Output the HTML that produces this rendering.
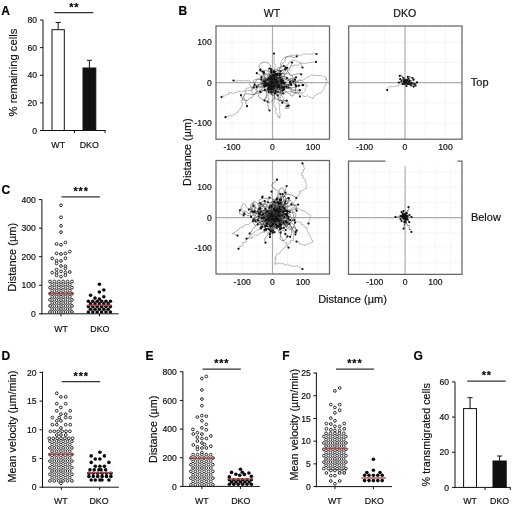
<!DOCTYPE html>
<html><head><meta charset="utf-8"><title>Figure</title>
<style>
html,body{margin:0;padding:0;background:#fff;}
svg{display:block;will-change:transform;}
text{font-family:"Liberation Sans", sans-serif;stroke:#111;stroke-width:0.18px;}
</style></head>
<body>
<svg width="520" height="507" viewBox="0 0 520 507">
<rect width="520" height="507" fill="#fff"/>
<text x="1.30" y="15.00" font-size="12" text-anchor="start" font-weight="bold" fill="#000">A</text>
<line x1="43.00" y1="20.00" x2="43.00" y2="131.00" stroke="#111" stroke-width="1"/>
<line x1="40.00" y1="130.50" x2="43.00" y2="130.50" stroke="#111" stroke-width="1"/>
<text x="37.00" y="133.60" font-size="8.6" text-anchor="end" font-weight="normal" fill="#111">0</text>
<line x1="40.00" y1="102.88" x2="43.00" y2="102.88" stroke="#111" stroke-width="1"/>
<text x="37.00" y="105.97" font-size="8.6" text-anchor="end" font-weight="normal" fill="#111">20</text>
<line x1="40.00" y1="75.25" x2="43.00" y2="75.25" stroke="#111" stroke-width="1"/>
<text x="37.00" y="78.35" font-size="8.6" text-anchor="end" font-weight="normal" fill="#111">40</text>
<line x1="40.00" y1="47.62" x2="43.00" y2="47.62" stroke="#111" stroke-width="1"/>
<text x="37.00" y="50.73" font-size="8.6" text-anchor="end" font-weight="normal" fill="#111">60</text>
<line x1="40.00" y1="20.00" x2="43.00" y2="20.00" stroke="#111" stroke-width="1"/>
<text x="37.00" y="23.10" font-size="8.6" text-anchor="end" font-weight="normal" fill="#111">80</text>
<line x1="42.50" y1="130.50" x2="105.50" y2="130.50" stroke="#111" stroke-width="1"/>
<line x1="74.50" y1="130.50" x2="74.50" y2="133.10" stroke="#111" stroke-width="1"/>
<line x1="105.00" y1="130.50" x2="105.00" y2="133.10" stroke="#111" stroke-width="1"/>
<rect x="52.00" y="29.67" width="12.30" height="100.83" fill="#fff" stroke="#111" stroke-width="1"/>
<line x1="58.15" y1="29.67" x2="58.15" y2="22.50" stroke="#111" stroke-width="1"/>
<line x1="55.60" y1="22.50" x2="60.70" y2="22.50" stroke="#111" stroke-width="1"/>
<rect x="83.00" y="68.00" width="12.80" height="62.50" fill="#111" stroke="#111" stroke-width="1"/>
<line x1="89.40" y1="68.00" x2="89.40" y2="60.30" stroke="#111" stroke-width="1"/>
<line x1="86.90" y1="60.30" x2="91.90" y2="60.30" stroke="#111" stroke-width="1"/>
<line x1="54.30" y1="12.60" x2="93.30" y2="12.60" stroke="#333" stroke-width="1.3"/>
<text x="71.30" y="11.30" font-size="10.8" text-anchor="middle" font-weight="bold" fill="#000">*</text>
<text x="76.30" y="11.30" font-size="10.8" text-anchor="middle" font-weight="bold" fill="#000">*</text>
<text x="58.20" y="147.90" font-size="8.8" text-anchor="middle" font-weight="normal" fill="#111">WT</text>
<text x="89.30" y="147.90" font-size="8.8" text-anchor="middle" font-weight="normal" fill="#111">DKO</text>
<text x="17.00" y="72.60" font-size="11.2" text-anchor="middle" font-weight="normal" fill="#111" transform="rotate(-90 17.00 72.60)">% remaining cells</text>
<text x="1.60" y="194.00" font-size="12" text-anchor="start" font-weight="bold" fill="#000">C</text>
<line x1="41.90" y1="199.40" x2="41.90" y2="314.30" stroke="#111" stroke-width="1"/>
<line x1="38.90" y1="313.80" x2="41.90" y2="313.80" stroke="#111" stroke-width="1"/>
<text x="35.90" y="316.90" font-size="8.6" text-anchor="end" font-weight="normal" fill="#111">0</text>
<line x1="38.90" y1="285.25" x2="41.90" y2="285.25" stroke="#111" stroke-width="1"/>
<text x="35.90" y="288.35" font-size="8.6" text-anchor="end" font-weight="normal" fill="#111">100</text>
<line x1="38.90" y1="256.70" x2="41.90" y2="256.70" stroke="#111" stroke-width="1"/>
<text x="35.90" y="259.80" font-size="8.6" text-anchor="end" font-weight="normal" fill="#111">200</text>
<line x1="38.90" y1="228.15" x2="41.90" y2="228.15" stroke="#111" stroke-width="1"/>
<text x="35.90" y="231.25" font-size="8.6" text-anchor="end" font-weight="normal" fill="#111">300</text>
<line x1="38.90" y1="199.60" x2="41.90" y2="199.60" stroke="#111" stroke-width="1"/>
<text x="35.90" y="202.70" font-size="8.6" text-anchor="end" font-weight="normal" fill="#111">400</text>
<line x1="41.40" y1="313.80" x2="118.60" y2="313.80" stroke="#111" stroke-width="1"/>
<line x1="61.00" y1="313.80" x2="61.00" y2="316.40" stroke="#111" stroke-width="1"/>
<line x1="99.40" y1="313.80" x2="99.40" y2="316.40" stroke="#111" stroke-width="1"/>
<line x1="61.50" y1="196.80" x2="99.90" y2="196.80" stroke="#333" stroke-width="1.3"/>
<text x="75.55" y="195.00" font-size="10.8" text-anchor="middle" font-weight="bold" fill="#000">*</text>
<text x="80.65" y="195.00" font-size="10.8" text-anchor="middle" font-weight="bold" fill="#000">*</text>
<text x="85.75" y="195.00" font-size="10.8" text-anchor="middle" font-weight="bold" fill="#000">*</text>
<text x="61.00" y="332.00" font-size="8.8" text-anchor="middle" font-weight="normal" fill="#111">WT</text>
<text x="99.85" y="332.00" font-size="8.8" text-anchor="middle" font-weight="normal" fill="#111">DKO</text>
<text x="15.60" y="257.30" font-size="11" text-anchor="middle" font-weight="normal" fill="#111" transform="rotate(-90 15.60 257.30)">Distance (&#181;m)</text>
<g fill="#fff" stroke="#222" stroke-width="0.95"><circle cx="61.00" cy="205.30" r="1.38"/><circle cx="61.00" cy="217.30" r="1.38"/><circle cx="61.00" cy="225.80" r="1.38"/><circle cx="61.00" cy="232.10" r="1.38"/><circle cx="56.60" cy="243.90" r="1.38"/><circle cx="61.00" cy="244.80" r="1.38"/><circle cx="65.40" cy="242.50" r="1.38"/><circle cx="56.60" cy="253.40" r="1.38"/><circle cx="61.00" cy="254.00" r="1.38"/><circle cx="65.40" cy="253.40" r="1.38"/><circle cx="69.80" cy="251.60" r="1.38"/><circle cx="52.20" cy="258.40" r="1.38"/><circle cx="65.40" cy="258.20" r="1.38"/><circle cx="56.60" cy="260.70" r="1.38"/><circle cx="61.00" cy="260.90" r="1.38"/><circle cx="56.60" cy="263.50" r="1.38"/><circle cx="61.00" cy="266.00" r="1.38"/><circle cx="65.40" cy="266.20" r="1.38"/><circle cx="65.40" cy="268.60" r="1.38"/><circle cx="56.60" cy="269.60" r="1.38"/><circle cx="61.00" cy="271.40" r="1.38"/><circle cx="52.20" cy="272.60" r="1.38"/><circle cx="56.60" cy="272.90" r="1.38"/><circle cx="65.40" cy="272.60" r="1.38"/><circle cx="69.80" cy="272.00" r="1.38"/><circle cx="56.60" cy="275.40" r="1.38"/><circle cx="65.40" cy="275.20" r="1.38"/><circle cx="61.00" cy="276.60" r="1.38"/><circle cx="50.00" cy="312.00" r="1.38"/><circle cx="54.40" cy="312.00" r="1.38"/><circle cx="58.80" cy="312.00" r="1.38"/><circle cx="63.20" cy="312.00" r="1.38"/><circle cx="67.60" cy="312.00" r="1.38"/><circle cx="72.00" cy="312.00" r="1.38"/><circle cx="52.20" cy="308.95" r="1.38"/><circle cx="56.60" cy="308.95" r="1.38"/><circle cx="61.00" cy="308.95" r="1.38"/><circle cx="65.40" cy="308.95" r="1.38"/><circle cx="69.80" cy="308.95" r="1.38"/><circle cx="50.00" cy="305.90" r="1.38"/><circle cx="54.40" cy="305.90" r="1.38"/><circle cx="58.80" cy="305.90" r="1.38"/><circle cx="63.20" cy="305.90" r="1.38"/><circle cx="67.60" cy="305.90" r="1.38"/><circle cx="72.00" cy="305.90" r="1.38"/><circle cx="52.20" cy="302.85" r="1.38"/><circle cx="56.60" cy="302.85" r="1.38"/><circle cx="61.00" cy="302.85" r="1.38"/><circle cx="65.40" cy="302.85" r="1.38"/><circle cx="69.80" cy="302.85" r="1.38"/><circle cx="50.00" cy="299.80" r="1.38"/><circle cx="54.40" cy="299.80" r="1.38"/><circle cx="58.80" cy="299.80" r="1.38"/><circle cx="63.20" cy="299.80" r="1.38"/><circle cx="67.60" cy="299.80" r="1.38"/><circle cx="72.00" cy="299.80" r="1.38"/><circle cx="52.20" cy="296.75" r="1.38"/><circle cx="56.60" cy="296.75" r="1.38"/><circle cx="61.00" cy="296.75" r="1.38"/><circle cx="65.40" cy="296.75" r="1.38"/><circle cx="69.80" cy="296.75" r="1.38"/><circle cx="50.00" cy="293.70" r="1.38"/><circle cx="54.40" cy="293.70" r="1.38"/><circle cx="58.80" cy="293.70" r="1.38"/><circle cx="63.20" cy="293.70" r="1.38"/><circle cx="67.60" cy="293.70" r="1.38"/><circle cx="72.00" cy="293.70" r="1.38"/><circle cx="52.20" cy="290.65" r="1.38"/><circle cx="56.60" cy="290.65" r="1.38"/><circle cx="61.00" cy="290.65" r="1.38"/><circle cx="65.40" cy="290.65" r="1.38"/><circle cx="69.80" cy="290.65" r="1.38"/><circle cx="50.00" cy="287.60" r="1.38"/><circle cx="54.40" cy="287.60" r="1.38"/><circle cx="58.80" cy="287.60" r="1.38"/><circle cx="63.20" cy="287.60" r="1.38"/><circle cx="67.60" cy="287.60" r="1.38"/><circle cx="72.00" cy="287.60" r="1.38"/><circle cx="52.20" cy="284.55" r="1.38"/><circle cx="56.60" cy="284.55" r="1.38"/><circle cx="61.00" cy="284.55" r="1.38"/><circle cx="65.40" cy="284.55" r="1.38"/><circle cx="69.80" cy="284.55" r="1.38"/><circle cx="50.00" cy="281.50" r="1.38"/><circle cx="54.40" cy="281.50" r="1.38"/><circle cx="58.80" cy="281.50" r="1.38"/><circle cx="63.20" cy="281.50" r="1.38"/><circle cx="67.60" cy="281.50" r="1.38"/><circle cx="72.00" cy="281.50" r="1.38"/></g>
<line x1="48.30" y1="293.60" x2="73.90" y2="293.60" stroke="#b04545" stroke-width="1.4"/>
<g fill="#0a0a0a"><circle cx="99.40" cy="284.30" r="1.8"/><circle cx="103.80" cy="290.00" r="1.8"/><circle cx="99.40" cy="292.00" r="1.8"/><circle cx="90.60" cy="295.30" r="1.8"/><circle cx="103.80" cy="296.70" r="1.8"/><circle cx="95.00" cy="298.10" r="1.8"/><circle cx="99.40" cy="299.00" r="1.8"/><circle cx="88.40" cy="312.00" r="1.8"/><circle cx="92.80" cy="312.00" r="1.8"/><circle cx="97.20" cy="312.00" r="1.8"/><circle cx="101.60" cy="312.00" r="1.8"/><circle cx="106.00" cy="312.00" r="1.8"/><circle cx="110.40" cy="312.00" r="1.8"/><circle cx="90.60" cy="309.30" r="1.8"/><circle cx="95.00" cy="309.30" r="1.8"/><circle cx="99.40" cy="309.30" r="1.8"/><circle cx="103.80" cy="309.30" r="1.8"/><circle cx="108.20" cy="309.30" r="1.8"/><circle cx="88.40" cy="306.60" r="1.8"/><circle cx="92.80" cy="306.60" r="1.8"/><circle cx="97.20" cy="306.60" r="1.8"/><circle cx="101.60" cy="306.60" r="1.8"/><circle cx="106.00" cy="306.60" r="1.8"/><circle cx="110.40" cy="306.60" r="1.8"/><circle cx="90.60" cy="303.90" r="1.8"/><circle cx="95.00" cy="303.90" r="1.8"/><circle cx="99.40" cy="303.90" r="1.8"/><circle cx="103.80" cy="303.90" r="1.8"/><circle cx="108.20" cy="303.90" r="1.8"/><circle cx="88.40" cy="301.20" r="1.8"/><circle cx="92.80" cy="301.20" r="1.8"/><circle cx="97.20" cy="301.20" r="1.8"/><circle cx="101.60" cy="301.20" r="1.8"/><circle cx="106.00" cy="301.20" r="1.8"/><circle cx="110.40" cy="301.20" r="1.8"/></g>
<line x1="87.10" y1="305.30" x2="112.00" y2="305.30" stroke="#b04545" stroke-width="1.4"/>
<text x="1.60" y="360.00" font-size="12" text-anchor="start" font-weight="bold" fill="#000">D</text>
<line x1="42.50" y1="371.60" x2="42.50" y2="487.70" stroke="#111" stroke-width="1"/>
<line x1="39.50" y1="487.20" x2="42.50" y2="487.20" stroke="#111" stroke-width="1"/>
<text x="36.50" y="490.30" font-size="8.6" text-anchor="end" font-weight="normal" fill="#111">0</text>
<line x1="39.50" y1="458.50" x2="42.50" y2="458.50" stroke="#111" stroke-width="1"/>
<text x="36.50" y="461.60" font-size="8.6" text-anchor="end" font-weight="normal" fill="#111">5</text>
<line x1="39.50" y1="429.80" x2="42.50" y2="429.80" stroke="#111" stroke-width="1"/>
<text x="36.50" y="432.90" font-size="8.6" text-anchor="end" font-weight="normal" fill="#111">10</text>
<line x1="39.50" y1="401.10" x2="42.50" y2="401.10" stroke="#111" stroke-width="1"/>
<text x="36.50" y="404.20" font-size="8.6" text-anchor="end" font-weight="normal" fill="#111">15</text>
<line x1="39.50" y1="372.40" x2="42.50" y2="372.40" stroke="#111" stroke-width="1"/>
<text x="36.50" y="375.50" font-size="8.6" text-anchor="end" font-weight="normal" fill="#111">20</text>
<line x1="42.00" y1="487.20" x2="118.90" y2="487.20" stroke="#111" stroke-width="1"/>
<line x1="61.30" y1="487.20" x2="61.30" y2="489.80" stroke="#111" stroke-width="1"/>
<line x1="99.70" y1="487.20" x2="99.70" y2="489.80" stroke="#111" stroke-width="1"/>
<line x1="61.60" y1="381.70" x2="100.20" y2="381.70" stroke="#333" stroke-width="1.3"/>
<text x="75.65" y="379.60" font-size="10.8" text-anchor="middle" font-weight="bold" fill="#000">*</text>
<text x="80.75" y="379.60" font-size="10.8" text-anchor="middle" font-weight="bold" fill="#000">*</text>
<text x="85.85" y="379.60" font-size="10.8" text-anchor="middle" font-weight="bold" fill="#000">*</text>
<text x="60.80" y="503.80" font-size="8.8" text-anchor="middle" font-weight="normal" fill="#111">WT</text>
<text x="99.00" y="503.80" font-size="8.8" text-anchor="middle" font-weight="normal" fill="#111">DKO</text>
<text x="16.00" y="426.50" font-size="10.8" text-anchor="middle" font-weight="normal" fill="#111" transform="rotate(-90 16.00 426.50)">Mean velocity (&#181;m/min)</text>
<g fill="#fff" stroke="#222" stroke-width="0.95"><circle cx="56.80" cy="393.30" r="1.38"/><circle cx="60.90" cy="396.90" r="1.38"/><circle cx="65.70" cy="396.90" r="1.38"/><circle cx="56.80" cy="403.70" r="1.38"/><circle cx="65.70" cy="403.70" r="1.38"/><circle cx="60.90" cy="407.50" r="1.38"/><circle cx="56.80" cy="410.80" r="1.38"/><circle cx="70.20" cy="410.80" r="1.38"/><circle cx="60.90" cy="414.10" r="1.38"/><circle cx="65.70" cy="414.10" r="1.38"/><circle cx="52.40" cy="417.60" r="1.38"/><circle cx="59.20" cy="417.60" r="1.38"/><circle cx="65.70" cy="417.60" r="1.38"/><circle cx="70.20" cy="417.60" r="1.38"/><circle cx="56.80" cy="420.80" r="1.38"/><circle cx="60.90" cy="420.80" r="1.38"/><circle cx="52.40" cy="424.70" r="1.38"/><circle cx="56.80" cy="424.70" r="1.38"/><circle cx="65.70" cy="424.70" r="1.38"/><circle cx="70.20" cy="424.70" r="1.38"/><circle cx="60.90" cy="427.90" r="1.38"/><circle cx="50.40" cy="431.30" r="1.38"/><circle cx="54.30" cy="431.30" r="1.38"/><circle cx="58.20" cy="431.30" r="1.38"/><circle cx="62.10" cy="431.30" r="1.38"/><circle cx="66.00" cy="431.30" r="1.38"/><circle cx="69.90" cy="431.30" r="1.38"/><circle cx="56.80" cy="435.00" r="1.38"/><circle cx="60.90" cy="435.00" r="1.38"/><circle cx="65.70" cy="435.00" r="1.38"/><circle cx="49.30" cy="438.30" r="1.38"/><circle cx="53.20" cy="438.30" r="1.38"/><circle cx="57.10" cy="438.30" r="1.38"/><circle cx="61.00" cy="438.30" r="1.38"/><circle cx="64.90" cy="438.30" r="1.38"/><circle cx="68.80" cy="438.30" r="1.38"/><circle cx="72.70" cy="438.30" r="1.38"/><circle cx="49.90" cy="480.90" r="1.38"/><circle cx="54.30" cy="480.90" r="1.38"/><circle cx="58.70" cy="480.90" r="1.38"/><circle cx="63.10" cy="480.90" r="1.38"/><circle cx="67.50" cy="480.90" r="1.38"/><circle cx="71.90" cy="480.90" r="1.38"/><circle cx="52.10" cy="477.60" r="1.38"/><circle cx="56.50" cy="477.60" r="1.38"/><circle cx="60.90" cy="477.60" r="1.38"/><circle cx="65.30" cy="477.60" r="1.38"/><circle cx="69.70" cy="477.60" r="1.38"/><circle cx="49.90" cy="474.30" r="1.38"/><circle cx="54.30" cy="474.30" r="1.38"/><circle cx="58.70" cy="474.30" r="1.38"/><circle cx="63.10" cy="474.30" r="1.38"/><circle cx="67.50" cy="474.30" r="1.38"/><circle cx="71.90" cy="474.30" r="1.38"/><circle cx="52.10" cy="471.00" r="1.38"/><circle cx="56.50" cy="471.00" r="1.38"/><circle cx="60.90" cy="471.00" r="1.38"/><circle cx="65.30" cy="471.00" r="1.38"/><circle cx="69.70" cy="471.00" r="1.38"/><circle cx="49.90" cy="467.70" r="1.38"/><circle cx="54.30" cy="467.70" r="1.38"/><circle cx="58.70" cy="467.70" r="1.38"/><circle cx="63.10" cy="467.70" r="1.38"/><circle cx="67.50" cy="467.70" r="1.38"/><circle cx="71.90" cy="467.70" r="1.38"/><circle cx="52.10" cy="464.40" r="1.38"/><circle cx="56.50" cy="464.40" r="1.38"/><circle cx="60.90" cy="464.40" r="1.38"/><circle cx="65.30" cy="464.40" r="1.38"/><circle cx="69.70" cy="464.40" r="1.38"/><circle cx="49.90" cy="461.10" r="1.38"/><circle cx="54.30" cy="461.10" r="1.38"/><circle cx="58.70" cy="461.10" r="1.38"/><circle cx="63.10" cy="461.10" r="1.38"/><circle cx="67.50" cy="461.10" r="1.38"/><circle cx="71.90" cy="461.10" r="1.38"/><circle cx="52.10" cy="457.80" r="1.38"/><circle cx="56.50" cy="457.80" r="1.38"/><circle cx="60.90" cy="457.80" r="1.38"/><circle cx="65.30" cy="457.80" r="1.38"/><circle cx="69.70" cy="457.80" r="1.38"/><circle cx="49.90" cy="454.50" r="1.38"/><circle cx="54.30" cy="454.50" r="1.38"/><circle cx="58.70" cy="454.50" r="1.38"/><circle cx="63.10" cy="454.50" r="1.38"/><circle cx="67.50" cy="454.50" r="1.38"/><circle cx="71.90" cy="454.50" r="1.38"/><circle cx="52.10" cy="451.20" r="1.38"/><circle cx="56.50" cy="451.20" r="1.38"/><circle cx="60.90" cy="451.20" r="1.38"/><circle cx="65.30" cy="451.20" r="1.38"/><circle cx="69.70" cy="451.20" r="1.38"/><circle cx="49.90" cy="447.90" r="1.38"/><circle cx="54.30" cy="447.90" r="1.38"/><circle cx="58.70" cy="447.90" r="1.38"/><circle cx="63.10" cy="447.90" r="1.38"/><circle cx="67.50" cy="447.90" r="1.38"/><circle cx="71.90" cy="447.90" r="1.38"/><circle cx="52.10" cy="444.60" r="1.38"/><circle cx="56.50" cy="444.60" r="1.38"/><circle cx="60.90" cy="444.60" r="1.38"/><circle cx="65.30" cy="444.60" r="1.38"/><circle cx="69.70" cy="444.60" r="1.38"/><circle cx="49.90" cy="441.30" r="1.38"/><circle cx="54.30" cy="441.30" r="1.38"/><circle cx="58.70" cy="441.30" r="1.38"/><circle cx="63.10" cy="441.30" r="1.38"/><circle cx="67.50" cy="441.30" r="1.38"/><circle cx="71.90" cy="441.30" r="1.38"/><circle cx="60.90" cy="483.30" r="1.38"/></g>
<line x1="48.30" y1="454.30" x2="74.20" y2="454.30" stroke="#b04545" stroke-width="1.4"/>
<g fill="#0a0a0a"><circle cx="99.90" cy="452.30" r="1.8"/><circle cx="91.20" cy="455.90" r="1.8"/><circle cx="104.40" cy="455.90" r="1.8"/><circle cx="95.30" cy="459.00" r="1.8"/><circle cx="99.90" cy="459.00" r="1.8"/><circle cx="91.20" cy="462.40" r="1.8"/><circle cx="108.90" cy="462.40" r="1.8"/><circle cx="95.30" cy="466.20" r="1.8"/><circle cx="99.90" cy="466.20" r="1.8"/><circle cx="104.40" cy="466.20" r="1.8"/><circle cx="90.00" cy="469.70" r="1.8"/><circle cx="94.30" cy="469.70" r="1.8"/><circle cx="98.90" cy="469.70" r="1.8"/><circle cx="101.00" cy="469.70" r="1.8"/><circle cx="105.60" cy="469.70" r="1.8"/><circle cx="88.90" cy="476.40" r="1.8"/><circle cx="93.30" cy="476.40" r="1.8"/><circle cx="97.70" cy="476.40" r="1.8"/><circle cx="102.10" cy="476.40" r="1.8"/><circle cx="106.50" cy="476.40" r="1.8"/><circle cx="110.90" cy="476.40" r="1.8"/><circle cx="88.90" cy="473.30" r="1.8"/><circle cx="93.30" cy="473.30" r="1.8"/><circle cx="97.70" cy="473.30" r="1.8"/><circle cx="102.10" cy="473.30" r="1.8"/><circle cx="106.50" cy="473.30" r="1.8"/><circle cx="110.90" cy="473.30" r="1.8"/><circle cx="91.20" cy="480.00" r="1.8"/><circle cx="95.30" cy="480.00" r="1.8"/><circle cx="99.90" cy="480.00" r="1.8"/><circle cx="102.00" cy="480.00" r="1.8"/><circle cx="108.90" cy="480.00" r="1.8"/></g>
<line x1="87.60" y1="472.60" x2="112.80" y2="472.60" stroke="#b04545" stroke-width="1.4"/>
<text x="145.60" y="360.00" font-size="12" text-anchor="start" font-weight="bold" fill="#000">E</text>
<line x1="182.90" y1="371.40" x2="182.90" y2="486.90" stroke="#111" stroke-width="1"/>
<line x1="179.90" y1="486.40" x2="182.90" y2="486.40" stroke="#111" stroke-width="1"/>
<text x="176.90" y="489.50" font-size="8.6" text-anchor="end" font-weight="normal" fill="#111">0</text>
<line x1="179.90" y1="457.75" x2="182.90" y2="457.75" stroke="#111" stroke-width="1"/>
<text x="176.90" y="460.85" font-size="8.6" text-anchor="end" font-weight="normal" fill="#111">200</text>
<line x1="179.90" y1="429.10" x2="182.90" y2="429.10" stroke="#111" stroke-width="1"/>
<text x="176.90" y="432.20" font-size="8.6" text-anchor="end" font-weight="normal" fill="#111">400</text>
<line x1="179.90" y1="400.45" x2="182.90" y2="400.45" stroke="#111" stroke-width="1"/>
<text x="176.90" y="403.55" font-size="8.6" text-anchor="end" font-weight="normal" fill="#111">600</text>
<line x1="179.90" y1="371.80" x2="182.90" y2="371.80" stroke="#111" stroke-width="1"/>
<text x="176.90" y="374.90" font-size="8.6" text-anchor="end" font-weight="normal" fill="#111">800</text>
<line x1="182.40" y1="486.40" x2="259.70" y2="486.40" stroke="#111" stroke-width="1"/>
<line x1="201.90" y1="486.40" x2="201.90" y2="489.00" stroke="#111" stroke-width="1"/>
<line x1="240.40" y1="486.40" x2="240.40" y2="489.00" stroke="#111" stroke-width="1"/>
<line x1="202.60" y1="369.10" x2="240.80" y2="369.10" stroke="#333" stroke-width="1.3"/>
<text x="216.25" y="367.20" font-size="10.8" text-anchor="middle" font-weight="bold" fill="#000">*</text>
<text x="221.35" y="367.20" font-size="10.8" text-anchor="middle" font-weight="bold" fill="#000">*</text>
<text x="226.45" y="367.20" font-size="10.8" text-anchor="middle" font-weight="bold" fill="#000">*</text>
<text x="201.80" y="503.80" font-size="8.8" text-anchor="middle" font-weight="normal" fill="#111">WT</text>
<text x="240.70" y="503.80" font-size="8.8" text-anchor="middle" font-weight="normal" fill="#111">DKO</text>
<text x="156.80" y="429.40" font-size="10.8" text-anchor="middle" font-weight="normal" fill="#111" transform="rotate(-90 156.80 429.40)">Distance (&#181;m)</text>
<g fill="#fff" stroke="#222" stroke-width="0.95"><circle cx="201.90" cy="378.50" r="1.38"/><circle cx="206.30" cy="376.50" r="1.38"/><circle cx="201.90" cy="389.90" r="1.38"/><circle cx="201.90" cy="399.00" r="1.38"/><circle cx="201.90" cy="405.70" r="1.38"/><circle cx="197.40" cy="417.10" r="1.38"/><circle cx="201.90" cy="415.60" r="1.38"/><circle cx="206.30" cy="416.20" r="1.38"/><circle cx="201.90" cy="420.70" r="1.38"/><circle cx="206.30" cy="424.40" r="1.38"/><circle cx="192.90" cy="429.40" r="1.38"/><circle cx="201.90" cy="427.80" r="1.38"/><circle cx="206.30" cy="429.80" r="1.38"/><circle cx="193.30" cy="434.00" r="1.38"/><circle cx="197.40" cy="432.70" r="1.38"/><circle cx="201.90" cy="434.00" r="1.38"/><circle cx="210.80" cy="435.90" r="1.38"/><circle cx="197.40" cy="437.20" r="1.38"/><circle cx="201.90" cy="438.50" r="1.38"/><circle cx="206.40" cy="438.50" r="1.38"/><circle cx="197.40" cy="441.00" r="1.38"/><circle cx="201.90" cy="443.00" r="1.38"/><circle cx="204.40" cy="444.50" r="1.38"/><circle cx="193.30" cy="444.90" r="1.38"/><circle cx="197.40" cy="446.80" r="1.38"/><circle cx="201.90" cy="448.00" r="1.38"/><circle cx="206.40" cy="448.00" r="1.38"/><circle cx="210.80" cy="446.20" r="1.38"/><circle cx="197.40" cy="449.50" r="1.38"/><circle cx="201.90" cy="452.60" r="1.38"/><circle cx="190.90" cy="484.80" r="1.38"/><circle cx="195.30" cy="484.80" r="1.38"/><circle cx="199.70" cy="484.80" r="1.38"/><circle cx="204.10" cy="484.80" r="1.38"/><circle cx="208.50" cy="484.80" r="1.38"/><circle cx="212.90" cy="484.80" r="1.38"/><circle cx="193.10" cy="481.45" r="1.38"/><circle cx="197.50" cy="481.45" r="1.38"/><circle cx="201.90" cy="481.45" r="1.38"/><circle cx="206.30" cy="481.45" r="1.38"/><circle cx="210.70" cy="481.45" r="1.38"/><circle cx="190.90" cy="478.10" r="1.38"/><circle cx="195.30" cy="478.10" r="1.38"/><circle cx="199.70" cy="478.10" r="1.38"/><circle cx="204.10" cy="478.10" r="1.38"/><circle cx="208.50" cy="478.10" r="1.38"/><circle cx="212.90" cy="478.10" r="1.38"/><circle cx="193.10" cy="474.75" r="1.38"/><circle cx="197.50" cy="474.75" r="1.38"/><circle cx="201.90" cy="474.75" r="1.38"/><circle cx="206.30" cy="474.75" r="1.38"/><circle cx="210.70" cy="474.75" r="1.38"/><circle cx="190.90" cy="471.40" r="1.38"/><circle cx="195.30" cy="471.40" r="1.38"/><circle cx="199.70" cy="471.40" r="1.38"/><circle cx="204.10" cy="471.40" r="1.38"/><circle cx="208.50" cy="471.40" r="1.38"/><circle cx="212.90" cy="471.40" r="1.38"/><circle cx="193.10" cy="468.05" r="1.38"/><circle cx="197.50" cy="468.05" r="1.38"/><circle cx="201.90" cy="468.05" r="1.38"/><circle cx="206.30" cy="468.05" r="1.38"/><circle cx="210.70" cy="468.05" r="1.38"/><circle cx="190.90" cy="464.70" r="1.38"/><circle cx="195.30" cy="464.70" r="1.38"/><circle cx="199.70" cy="464.70" r="1.38"/><circle cx="204.10" cy="464.70" r="1.38"/><circle cx="208.50" cy="464.70" r="1.38"/><circle cx="212.90" cy="464.70" r="1.38"/><circle cx="193.10" cy="461.35" r="1.38"/><circle cx="197.50" cy="461.35" r="1.38"/><circle cx="201.90" cy="461.35" r="1.38"/><circle cx="206.30" cy="461.35" r="1.38"/><circle cx="210.70" cy="461.35" r="1.38"/><circle cx="190.90" cy="458.00" r="1.38"/><circle cx="195.30" cy="458.00" r="1.38"/><circle cx="199.70" cy="458.00" r="1.38"/><circle cx="204.10" cy="458.00" r="1.38"/><circle cx="208.50" cy="458.00" r="1.38"/><circle cx="212.90" cy="458.00" r="1.38"/><circle cx="193.10" cy="454.65" r="1.38"/><circle cx="197.50" cy="454.65" r="1.38"/><circle cx="201.90" cy="454.65" r="1.38"/><circle cx="206.30" cy="454.65" r="1.38"/><circle cx="210.70" cy="454.65" r="1.38"/></g>
<line x1="189.20" y1="458.30" x2="214.80" y2="458.30" stroke="#b04545" stroke-width="1.4"/>
<g fill="#0a0a0a"><circle cx="240.40" cy="469.20" r="1.8"/><circle cx="231.50" cy="472.40" r="1.8"/><circle cx="242.30" cy="472.20" r="1.8"/><circle cx="248.90" cy="473.00" r="1.8"/><circle cx="235.90" cy="474.20" r="1.8"/><circle cx="244.40" cy="474.40" r="1.8"/><circle cx="239.80" cy="475.30" r="1.8"/><circle cx="251.40" cy="476.30" r="1.8"/><circle cx="229.30" cy="476.90" r="1.8"/><circle cx="229.40" cy="484.30" r="1.8"/><circle cx="233.80" cy="484.30" r="1.8"/><circle cx="238.20" cy="484.30" r="1.8"/><circle cx="242.60" cy="484.30" r="1.8"/><circle cx="247.00" cy="484.30" r="1.8"/><circle cx="251.40" cy="484.30" r="1.8"/><circle cx="231.60" cy="482.00" r="1.8"/><circle cx="236.00" cy="482.00" r="1.8"/><circle cx="240.40" cy="482.00" r="1.8"/><circle cx="244.80" cy="482.00" r="1.8"/><circle cx="249.20" cy="482.00" r="1.8"/><circle cx="229.40" cy="479.70" r="1.8"/><circle cx="233.80" cy="479.70" r="1.8"/><circle cx="238.20" cy="479.70" r="1.8"/><circle cx="242.60" cy="479.70" r="1.8"/><circle cx="247.00" cy="479.70" r="1.8"/><circle cx="251.40" cy="479.70" r="1.8"/></g>
<line x1="227.60" y1="479.00" x2="252.80" y2="479.00" stroke="#b04545" stroke-width="1.4"/>
<text x="282.20" y="360.00" font-size="12" text-anchor="start" font-weight="bold" fill="#000">F</text>
<line x1="316.40" y1="372.60" x2="316.40" y2="487.10" stroke="#111" stroke-width="1"/>
<line x1="313.40" y1="486.60" x2="316.40" y2="486.60" stroke="#111" stroke-width="1"/>
<text x="310.80" y="489.70" font-size="8.6" text-anchor="end" font-weight="normal" fill="#111">0</text>
<line x1="313.40" y1="463.88" x2="316.40" y2="463.88" stroke="#111" stroke-width="1"/>
<text x="310.80" y="466.98" font-size="8.6" text-anchor="end" font-weight="normal" fill="#111">5</text>
<line x1="313.40" y1="441.16" x2="316.40" y2="441.16" stroke="#111" stroke-width="1"/>
<text x="310.80" y="444.26" font-size="8.6" text-anchor="end" font-weight="normal" fill="#111">10</text>
<line x1="313.40" y1="418.44" x2="316.40" y2="418.44" stroke="#111" stroke-width="1"/>
<text x="310.80" y="421.54" font-size="8.6" text-anchor="end" font-weight="normal" fill="#111">15</text>
<line x1="313.40" y1="395.72" x2="316.40" y2="395.72" stroke="#111" stroke-width="1"/>
<text x="310.80" y="398.82" font-size="8.6" text-anchor="end" font-weight="normal" fill="#111">20</text>
<line x1="313.40" y1="373.00" x2="316.40" y2="373.00" stroke="#111" stroke-width="1"/>
<text x="310.80" y="376.10" font-size="8.6" text-anchor="end" font-weight="normal" fill="#111">25</text>
<line x1="315.90" y1="486.60" x2="392.00" y2="486.60" stroke="#111" stroke-width="1"/>
<line x1="334.90" y1="486.60" x2="334.90" y2="489.20" stroke="#111" stroke-width="1"/>
<line x1="373.40" y1="486.60" x2="373.40" y2="489.20" stroke="#111" stroke-width="1"/>
<line x1="336.00" y1="369.10" x2="374.10" y2="369.10" stroke="#333" stroke-width="1.3"/>
<text x="349.30" y="367.30" font-size="10.8" text-anchor="middle" font-weight="bold" fill="#000">*</text>
<text x="354.40" y="367.30" font-size="10.8" text-anchor="middle" font-weight="bold" fill="#000">*</text>
<text x="359.50" y="367.30" font-size="10.8" text-anchor="middle" font-weight="bold" fill="#000">*</text>
<text x="334.90" y="503.80" font-size="8.8" text-anchor="middle" font-weight="normal" fill="#111">WT</text>
<text x="374.40" y="503.80" font-size="8.8" text-anchor="middle" font-weight="normal" fill="#111">DKO</text>
<text x="297.80" y="424.70" font-size="10.8" text-anchor="middle" font-weight="normal" fill="#111" transform="rotate(-90 297.80 424.70)">Mean velocity (&#181;m/min)</text>
<g fill="#fff" stroke="#222" stroke-width="0.95"><circle cx="334.90" cy="390.90" r="1.38"/><circle cx="339.70" cy="388.00" r="1.38"/><circle cx="330.80" cy="404.60" r="1.38"/><circle cx="339.70" cy="404.60" r="1.38"/><circle cx="334.90" cy="407.50" r="1.38"/><circle cx="339.70" cy="410.20" r="1.38"/><circle cx="334.90" cy="412.90" r="1.38"/><circle cx="330.80" cy="418.10" r="1.38"/><circle cx="334.90" cy="420.80" r="1.38"/><circle cx="326.40" cy="423.60" r="1.38"/><circle cx="330.80" cy="424.00" r="1.38"/><circle cx="344.20" cy="423.60" r="1.38"/><circle cx="334.90" cy="426.40" r="1.38"/><circle cx="339.70" cy="426.40" r="1.38"/><circle cx="326.40" cy="428.80" r="1.38"/><circle cx="344.20" cy="428.80" r="1.38"/><circle cx="330.80" cy="429.80" r="1.38"/><circle cx="334.90" cy="430.50" r="1.38"/><circle cx="339.70" cy="430.50" r="1.38"/><circle cx="323.90" cy="468.50" r="1.38"/><circle cx="328.30" cy="468.50" r="1.38"/><circle cx="332.70" cy="468.50" r="1.38"/><circle cx="337.10" cy="468.50" r="1.38"/><circle cx="341.50" cy="468.50" r="1.38"/><circle cx="345.90" cy="468.50" r="1.38"/><circle cx="326.10" cy="465.30" r="1.38"/><circle cx="330.50" cy="465.30" r="1.38"/><circle cx="334.90" cy="465.30" r="1.38"/><circle cx="339.30" cy="465.30" r="1.38"/><circle cx="343.70" cy="465.30" r="1.38"/><circle cx="323.90" cy="462.10" r="1.38"/><circle cx="328.30" cy="462.10" r="1.38"/><circle cx="332.70" cy="462.10" r="1.38"/><circle cx="337.10" cy="462.10" r="1.38"/><circle cx="341.50" cy="462.10" r="1.38"/><circle cx="345.90" cy="462.10" r="1.38"/><circle cx="326.10" cy="458.90" r="1.38"/><circle cx="330.50" cy="458.90" r="1.38"/><circle cx="334.90" cy="458.90" r="1.38"/><circle cx="339.30" cy="458.90" r="1.38"/><circle cx="343.70" cy="458.90" r="1.38"/><circle cx="323.90" cy="455.70" r="1.38"/><circle cx="328.30" cy="455.70" r="1.38"/><circle cx="332.70" cy="455.70" r="1.38"/><circle cx="337.10" cy="455.70" r="1.38"/><circle cx="341.50" cy="455.70" r="1.38"/><circle cx="345.90" cy="455.70" r="1.38"/><circle cx="326.10" cy="452.50" r="1.38"/><circle cx="330.50" cy="452.50" r="1.38"/><circle cx="334.90" cy="452.50" r="1.38"/><circle cx="339.30" cy="452.50" r="1.38"/><circle cx="343.70" cy="452.50" r="1.38"/><circle cx="323.90" cy="449.30" r="1.38"/><circle cx="328.30" cy="449.30" r="1.38"/><circle cx="332.70" cy="449.30" r="1.38"/><circle cx="337.10" cy="449.30" r="1.38"/><circle cx="341.50" cy="449.30" r="1.38"/><circle cx="345.90" cy="449.30" r="1.38"/><circle cx="326.10" cy="446.10" r="1.38"/><circle cx="330.50" cy="446.10" r="1.38"/><circle cx="334.90" cy="446.10" r="1.38"/><circle cx="339.30" cy="446.10" r="1.38"/><circle cx="343.70" cy="446.10" r="1.38"/><circle cx="323.90" cy="442.90" r="1.38"/><circle cx="328.30" cy="442.90" r="1.38"/><circle cx="332.70" cy="442.90" r="1.38"/><circle cx="337.10" cy="442.90" r="1.38"/><circle cx="341.50" cy="442.90" r="1.38"/><circle cx="345.90" cy="442.90" r="1.38"/><circle cx="326.10" cy="439.70" r="1.38"/><circle cx="330.50" cy="439.70" r="1.38"/><circle cx="334.90" cy="439.70" r="1.38"/><circle cx="339.30" cy="439.70" r="1.38"/><circle cx="343.70" cy="439.70" r="1.38"/><circle cx="323.90" cy="436.50" r="1.38"/><circle cx="328.30" cy="436.50" r="1.38"/><circle cx="332.70" cy="436.50" r="1.38"/><circle cx="337.10" cy="436.50" r="1.38"/><circle cx="341.50" cy="436.50" r="1.38"/><circle cx="345.90" cy="436.50" r="1.38"/><circle cx="326.10" cy="433.30" r="1.38"/><circle cx="330.50" cy="433.30" r="1.38"/><circle cx="334.90" cy="433.30" r="1.38"/><circle cx="339.30" cy="433.30" r="1.38"/><circle cx="343.70" cy="433.30" r="1.38"/><circle cx="330.80" cy="470.50" r="1.38"/><circle cx="334.90" cy="470.50" r="1.38"/><circle cx="339.70" cy="470.50" r="1.38"/><circle cx="344.20" cy="470.50" r="1.38"/><circle cx="326.40" cy="473.00" r="1.38"/><circle cx="339.70" cy="473.00" r="1.38"/><circle cx="344.20" cy="473.00" r="1.38"/><circle cx="330.80" cy="475.60" r="1.38"/><circle cx="334.90" cy="475.60" r="1.38"/><circle cx="330.80" cy="481.00" r="1.38"/><circle cx="339.70" cy="481.00" r="1.38"/><circle cx="334.90" cy="483.80" r="1.38"/></g>
<line x1="323.00" y1="448.70" x2="348.20" y2="448.70" stroke="#b04545" stroke-width="1.4"/>
<g fill="#0a0a0a"><circle cx="373.40" cy="459.30" r="1.8"/><circle cx="373.40" cy="470.30" r="1.8"/><circle cx="366.80" cy="472.50" r="1.8"/><circle cx="380.00" cy="472.50" r="1.8"/><circle cx="364.60" cy="475.30" r="1.8"/><circle cx="369.00" cy="475.30" r="1.8"/><circle cx="373.40" cy="475.30" r="1.8"/><circle cx="377.80" cy="475.30" r="1.8"/><circle cx="382.20" cy="475.30" r="1.8"/><circle cx="364.60" cy="480.60" r="1.8"/><circle cx="369.00" cy="480.60" r="1.8"/><circle cx="373.40" cy="480.60" r="1.8"/><circle cx="377.80" cy="480.60" r="1.8"/><circle cx="382.20" cy="480.60" r="1.8"/></g>
<line x1="361.40" y1="478.00" x2="385.80" y2="478.00" stroke="#b04545" stroke-width="1.4"/>
<text x="413.40" y="360.30" font-size="12" text-anchor="start" font-weight="bold" fill="#000">G</text>
<line x1="455.00" y1="381.90" x2="455.00" y2="487.90" stroke="#111" stroke-width="1"/>
<line x1="452.00" y1="487.40" x2="455.00" y2="487.40" stroke="#111" stroke-width="1"/>
<text x="449.00" y="490.50" font-size="8.6" text-anchor="end" font-weight="normal" fill="#111">0</text>
<line x1="452.00" y1="452.23" x2="455.00" y2="452.23" stroke="#111" stroke-width="1"/>
<text x="449.00" y="455.33" font-size="8.6" text-anchor="end" font-weight="normal" fill="#111">20</text>
<line x1="452.00" y1="417.07" x2="455.00" y2="417.07" stroke="#111" stroke-width="1"/>
<text x="449.00" y="420.17" font-size="8.6" text-anchor="end" font-weight="normal" fill="#111">40</text>
<line x1="452.00" y1="381.90" x2="455.00" y2="381.90" stroke="#111" stroke-width="1"/>
<text x="449.00" y="385.00" font-size="8.6" text-anchor="end" font-weight="normal" fill="#111">60</text>
<line x1="454.50" y1="487.40" x2="510.50" y2="487.40" stroke="#111" stroke-width="1"/>
<line x1="485.00" y1="487.40" x2="485.00" y2="490.00" stroke="#111" stroke-width="1"/>
<line x1="510.30" y1="487.40" x2="510.30" y2="490.00" stroke="#111" stroke-width="1"/>
<rect x="463.60" y="408.60" width="12.90" height="78.80" fill="#fff" stroke="#111" stroke-width="1"/>
<line x1="470.05" y1="408.60" x2="470.05" y2="397.70" stroke="#111" stroke-width="1"/>
<line x1="467.50" y1="397.70" x2="472.60" y2="397.70" stroke="#111" stroke-width="1"/>
<rect x="493.00" y="461.00" width="13.20" height="26.40" fill="#111" stroke="#111" stroke-width="1"/>
<line x1="499.60" y1="461.00" x2="499.60" y2="456.00" stroke="#111" stroke-width="1"/>
<line x1="497.10" y1="456.00" x2="502.10" y2="456.00" stroke="#111" stroke-width="1"/>
<line x1="467.20" y1="381.10" x2="505.70" y2="381.10" stroke="#333" stroke-width="1.3"/>
<text x="483.95" y="379.30" font-size="10.8" text-anchor="middle" font-weight="bold" fill="#000">*</text>
<text x="488.95" y="379.30" font-size="10.8" text-anchor="middle" font-weight="bold" fill="#000">*</text>
<text x="470.00" y="503.80" font-size="8.8" text-anchor="middle" font-weight="normal" fill="#111">WT</text>
<text x="499.60" y="503.80" font-size="8.8" text-anchor="middle" font-weight="normal" fill="#111">DKO</text>
<text x="430.40" y="434.80" font-size="10.8" text-anchor="middle" font-weight="normal" fill="#111" transform="rotate(-90 430.40 434.80)">% transmigrated cells</text>
<text x="178.40" y="15.10" font-size="12" text-anchor="start" font-weight="bold" fill="#000">B</text>
<text x="271.90" y="16.60" font-size="10.6" text-anchor="middle" font-weight="normal" fill="#111">WT</text>
<text x="404.80" y="16.60" font-size="10.6" text-anchor="middle" font-weight="normal" fill="#111">DKO</text>
<text x="470.80" y="85.70" font-size="11" text-anchor="start" font-weight="normal" fill="#111">Top</text>
<text x="470.90" y="221.20" font-size="11" text-anchor="start" font-weight="normal" fill="#111">Below</text>
<text x="352.50" y="303.40" font-size="11" text-anchor="middle" font-weight="normal" fill="#111">Distance (&#181;m)</text>
<text x="191.30" y="152.20" font-size="10.8" text-anchor="middle" font-weight="normal" fill="#111" transform="rotate(-90 191.30 152.20)">Distance (&#181;m)</text>
<defs><clipPath id="cwt1"><rect x="216" y="26" width="113.5" height="113.2"/></clipPath><clipPath id="cwt2"><rect x="216" y="160.5" width="113.5" height="113.5"/></clipPath><clipPath id="cdk1"><rect x="348.7" y="26" width="113.3" height="113.2"/></clipPath><clipPath id="cdk2"><rect x="348.5" y="161" width="113.5" height="113.4"/></clipPath></defs>
<g stroke="#f0f0f0" stroke-width="0.6"><line x1="252.25" y1="26" x2="252.25" y2="139.2"/><line x1="292.75" y1="26" x2="292.75" y2="139.2"/><line x1="216" y1="62.45" x2="329.5" y2="62.45"/><line x1="216" y1="102.95" x2="329.5" y2="102.95"/><line x1="232.00" y1="26" x2="232.00" y2="139.2"/><line x1="313.00" y1="26" x2="313.00" y2="139.2"/><line x1="216" y1="42.20" x2="329.5" y2="42.20"/><line x1="216" y1="123.20" x2="329.5" y2="123.20"/></g>
<line x1="272.50" y1="26.00" x2="272.50" y2="139.20" stroke="#acacac" stroke-width="1.2"/>
<line x1="216.00" y1="82.70" x2="329.50" y2="82.70" stroke="#acacac" stroke-width="1.2"/>
<g clip-path="url(#cwt1)"><g fill="none" stroke="#777" stroke-width="0.5" stroke-linejoin="round">
<path d="M273.5,83.5 L273.6,80.9 L275.4,78.6 L275.4,76.4 L277.3,74.8 L278.9,70.2 L279.6,69.4 L280.5,65.5 L280.7,62.9 L282.0,60.2 L283.3,58.3 L284.5,57.3 L286.1,56.9 L288.9,56.0 L289.2,55.9 L291.5,55.1 L294.2,55.4 L296.7,54.3 L299.2,55.7 L300.6,55.9 L303.7,53.7 L305.5,54.0 L308.3,54.2 L311.5,54.1 L313.7,53.5 L316.5,54.0"/>
<path d="M278.5,78.5 L278.8,78.0 L279.1,77.2 L279.8,75.4 L282.5,73.9 L282.9,74.0 L283.7,72.5 L285.1,71.9 L285.2,71.3 L286.6,70.1 L286.7,69.2 L288.7,68.4 L289.5,67.8 L291.1,65.6 L293.8,65.7 L293.8,65.4 L295.2,64.9 L298.1,65.3 L300.1,63.3 L302.0,63.0 L304.9,63.7 L306.7,63.2 L308.6,62.5 L312.2,62.4 L314.2,61.8 L316.0,61.9"/>
<path d="M281.5,79.5 L282.5,78.0 L283.9,77.5 L283.6,75.7 L284.7,75.4 L285.8,73.8 L287.2,72.5 L286.6,72.5 L288.2,70.9 L289.5,68.9 L288.9,69.5 L291.2,66.8 L290.5,66.7 L290.9,65.7 L291.9,63.7 L292.0,62.5"/>
<path d="M283.5,85.5 L286.3,84.7 L288.3,86.2 L288.5,85.3 L290.6,83.9 L294.6,84.2 L295.9,82.7 L297.6,81.8 L299.4,80.3 L300.8,80.6 L303.5,79.7 L306.0,78.2 L306.9,77.2 L309.5,76.6 L311.3,74.8 L313.3,75.4 L315.2,75.5 L316.6,75.4 L320.4,75.6 L321.2,75.8 L323.4,76.2 L325.5,76.5 L325.9,77.4 L326.2,79.8 L326.7,78.9 L325.8,79.3 L327.0,80.8 L326.9,81.3 L325.8,83.6 L325.8,84.3 L325.9,85.6 L324.8,86.1 L323.9,86.9 L324.2,88.7 L323.3,90.0 L321.4,92.3 L320.1,92.8 L318.2,93.8 L316.3,94.7 L314.1,96.2 L313.1,98.4 L312.8,98.3 L308.8,96.5 L307.5,95.4 L306.5,96.4 L303.7,96.7 L302.2,94.5 L300.5,93.6 L299.0,92.3 L297.4,92.2 L295.3,91.3 L294.1,89.7 L293.1,89.8 L292.4,89.1 L290.5,88.3 L288.5,87.5"/>
<path d="M265.5,85.5 L264.1,85.6 L261.7,86.2 L261.5,86.9 L261.4,87.0 L260.2,88.3 L258.4,87.7 L256.4,89.3 L255.7,89.4 L252.1,87.8 L252.6,90.0 L250.3,90.3 L247.4,90.6 L245.5,91.6 L244.0,90.6 L241.1,92.1 L240.5,91.9 L238.5,91.2 L236.2,92.5 L234.0,92.6 L233.9,92.9 L232.8,94.1 L231.3,92.8 L228.9,92.4 L228.8,94.7 L226.5,94.6 L225.9,94.9 L225.3,95.6 L223.2,96.6 L222.7,95.5 L221.5,97.1"/>
<path d="M263.5,83.5 L261.3,84.9 L258.6,84.2 L258.3,85.5 L255.9,85.8 L253.3,86.0 L252.7,86.7 L251.0,87.2 L249.6,87.7 L247.0,88.3 L246.0,88.3 L246.2,89.7 L244.9,90.2 L245.5,91.3 L245.0,92.7 L244.7,93.2 L244.2,95.3 L243.0,96.8 L242.7,98.0 L243.3,99.5 L241.8,100.0 L241.6,102.3 L242.2,102.2 L242.4,105.5 L241.4,106.1 L241.7,106.9 L240.1,109.1 L238.9,109.9 L238.0,112.2 L236.9,112.5 L235.2,114.3 L233.6,114.3 L232.3,115.8 L229.0,115.6 L228.3,116.2 L225.5,117.2"/>
<path d="M268.5,88.5 L268.3,88.5 L264.6,88.9 L265.5,89.9 L262.7,90.6 L261.1,91.6 L260.0,91.6 L258.0,93.1 L257.3,93.3 L255.9,93.0 L254.1,94.5 L252.6,93.4 L251.3,90.4 L251.4,89.9 L251.3,89.2 L252.0,88.1 L250.9,86.3 L249.8,85.6 L249.9,84.9 L250.0,81.8 L250.0,80.8 L246.1,80.7 L242.6,80.8 L239.2,80.5 L236.6,81.2 L233.5,80.5"/>
<path d="M275.5,89.5 L274.1,90.9 L275.5,92.0 L274.2,94.8 L274.9,96.3 L273.7,97.4 L274.1,99.2 L274.1,100.3 L274.0,101.8 L273.7,103.4 L274.0,105.1 L274.6,106.2 L275.5,108.9 L276.7,108.9 L275.3,111.3 L276.0,113.6 L276.6,113.9 L278.2,115.0 L277.3,116.5 L280.3,117.4 L279.4,118.3 L279.7,116.1 L280.1,115.9 L280.2,113.7 L279.5,112.8 L279.9,111.5 L279.5,109.4 L279.5,107.9 L279.2,107.5 L280.2,104.9 L278.9,104.2 L279.0,102.3 L279.3,100.1 L278.6,99.0 L277.7,97.0 L277.5,95.5"/>
<path d="M270.5,89.5 L269.9,92.1 L270.3,94.4 L269.4,94.8 L268.5,95.5 L268.0,97.8 L268.8,98.0 L268.5,101.3 L268.4,101.6 L267.8,104.1 L266.7,104.8 L269.2,106.1 L268.0,106.3 L268.3,109.3 L269.3,109.0 L269.5,110.5"/>
<path d="M279.5,87.5 L281.5,87.7 L282.9,88.7 L284.0,89.4 L285.4,91.0 L286.5,91.6 L290.7,91.4 L290.5,92.3 L293.2,91.9 L294.3,93.1 L296.7,93.4 L298.3,92.5 L298.9,92.1 L300.0,91.6 L301.7,92.8 L303.2,93.0 L305.3,90.5 L305.1,89.3 L305.5,88.3 L306.8,85.5 L307.5,85.9 L306.3,84.5 L305.1,82.8 L304.5,82.8 L302.5,81.2 L300.9,80.3 L299.4,79.9 L298.9,80.0 L296.7,81.3 L294.8,81.3 L293.5,81.5"/>
<path d="M273.5,75.5 L273.2,73.3 L273.8,71.5 L274.5,68.6 L274.3,67.6 L275.4,64.6 L273.9,63.6 L274.3,61.4 L274.2,57.9 L274.1,56.6 L274.0,53.5"/>
<path d="M281.5,73.5 L282.8,72.1 L284.3,69.7 L285.5,67.6 L285.7,66.0 L288.2,64.3 L289.1,62.0 L291.0,61.6 L291.2,61.2 L293.5,60.4 L295.2,60.0 L297.4,61.4 L299.0,62.4 L301.1,63.3 L301.5,66.5 L302.5,67.5"/>
</g><g fill="none" stroke="#2a2a2a" stroke-width="0.45" stroke-linejoin="round">
<path d="M273.5,83.5 L273.1,84.1 L272.5,84.6 L271.7,84.3 L270.9,84.0 L270.1,84.0 L269.6,84.5 L268.7,84.4 L268.3,83.6 L267.6,83.2 L266.7,83.0 L266.3,83.6 L266.5,84.3 L266.6,85.0 L266.6,85.8 L267.4,85.5 L268.3,85.3 L269.0,85.7"/>
<path d="M273.5,83.5 L274.1,84.0 L274.6,84.6 L275.0,85.2 L275.6,85.7 L276.4,85.9 L277.2,85.5 L277.9,84.9 L278.6,85.4 L279.4,85.4 L279.7,86.1 L279.9,86.8 L279.2,87.2"/>
<path d="M273.5,83.5 L273.4,82.6 L273.0,83.3 L272.6,83.9 L272.7,84.6 L272.0,85.0 L271.3,85.3 L270.8,85.9 L270.3,86.5 L270.0,87.1 L269.8,87.8 L269.0,88.1 L268.5,88.7 L267.7,88.8 L267.9,89.6 L267.7,90.3 L268.0,91.0 L268.2,91.7 L268.9,92.0"/>
<path d="M273.5,83.5 L273.1,82.7 L272.3,82.5 L271.5,82.7 L270.8,82.9 L269.9,82.7 L269.2,83.0 L268.6,83.4 L268.9,84.1 L269.1,84.8 L269.6,85.4 L270.3,85.8 L271.1,86.1 L271.9,86.2 L272.8,86.2 L273.5,86.6 L273.7,87.3 L273.7,88.0 L274.0,88.7 L274.9,88.6 L275.6,88.0 L275.7,87.2 L275.3,86.4 L274.6,85.8 L273.8,85.4 L273.0,85.5 L272.9,86.2 L272.7,86.9"/>
<path d="M273.5,83.5 L274.2,83.8 L275.1,83.6 L275.7,82.9 L276.5,82.8 L276.4,82.0 L275.5,81.9 L274.7,81.9 L274.1,82.4 L273.5,82.9 L272.7,82.9 L271.8,82.9 L271.0,83.1 L270.7,83.7 L270.9,84.4 L271.0,85.2"/>
<path d="M273.5,83.5 L272.9,84.0 L272.9,84.7 L272.7,85.4 L271.9,85.3 L271.2,84.7 L270.5,84.2 L269.7,84.1 L269.3,84.7 L268.5,84.8 L267.7,85.0 L267.1,85.5 L266.4,85.9 L266.1,85.1 L265.4,84.6 L265.1,85.3 L265.4,86.0"/>
<path d="M273.5,83.5 L274.4,83.4 L274.2,82.6 L273.6,81.9 L273.0,81.3 L272.3,81.5 L271.5,81.7 L271.6,82.4 L271.4,83.1 L270.8,83.6 L270.7,84.3 L271.4,84.8 L272.3,84.8 L273.1,84.7 L273.4,85.4 L273.1,86.1 L272.6,86.6 L271.8,86.9"/>
<path d="M273.5,83.5 L273.3,82.6 L273.0,81.8 L272.9,80.9 L272.7,80.0 L272.3,79.3 L271.6,78.9 L271.0,78.2 L270.5,77.5 L270.8,76.7 L270.2,76.0 L269.4,76.2 L268.6,76.3 L267.8,76.1 L267.4,75.3 L266.9,74.5 L266.4,73.9 L265.8,74.4 L265.4,75.0 L264.6,75.3 L264.5,74.4 L263.7,74.0 L262.9,73.8 L262.8,72.9 L262.6,72.0 L263.2,71.5 L262.4,71.5"/>
<path d="M273.5,83.5 L272.7,83.5 L272.6,82.7 L272.6,81.8 L273.4,81.3 L273.9,80.6 L274.6,81.1 L274.7,81.8 L275.5,82.1 L276.2,81.5 L277.0,81.5 L277.3,82.2"/>
<path d="M273.5,83.5 L273.1,84.1 L272.5,84.5 L271.6,84.5 L271.1,83.8 L270.9,83.0 L270.1,82.6 L269.3,82.6 L269.4,83.3 L269.4,84.1 L269.4,84.8 L268.8,85.3 L268.1,85.7 L267.4,85.4 L267.4,84.5 L267.1,83.7 L266.2,83.5 L265.6,83.9 L265.6,84.6 L265.8,85.4 L265.5,86.0 L265.3,86.7 L264.9,87.4 L264.1,87.4 L263.7,86.6 L264.2,85.9"/>
<path d="M273.5,83.5 L274.3,83.6 L275.0,83.0 L275.5,82.3 L275.7,81.4 L275.1,80.7 L275.1,79.8 L275.9,79.6 L276.6,79.0 L277.4,78.7 L277.7,77.8 L277.9,77.0 L277.4,76.2 L276.6,75.9 L276.9,75.0"/>
<path d="M273.5,83.5 L273.3,82.6 L273.3,81.7 L272.9,81.0 L272.2,80.6 L271.4,80.8 L270.9,80.1 L270.6,79.2 L271.5,79.1 L272.4,79.1 L273.2,78.6 L274.0,78.7 L274.9,78.6 L275.7,78.3 L276.3,77.6 L277.1,77.2 L277.9,77.4 L278.5,77.9 L279.3,77.4 L279.5,76.6 L279.8,75.8 L280.0,74.9 L280.2,74.0 L280.2,73.1 L280.3,72.2 L280.6,71.4"/>
<path d="M273.5,83.5 L273.0,84.0 L272.8,84.7 L272.6,85.5 L272.3,86.1 L272.0,86.8 L272.0,87.5 L271.5,88.1 L271.2,88.8 L271.0,89.5 L270.4,90.0 L269.6,90.0 L268.9,89.5 L268.7,88.7 L268.1,88.1 L268.8,87.5"/>
<path d="M273.5,83.5 L274.1,82.8 L274.7,82.1 L274.6,81.3 L274.4,80.4 L274.4,79.5 L274.7,78.7 L275.1,77.9 L274.9,77.0 L275.0,76.1 L275.7,75.5 L276.6,75.7 L276.9,76.4 L276.5,77.0 L276.6,77.7 L277.0,78.3 L277.3,79.0 L278.2,79.1 L278.8,79.5 L279.7,79.5 L280.5,79.0 L281.2,79.5"/>
<path d="M273.5,83.5 L272.9,82.9 L272.1,83.0 L271.4,82.4 L270.6,82.4 L269.8,82.2 L269.0,81.7 L268.5,81.0 L268.2,80.2 L268.9,79.6 L269.8,79.6 L270.2,80.2 L270.9,80.7 L271.4,79.9 L270.6,79.7 L269.9,79.3 L270.0,78.4"/>
<path d="M273.5,83.5 L274.1,84.0 L274.9,84.3 L275.3,84.9 L276.2,85.0 L277.0,84.9 L277.4,85.5 L277.5,86.2 L277.4,87.0 L277.4,87.7 L277.4,88.4 L277.2,89.1 L277.1,89.9 L276.7,90.5 L275.9,90.7 L275.8,91.4"/>
<path d="M273.5,83.5 L274.3,83.6 L275.1,83.9 L276.0,83.6 L276.6,84.1 L277.5,83.9 L278.3,84.0 L279.2,83.8 L280.1,83.8 L280.9,83.6 L281.4,82.8 L282.0,82.1 L281.7,81.3"/>
<path d="M273.5,83.5 L272.9,83.9 L272.0,83.7 L271.3,83.3 L270.5,83.5 L270.2,84.2 L269.3,84.0 L268.5,84.1 L268.6,84.8 L269.3,85.2 L270.0,85.7 L270.3,86.3 L270.4,87.1 L269.8,87.6 L269.1,88.0 L268.4,88.3 L267.6,88.5 L267.4,89.2 L267.0,89.8 L266.2,89.7 L265.6,90.2 L264.8,90.1"/>
<path d="M273.5,83.5 L274.4,83.4 L275.0,83.8 L275.6,84.3 L276.2,83.7 L277.1,83.3 L277.9,83.1 L278.3,82.3 L278.3,81.4 L277.8,80.7 L277.0,80.3 L277.2,79.5 L277.9,78.8 L278.5,78.2 L278.8,77.3 L278.4,76.6 L277.7,76.0 L277.1,75.4 L276.5,74.7 L276.1,74.0 L275.5,73.3 L274.7,73.1 L273.9,72.6"/>
<path d="M273.5,83.5 L272.7,83.5 L272.3,84.2 L272.6,84.9 L273.3,85.3 L274.1,85.2 L275.0,85.2 L275.8,84.7 L276.6,84.9 L277.4,85.2 L277.8,85.8 L278.6,86.1 L279.1,86.6 L279.6,87.2 L280.3,87.7 L281.1,87.3 L281.9,87.5"/>
<path d="M273.5,83.5 L272.7,83.4 L271.9,83.6 L271.1,83.5 L270.2,83.2 L270.2,82.3 L269.8,81.6 L269.6,80.7 L270.0,79.9 L269.3,79.4 L268.5,79.4 L269.2,79.7 L270.1,79.7 L270.9,80.0 L271.7,80.2 L272.3,79.5 L272.9,78.8 L273.2,78.0 L273.2,77.1 L273.8,76.4 L274.3,75.6 L275.0,75.1 L275.8,75.2 L276.6,74.9 L277.2,74.2"/>
<path d="M273.5,83.5 L274.3,83.8 L275.1,83.8 L276.0,83.9 L276.1,84.7 L276.1,85.4 L275.4,85.7 L274.7,86.0 L274.0,86.3 L273.4,86.8 L273.0,87.4 L272.6,88.1 L271.8,88.2 L271.0,88.1 L270.2,87.7 L269.5,87.2 L268.7,86.8 L267.9,86.8 L267.7,87.5 L267.0,87.0 L266.2,86.7 L265.5,86.2"/>
<path d="M273.5,83.5 L273.5,84.2 L273.8,84.9 L273.8,85.6 L274.3,86.2 L274.3,86.9 L274.1,87.6 L273.9,88.3 L273.6,89.0 L273.0,89.5 L272.4,88.9 L271.5,88.7"/>
<path d="M273.5,83.5 L272.7,83.5 L271.9,83.7 L271.3,84.2 L270.6,84.5 L269.9,84.9 L270.0,85.6 L269.4,86.1 L268.6,86.4 L268.2,85.6 L268.2,84.7 L268.7,83.9 L269.5,83.6 L270.4,83.7 L270.7,82.9 L271.2,82.1 L271.8,81.4 L271.1,80.9 L270.4,80.3 L270.8,79.5 L270.8,78.6 L271.5,77.9 L271.1,77.1"/>
<path d="M273.5,83.5 L272.9,84.0 L272.3,84.5 L271.5,84.4 L270.7,84.4 L269.9,84.1 L269.2,83.4 L268.4,83.3 L267.8,83.8 L267.1,84.2 L266.3,84.2 L265.7,83.5 L265.0,83.0 L264.7,83.7 L264.2,84.3 L263.4,84.4 L262.6,84.2 L262.2,83.4 L262.4,82.5 L262.7,81.7 L262.1,81.0 L261.6,80.3 L261.3,79.5"/>
<path d="M273.5,83.5 L273.9,84.1 L273.6,84.8 L272.8,85.0 L272.0,85.1 L271.6,85.8 L271.6,86.5 L271.7,87.2 L271.6,87.9 L271.8,88.7 L271.9,89.4 L272.7,89.2 L273.4,89.6 L273.9,90.2 L274.8,90.1 L275.6,90.2 L276.2,89.5 L276.8,88.8 L277.3,88.1 L278.0,87.5 L278.8,87.7 L279.2,88.4 L279.9,87.9 L280.4,87.1 L280.5,86.2 L280.0,85.5 L279.3,85.0 L278.4,85.1"/>
<path d="M273.5,83.5 L273.9,82.7 L274.5,82.0 L275.3,82.1 L276.2,82.2 L276.8,82.7 L277.6,82.8 L278.2,83.3 L278.2,84.1 L278.0,84.8 L278.7,85.2 L279.3,85.7 L280.0,86.0 L280.8,86.4 L281.6,86.6 L282.4,86.3 L282.6,85.4 L283.4,85.3 L283.8,84.4 L284.2,83.6 L284.7,82.9"/>
<path d="M273.5,83.5 L273.9,82.7 L273.7,81.8 L274.1,81.0 L274.3,80.2 L273.9,79.3 L273.7,78.5 L274.5,78.3 L275.4,78.3 L276.2,78.4 L276.7,79.1 L277.5,78.8 L278.4,78.6 L279.2,78.7 L280.0,78.9 L280.5,79.5 L280.5,80.3 L280.5,81.0 L280.8,81.7 L280.7,82.4 L280.6,83.1 L279.8,83.3 L279.2,83.8 L278.4,83.9 L277.6,84.1 L276.8,83.7 L276.2,83.1 L275.5,82.6"/>
<path d="M273.5,83.5 L273.8,84.2 L274.1,84.9 L273.9,85.6 L274.6,86.0 L275.4,85.5 L276.1,85.0 L276.9,85.2 L277.6,85.7 L278.4,85.8 L279.1,86.2 L279.1,87.0 L278.4,87.4 L277.6,87.4 L276.8,87.4 L276.0,87.1 L275.2,86.7 L275.4,87.4 L276.3,87.4 L276.8,87.9 L277.6,88.3 L278.3,88.6 L279.0,89.0 L279.9,88.8 L280.7,88.8 L281.5,89.0 L282.3,89.4 L282.9,89.8"/>
<path d="M273.5,83.5 L272.7,83.5 L271.9,83.2 L271.3,82.6 L270.5,82.3 L269.7,82.2 L269.0,82.6 L268.3,82.9 L267.7,82.2 L267.0,81.8 L266.2,81.4 L265.4,81.3"/>
<path d="M273.5,83.5 L274.3,83.1 L275.2,83.2 L276.0,83.0 L276.8,82.6 L277.7,82.8 L277.7,83.5 L276.9,83.2 L276.3,82.6 L275.4,82.6 L274.6,82.6 L274.7,81.7 L275.2,81.0 L275.5,80.1 L274.9,79.5 L274.1,79.6 L273.3,79.9 L272.7,80.3 L271.8,80.1 L271.1,79.6 L270.5,78.9 L270.4,78.1 L270.1,77.2 L270.2,76.3"/>
<path d="M273.5,83.5 L273.5,84.2 L273.8,84.9 L273.9,85.6 L273.2,86.0 L272.5,86.3 L272.0,86.8 L271.2,86.9 L270.8,87.5 L270.2,88.0 L269.8,88.6 L269.3,89.2 L268.5,89.0 L268.4,89.8"/>
<path d="M273.5,83.5 L273.3,82.6 L272.9,81.9 L272.9,81.0 L273.3,80.1 L273.1,79.3 L272.2,79.4 L271.5,78.9 L270.7,78.5 L269.9,78.6 L269.1,78.4 L268.3,78.5 L267.5,78.3 L266.7,78.3 L266.0,78.6 L265.9,79.4 L266.0,80.1 L265.4,80.6 L265.2,81.3 L264.5,81.6 L264.1,82.2 L264.6,82.8 L265.3,83.1 L265.8,83.7 L266.7,83.6 L267.6,83.5"/>
<path d="M273.5,83.5 L273.4,84.2 L273.2,84.9 L273.0,85.6 L272.7,86.3 L271.8,86.0 L271.1,85.5 L270.3,85.2 L269.5,85.0 L268.7,84.8 L269.0,83.9 L268.5,83.2 L267.7,82.8 L266.9,83.0 L266.8,83.7 L266.3,84.3 L265.6,84.6 L265.0,85.1 L265.4,85.8 L264.8,86.2"/>
<path d="M273.5,83.5 L273.2,82.7 L272.4,82.5 L271.6,82.2 L271.3,81.3 L271.0,80.5 L270.9,79.6 L271.7,79.1 L272.0,78.3 L272.6,77.6 L272.8,76.7 L273.6,76.3 L273.9,75.5 L274.8,75.3 L275.3,74.6 L276.1,74.9 L276.8,74.4"/>
<path d="M273.5,83.5 L273.1,84.1 L272.9,84.8 L272.2,85.2 L271.3,85.2 L270.6,85.4 L269.8,85.6 L270.2,84.8 L270.8,84.1 L271.2,83.3 L271.4,82.4 L271.0,81.7 L271.1,80.8 L270.3,80.9 L269.8,81.5 L269.5,82.2 L269.8,82.8 L270.6,83.1 L271.4,83.3 L272.0,83.8"/>
<path d="M273.5,83.5 L273.6,82.6 L274.3,82.1 L274.8,81.3 L275.2,80.5 L275.5,79.6 L275.3,78.8 L275.1,77.9 L274.3,77.8 L273.6,77.3 L273.0,76.6 L272.3,76.1"/>
<path d="M273.5,83.5 L274.0,84.1 L274.2,84.8 L275.0,85.1 L275.9,85.1 L276.4,85.6 L276.9,86.2 L277.7,85.7 L278.0,84.8 L278.6,84.2 L279.1,84.8 L279.1,85.5 L278.8,86.1 L278.4,86.8"/>
<path d="M273.5,83.5 L274.4,83.5 L275.0,84.0 L274.9,84.7 L274.7,85.4 L274.2,86.0 L275.1,85.9 L275.9,86.0 L276.6,86.4 L277.4,86.2 L278.3,86.0"/>
<path d="M273.5,83.5 L273.6,84.2 L272.9,84.6 L272.4,85.2 L272.1,85.9 L271.7,86.4 L271.6,87.2 L272.1,87.8 L272.0,88.5 L271.2,88.4 L271.5,87.5 L271.8,86.7 L271.4,85.9 L270.6,85.6 L270.0,86.1 L270.5,86.7 L271.0,87.2"/>
<path d="M273.5,83.5 L274.2,83.9 L275.0,84.0 L275.9,84.3 L276.5,84.7 L276.6,85.4 L276.7,86.2 L277.5,86.4 L278.1,86.9 L278.9,87.1 L279.5,87.7 L280.2,88.1 L280.3,88.8 L280.7,89.5 L280.9,90.2 L281.3,90.8 L281.4,91.5 L280.8,92.0 L280.1,92.3 L279.8,93.0 L280.5,93.4 L281.0,94.0 L281.8,94.2 L282.7,93.9 L283.4,93.4"/>
<path d="M273.5,83.5 L272.8,83.9 L272.8,84.6 L273.2,85.2 L274.0,85.6 L273.3,86.0 L273.0,86.7 L273.0,87.4 L272.4,87.8 L272.3,88.5 L272.2,89.3 L272.1,90.0 L271.5,90.5 L270.6,90.4 L269.8,90.1 L270.2,90.8 L270.7,91.4 L271.4,91.9 L271.6,92.6"/>
<path d="M273.5,83.5 L273.9,82.7 L273.7,81.8 L273.6,80.9 L273.1,80.2 L273.3,79.3 L272.9,78.6 L272.5,77.8 L271.8,77.2 L271.1,76.7 L270.9,75.8 L270.2,75.4 L269.5,74.8 L269.0,74.1 L269.0,73.2 L268.8,72.3 L268.9,71.5 L268.8,70.6 L268.5,69.7 L268.6,68.9 L269.4,68.5"/>
<path d="M273.5,83.5 L272.7,83.3 L272.2,82.6 L271.5,82.1 L270.6,81.9 L269.8,81.8 L269.0,82.0 L268.2,82.0 L267.4,82.1 L266.9,82.7 L266.2,83.0 L265.5,82.5 L264.8,82.0 L264.0,81.6"/>
<path d="M273.5,83.5 L274.2,82.9 L274.9,82.4 L275.6,81.8 L276.4,81.9 L277.2,81.6 L277.1,80.7 L277.2,79.8 L277.6,79.0 L278.5,78.8 L279.1,78.2 L279.6,77.4 L280.5,77.1 L280.8,76.3 L280.6,75.4 L280.1,74.7 L280.7,74.0"/>
<path d="M273.5,83.5 L272.8,83.9 L272.6,84.6 L273.3,85.1 L274.1,85.0 L274.9,85.3 L275.3,85.9 L276.2,86.1 L277.0,85.7 L277.2,84.8 L276.7,84.1 L276.2,83.3 L276.0,82.5 L276.8,82.0 L277.2,81.3 L276.5,80.9 L275.9,80.2 L275.5,79.4 L274.8,78.9 L274.0,78.6 L273.9,77.7 L274.1,76.8 L274.9,76.4 L274.6,75.6 L274.8,74.7"/>
<path d="M273.5,83.5 L274.3,83.0 L274.3,82.2 L273.5,81.8 L273.3,80.9 L273.3,80.0 L273.8,79.2 L274.4,78.6 L273.6,78.2 L273.7,77.3 L273.4,76.5 L273.8,75.7 L273.5,74.9"/>
<path d="M273.5,83.5 L274.3,83.2 L275.1,82.8 L275.3,81.9 L275.3,81.0 L275.7,80.2 L276.2,79.5 L276.8,78.8 L277.1,78.0 L277.3,77.1 L276.5,77.0 L275.6,76.8 L274.9,76.3 L274.5,75.5 L274.6,74.6 L275.4,74.2"/>
<path d="M273.5,83.5 L272.8,83.9 L272.1,84.2 L271.5,84.7 L271.5,85.4 L271.9,86.0 L272.6,86.4 L273.1,87.0 L273.5,87.6 L273.4,88.3 L273.2,89.1 L272.6,89.5 L271.8,89.8 L271.0,89.9 L270.2,90.0 L269.3,89.8 L268.6,89.4"/>
<path d="M273.5,83.5 L272.7,83.3 L271.8,83.2 L271.3,82.6 L271.3,81.7 L271.3,80.8 L272.1,80.4 L271.7,81.1 L271.5,81.8 L271.9,82.4 L271.4,82.9 L270.5,82.9 L269.9,83.3 L269.4,82.6 L269.4,81.7 L270.1,81.1 L270.8,80.6 L271.3,81.2 L272.1,81.4 L272.9,81.6 L273.8,81.7 L274.6,81.9 L274.3,82.6 L273.8,83.2 L273.0,83.1 L272.2,83.0 L271.5,82.5"/>
<path d="M273.5,83.5 L274.0,82.7 L274.0,81.8 L274.5,81.2 L275.1,80.5 L274.9,79.6 L274.3,78.9 L274.2,78.1 L274.1,77.2 L274.3,76.3 L273.9,75.5 L273.5,74.8 L272.8,74.1 L272.4,74.7 L271.5,74.5 L271.0,73.8 L271.5,73.1 L272.3,73.2 L273.1,72.8 L273.8,72.2 L273.6,71.3"/>
<path d="M273.5,83.5 L274.3,83.0 L274.6,82.2 L274.3,81.4 L273.6,80.8 L272.9,80.3 L272.2,79.8 L271.5,79.3 L270.6,79.3 L269.8,79.2 L269.0,79.3 L268.8,80.0 L268.0,80.3 L267.2,80.1 L266.4,80.3 L265.6,80.3 L264.8,80.2 L264.8,81.0 L265.1,81.7 L265.1,82.4"/>
<path d="M273.5,83.5 L274.2,82.9 L275.0,82.7 L275.9,82.4 L276.7,82.5 L276.9,81.6 L276.7,80.7 L276.7,79.8 L276.5,79.0 L276.8,78.1 L277.4,77.5 L277.9,76.7 L277.1,76.3 L277.6,75.5 L277.8,74.7 L277.3,74.0 L276.4,73.7 L276.2,74.4 L276.1,75.1 L276.2,75.9 L276.2,76.6 L275.7,77.1 L276.2,77.7 L275.9,78.4 L275.6,79.1 L275.0,79.6 L274.2,79.6"/>
<path d="M273.5,83.5 L273.8,84.2 L274.3,84.8 L275.1,85.0 L275.8,85.4 L276.3,86.0 L276.9,86.5 L277.7,86.7 L278.2,87.3 L277.8,87.9 L277.0,88.0 L276.5,88.6 L276.8,89.3 L276.4,90.0 L276.1,90.6 L276.4,91.3 L277.2,91.5 L277.8,92.0"/>
<path d="M273.5,83.5 L274.3,83.8 L275.0,83.2 L275.8,83.2 L276.7,83.0 L277.5,83.0 L278.4,83.0 L279.1,83.3 L279.6,83.9 L280.1,84.5 L280.9,84.1 L281.5,83.4 L281.8,82.5 L282.0,81.7 L282.7,81.1"/>
<path d="M273.5,83.5 L273.0,84.1 L273.6,84.5 L274.4,84.9 L275.1,85.2 L275.0,85.9 L275.1,86.7 L274.3,86.9 L274.3,87.6 L273.8,88.2 L273.4,88.8 L272.6,88.8 L271.8,88.4 L271.4,87.6 L270.6,87.4"/>
<path d="M273.5,83.5 L273.3,82.6 L273.2,81.8 L273.4,80.9 L274.1,80.4 L274.6,79.6 L275.2,78.9 L275.7,78.2 L276.5,77.7 L277.3,77.6 L278.2,77.7 L278.3,78.5 L278.7,79.1 L279.4,79.5 L279.0,80.2 L278.8,80.8 L279.2,81.5 L279.8,82.0 L280.6,81.9 L281.5,81.9 L282.4,81.9 L282.8,82.5 L282.6,83.2 L281.8,83.1"/>
<path d="M273.5,83.5 L274.3,83.2 L274.7,82.4 L275.0,81.5 L275.7,81.0 L276.3,80.4 L277.0,79.7 L276.6,79.0 L275.8,79.2 L275.5,79.8 L274.7,79.9 L273.8,79.8 L273.0,79.7 L272.3,79.2"/>
<path d="M273.5,83.5 L272.8,83.0 L272.0,82.6 L271.6,81.8 L271.7,80.9 L271.9,80.1 L271.3,79.4 L270.6,79.6 L270.2,80.3 L270.1,81.0 L270.4,81.7 L271.1,82.1 L271.9,81.7"/>
<path d="M273.5,83.5 L274.2,83.9 L275.0,84.1 L275.7,84.5 L276.5,84.7 L277.4,84.6 L278.3,84.6 L278.4,85.4 L278.7,86.1 L279.3,86.6 L279.8,87.2 L279.4,87.8 L279.2,88.5 L279.5,89.2 L280.0,89.8 L280.6,90.3 L281.0,90.9 L281.1,91.6 L281.5,92.3 L281.6,93.0 L281.9,93.7 L282.3,92.9 L282.2,92.0 L282.0,91.1 L282.7,90.6"/>
<path d="M273.5,83.5 L273.9,82.7 L274.5,82.0 L275.1,82.5 L275.9,82.7 L276.5,83.3 L277.3,83.4 L278.0,82.8 L278.7,82.3 L278.9,81.4 L279.0,80.6 L279.2,79.7 L279.6,78.9 L280.3,78.4 L280.5,77.5"/>
<path d="M273.5,83.5 L273.2,84.2 L272.6,84.6 L271.8,84.1 L271.1,84.4 L270.3,83.9 L269.6,84.1 L268.8,84.4 L268.5,85.1 L268.5,85.8 L269.2,86.2 L270.0,86.5 L270.8,86.5 L271.7,86.2 L272.2,85.5 L272.9,84.9 L273.0,84.0 L272.3,83.5 L271.6,82.9 L270.8,82.6 L270.1,82.1 L269.6,81.4 L268.9,80.8 L268.4,80.1 L268.5,79.2 L268.5,78.3"/>
<path d="M273.5,83.5 L273.3,82.6 L274.1,82.2 L274.2,81.3 L274.3,80.4 L274.9,79.7 L275.7,79.3 L276.3,78.6 L276.3,77.7 L276.6,76.8 L276.8,75.9 L277.7,75.7 L278.5,75.4 L279.3,75.2"/>
<path d="M273.5,83.5 L272.8,83.9 L272.7,84.6 L272.1,85.1 L272.5,85.8 L272.6,86.5 L272.7,87.2 L272.4,87.9 L272.4,88.6 L272.8,89.3 L273.3,89.9 L273.6,90.6 L273.8,91.3 L273.8,92.0 L274.4,92.6 L274.7,93.2"/>
<path d="M273.5,83.5 L273.6,82.6 L273.8,81.7 L274.6,81.5 L275.3,80.9 L275.8,80.2 L276.5,79.6 L276.2,78.7 L276.5,77.9 L276.4,77.0 L276.0,76.2 L275.9,75.3 L276.0,74.4 L275.5,73.6 L275.1,72.9 L274.5,72.3 L273.7,72.5 L272.9,72.7 L272.3,72.1 L272.1,71.2 L271.5,70.6 L270.9,70.0 L271.0,69.1"/>
<path d="M273.5,83.5 L272.7,83.2 L272.4,82.3 L273.3,82.0 L273.9,81.4 L274.8,81.1 L275.6,81.0 L276.5,81.1 L277.1,81.6 L277.8,82.0 L278.7,81.8 L279.5,81.3 L280.3,81.3 L281.0,80.6"/>
<path d="M273.5,83.5 L274.3,83.2 L274.9,82.5 L275.2,81.7 L274.6,81.0 L274.0,80.3 L273.3,79.8 L272.8,79.1 L272.0,78.8 L271.2,79.0 L270.9,79.7 L270.3,80.2 L269.5,80.1 L268.6,79.9 L267.8,79.6"/>
<path d="M273.5,83.5 L272.7,83.3 L271.9,83.3 L271.4,83.9 L271.2,84.6 L270.4,85.0 L269.6,85.0 L268.8,84.8 L268.0,85.0 L267.6,85.6 L267.3,86.2 L267.6,86.9 L267.3,87.6 L267.0,88.3 L267.6,88.8 L268.4,89.1 L269.2,88.8"/>
<path d="M273.5,83.5 L274.0,84.1 L274.9,84.1 L275.3,83.4 L276.1,82.8 L276.9,82.9 L277.5,83.4 L277.5,84.2 L277.9,84.8 L278.0,85.5 L278.9,85.4 L279.6,84.9 L280.5,84.8 L281.4,84.6 L282.2,84.4 L282.9,83.8 L283.1,82.9 L283.5,82.1 L283.3,81.3 L282.9,80.5 L282.4,79.8"/>
<path d="M273.5,83.5 L273.8,82.7 L274.5,82.1 L274.4,81.2 L274.4,80.3 L274.7,79.4 L274.7,78.5 L275.5,78.1 L276.3,77.6 L277.0,77.9 L277.6,78.4 L277.2,79.0 L276.5,79.3 L276.2,80.0"/>
<path d="M273.5,83.5 L274.1,84.0 L274.3,84.7 L275.2,84.8 L275.9,85.2 L275.8,85.9 L276.7,86.1 L277.4,86.5 L278.2,86.4 L278.8,85.8 L279.7,85.8 L280.5,85.8 L281.3,86.1 L282.2,86.1 L283.0,86.0 L283.5,86.6 L284.0,87.2"/>
<path d="M273.5,83.5 L273.4,82.6 L273.7,81.8 L273.9,80.9 L274.0,80.0 L274.0,79.1 L273.3,78.6 L272.4,78.6 L271.8,79.1 L271.6,79.8 L271.5,80.5 L270.8,80.9 L270.6,81.6 L271.4,81.9 L272.2,82.1 L273.0,82.4"/>
<path d="M273.5,83.5 L272.7,83.6 L271.9,83.2 L271.3,82.7 L270.9,81.9 L270.7,81.0 L271.0,80.2 L271.7,79.6 L271.7,78.7 L271.0,78.1 L271.3,77.3 L272.0,76.8 L272.9,76.5 L273.7,76.5 L274.2,77.1"/>
<path d="M273.5,83.5 L274.1,84.0 L275.0,84.1 L275.8,84.3 L276.3,84.9 L276.8,85.5 L277.4,86.0 L276.9,86.5 L276.0,86.3 L275.2,86.5 L274.4,86.6 L273.6,86.4 L273.0,85.8 L272.8,84.9 L273.1,84.1 L272.3,84.1 L271.6,83.5 L270.9,83.8 L270.3,84.2 L269.8,84.8 L269.4,85.4 L268.8,85.9 L269.2,86.6 L269.8,87.1 L270.4,87.6"/>
<path d="M273.5,83.5 L274.2,83.9 L274.7,84.5 L274.9,85.2 L275.5,85.7 L276.3,86.0 L276.1,86.7 L275.8,87.4 L276.1,88.0 L275.7,88.6 L274.8,88.6 L274.3,89.2 L273.7,89.7 L272.9,89.9 L272.2,89.5 L271.4,89.2"/>
<path d="M273.5,83.5 L274.3,83.2 L275.0,82.5 L275.7,82.0 L276.5,81.8 L277.4,81.6 L278.2,81.4 L279.1,81.1 L279.9,81.1 L280.8,81.2 L281.5,81.6 L281.8,82.3 L282.3,82.9 L283.2,82.9"/>
<path d="M273.5,83.5 L273.2,82.7 L272.9,81.8 L272.3,81.2 L271.9,80.5 L271.2,79.9 L270.5,79.5 L271.3,79.3 L272.1,78.8 L272.7,78.1 L272.1,77.5 L272.1,76.6 L272.1,75.7 L271.9,74.8 L272.2,74.0 L271.8,73.2 L271.2,72.6"/>
<path d="M273.5,83.5 L272.8,83.8 L273.3,84.4 L274.0,83.8 L274.3,84.4 L273.7,84.8 L273.4,85.5 L273.0,86.1 L272.3,86.5 L271.9,87.2 L271.6,87.8 L271.5,88.5 L271.5,89.3 L270.9,89.8 L271.1,90.5 L271.0,91.2 L271.5,91.7 L272.3,92.0 L273.1,92.1 L274.0,92.2 L274.8,92.4 L274.8,93.1"/>
<path d="M273.5,83.5 L273.2,84.2 L272.4,84.2 L271.9,84.8 L272.0,85.5 L271.2,85.8 L270.6,86.3 L270.0,86.7 L269.9,87.5 L269.6,88.1 L269.3,88.8 L268.5,89.1 L267.9,89.5 L267.2,89.9 L266.4,89.9 L265.5,89.7 L264.9,89.1 L264.1,88.8 L263.6,88.0 L264.1,87.3 L264.9,86.9 L265.3,86.1 L266.0,85.5 L266.3,84.7"/>
<path d="M273.5,83.5 L272.8,83.0 L272.0,82.8 L271.2,82.5 L270.5,81.9 L269.9,81.3 L270.1,80.4 L270.4,79.5 L271.0,78.9 L271.3,78.0 L271.5,77.2 L272.0,76.4 L272.1,75.5 L271.4,74.9 L270.7,74.4 L270.4,73.6 L269.9,72.9 L270.6,72.4 L271.5,72.2 L272.2,71.7 L271.8,70.9 L271.9,70.0 L271.2,69.5 L270.9,70.2 L271.7,70.6 L271.1,71.1"/>
<path d="M273.5,83.5 L272.7,83.3 L271.9,83.1 L271.2,82.7 L270.5,82.1 L269.7,82.2 L269.0,82.4 L268.2,82.6 L267.6,83.0 L267.1,83.5 L266.8,84.2 L266.5,84.8 L266.1,85.4 L265.4,85.7 L264.6,85.9 L263.8,85.9 L263.2,85.3 L262.9,84.5 L262.3,83.8 L262.2,82.9 L262.5,82.0 L262.8,81.2 L262.6,80.3 L262.0,79.7 L261.5,78.9 L261.3,78.1 L261.4,77.1"/>
<path d="M273.5,83.5 L274.0,82.7 L274.7,82.2 L275.6,81.9 L276.5,81.7 L277.4,81.5 L278.2,81.6 L279.0,82.0 L279.4,82.6 L279.6,83.3 L279.9,83.9 L280.2,84.6 L279.5,84.9 L278.9,85.3 L278.3,85.7 L277.5,85.9 L276.7,85.9 L276.4,85.1 L276.7,84.2 L276.6,83.3 L275.9,82.9 L275.2,83.2 L274.4,83.3 L273.6,83.4 L273.0,83.7 L272.1,83.7 L271.6,84.2 L270.9,84.4 L270.3,84.8 L269.5,84.9 L268.7,85.0 L268.0,85.2"/>
<path d="M273.5,83.5 L273.3,84.2 L273.8,84.8 L273.9,85.5 L274.1,86.2 L274.5,86.8 L274.7,87.5 L274.8,88.2 L275.3,88.7 L276.2,88.9 L277.1,88.9 L278.0,88.8 L278.7,89.1 L279.6,89.4 L280.4,89.0 L281.0,88.3 L281.9,88.0 L282.6,88.5 L283.1,89.1 L283.6,89.6 L284.0,90.3 L284.2,91.0 L284.6,91.6 L285.2,92.1 L285.9,92.5 L286.8,92.5 L287.5,92.9 L288.2,93.2 L289.1,93.4 L289.6,94.0 L290.4,94.3 L290.7,94.9 L290.6,95.6 L291.3,96.0 L292.2,95.9 L293.1,95.7 L293.7,95.1 L294.0,94.2 L294.7,93.5 L295.2,92.8 L295.3,91.9 L295.3,90.9 L295.4,90.0 L295.6,89.1 L295.6,88.2 L295.7,87.3 L296.1,86.5"/>
<path d="M273.5,83.5 L273.3,84.2 L273.3,84.9 L273.2,85.6 L272.7,86.1 L272.3,86.7 L272.1,87.4 L272.3,88.1 L272.3,88.8 L272.2,89.5 L272.3,90.2 L272.9,90.7 L273.5,91.2 L274.0,91.7 L274.3,92.4 L274.4,93.1 L274.8,93.7 L275.5,94.1 L276.4,94.2 L277.0,94.7 L277.7,95.1 L278.3,95.6 L279.0,96.0 L278.8,96.7 L278.7,97.4 L278.2,98.0 L278.2,98.7 L278.2,99.4 L278.8,100.0 L279.1,100.6 L280.0,100.7 L280.8,101.0 L281.6,100.6 L282.5,100.4 L283.3,100.5 L284.2,100.4 L285.1,100.3 L286.0,100.3 L286.7,100.7"/>
<path d="M273.5,83.5 L274.4,83.3 L275.3,83.0 L275.9,83.5 L276.7,83.7 L277.5,84.0 L278.4,83.8 L279.3,83.8 L280.1,83.9 L280.9,84.3 L281.7,84.5 L282.6,84.5 L283.4,84.7 L284.1,85.1 L284.9,85.4 L285.8,85.5 L286.3,86.0 L286.5,86.7 L286.4,87.4 L286.9,88.0 L287.8,88.2 L288.7,88.1 L289.5,87.8 L290.4,88.0 L291.3,87.7 L292.2,87.6 L293.0,87.8 L293.8,87.3 L294.7,87.3 L295.4,86.8 L296.2,86.2 L297.1,86.0 L297.9,85.7 L298.8,85.7"/>
<path d="M273.5,83.5 L272.9,84.0 L273.3,84.6 L273.5,85.3 L274.0,85.9 L274.5,86.4 L275.2,86.8 L275.5,87.5 L275.5,88.2 L274.6,88.0 L273.9,88.2 L273.2,88.6 L272.4,88.5 L271.7,88.8 L271.1,89.2 L271.5,89.8 L272.1,90.4 L272.8,90.7 L273.7,90.9 L274.6,90.7 L275.5,90.6 L276.3,90.6 L277.2,90.3 L277.9,89.7 L278.7,89.4 L279.6,89.5 L280.5,89.6 L281.2,89.1 L282.1,88.7 L282.9,88.9 L283.8,88.8 L284.6,88.4 L284.9,87.5 L285.2,86.6 L284.7,85.9 L284.5,85.0 L283.9,84.3 L283.3,83.7 L283.1,82.8 L283.1,81.9 L282.5,81.2"/>
<path d="M273.5,83.5 L272.8,83.8 L272.4,84.4 L272.3,85.1 L272.3,85.8 L272.4,86.5 L272.2,87.2 L271.9,87.8 L271.8,88.5 L271.3,89.1 L270.8,89.6 L270.3,90.1 L269.9,90.7 L269.9,91.4 L269.5,92.0 L269.0,92.6 L268.6,93.1 L268.1,93.6 L267.6,94.2 L267.1,94.6 L266.9,95.3 L266.6,96.0 L266.0,96.4 L265.6,97.0 L265.8,97.7 L265.3,98.2 L264.8,98.7 L264.3,99.2 L264.2,99.9 L264.6,100.6"/>
<path d="M273.5,83.5 L273.6,84.2 L274.1,84.8 L274.7,85.3 L275.3,85.8 L275.7,86.4 L276.6,86.3 L277.4,86.7 L277.7,87.4 L278.3,87.8 L279.0,88.3 L279.8,88.5 L280.7,88.5 L281.5,88.0 L281.8,87.1 L282.3,86.4 L282.5,85.5 L283.1,84.7 L284.0,84.5 L284.7,83.9 L285.5,83.5 L286.3,83.8 L287.1,84.1 L287.7,84.5 L288.5,84.9 L289.2,85.2 L289.7,85.8 L290.0,86.5 L290.6,87.0 L290.8,87.7 L291.1,88.4 L291.1,89.1 L291.1,89.8 L291.8,90.2 L292.7,90.4 L293.5,90.3 L294.4,89.9 L295.3,89.9 L296.1,90.1 L297.0,90.2 L297.9,90.1 L298.8,90.3 L299.7,90.2"/>
<path d="M273.5,83.5 L273.6,82.6 L274.2,81.8 L274.4,80.9 L274.6,80.0 L274.7,79.1 L274.9,78.2 L275.7,77.7 L276.5,77.8 L277.3,78.1 L278.2,78.0 L279.0,78.2 L279.9,78.2 L280.7,78.5 L281.3,79.0 L281.7,79.6 L282.4,80.0 L282.6,80.7 L282.7,81.4 L283.0,82.1 L283.4,82.8 L283.7,83.4 L284.3,83.9 L285.0,84.4 L285.4,85.0 L285.9,85.5 L286.3,86.2 L286.5,86.9 L287.1,87.3 L288.0,86.9 L288.4,86.1 L288.8,85.2 L289.3,84.5 L290.1,84.0 L290.4,83.1"/>
<path d="M273.5,83.5 L273.6,84.2 L273.9,84.9 L274.6,85.3 L275.4,85.5 L275.5,86.2 L275.4,86.9 L275.2,87.6 L275.0,88.3 L275.3,88.9 L275.4,89.6 L275.4,90.4 L275.4,91.1 L275.4,91.8 L275.0,92.4 L274.3,92.7 L273.7,92.0 L273.0,91.5 L272.4,91.0 L271.7,90.5 L271.2,89.7 L270.8,88.9 L270.7,88.0 L271.0,87.1 L271.2,86.2 L271.1,85.3 L270.9,84.5 L270.6,83.6 L270.4,82.7 L269.8,82.1 L269.0,81.9 L268.3,81.4 L267.9,80.7 L267.3,80.0 L266.6,79.4 L266.2,78.7 L265.4,78.6 L265.0,77.8 L264.8,76.9 L264.5,76.1 L263.9,75.4 L264.0,74.5 L264.2,73.6 L263.9,72.8"/>
<path d="M273.5,83.5 L274.1,82.8 L274.9,82.4 L275.7,81.8 L276.5,81.6 L277.2,82.0 L277.3,82.7 L277.5,83.4 L277.2,84.1 L277.2,84.8 L277.8,85.3 L278.6,85.6 L279.5,85.6 L280.3,85.3 L281.1,84.8 L281.7,84.1 L282.2,83.3 L282.3,82.4 L282.9,81.6 L283.6,81.0 L284.4,80.7 L285.2,80.2 L285.8,79.5 L286.6,79.0 L287.5,78.8 L288.4,78.9 L289.2,78.7 L290.1,78.5 L291.0,78.4 L291.9,78.5 L292.7,78.7 L293.5,78.3 L294.4,78.1 L295.3,78.1 L296.0,77.4"/>
<path d="M273.5,83.5 L273.6,84.2 L273.3,84.8 L273.2,85.5 L272.4,85.6 L271.6,85.3 L270.8,85.4 L270.0,85.2 L269.3,84.8 L268.5,84.5 L267.8,84.1 L267.1,83.5 L266.6,82.8 L265.8,82.7 L265.1,83.0 L264.6,83.5 L263.8,83.6 L263.0,83.5 L262.2,83.4 L261.4,83.4 L260.9,83.9 L260.2,84.2 L259.6,84.6 L258.9,84.9 L258.2,85.3 L257.4,85.4 L256.7,85.6 L256.3,86.2 L255.7,86.6 L255.1,87.0 L254.4,87.4 L253.6,87.4"/>
<path d="M273.5,83.5 L274.2,83.9 L274.7,84.5 L275.5,84.7 L276.3,85.0 L276.9,85.5 L277.8,85.3 L278.7,85.2 L279.6,85.4 L280.4,85.5 L281.3,85.6 L282.0,86.0 L282.8,86.4 L283.4,86.8 L284.2,87.0 L285.1,87.0 L286.0,86.6 L286.8,86.3 L287.6,85.8 L288.4,85.2 L288.8,84.4 L289.1,83.6 L289.6,82.8 L289.6,81.8 L290.1,81.1 L290.9,80.6 L291.8,80.4 L292.7,80.2 L293.5,80.5 L294.0,81.1 L293.8,81.7 L293.6,82.4 L293.2,83.0 L293.6,83.6 L294.2,84.1 L294.5,84.8 L295.2,85.2 L295.9,85.6 L296.8,85.6 L297.5,86.0 L298.4,86.1 L299.2,85.7 L300.1,85.4 L301.0,85.5 L301.8,85.7 L302.7,85.8 L303.3,85.1"/>
<path d="M273.5,83.5 L274.3,83.8 L275.0,84.1 L275.8,84.4 L276.6,84.7 L277.3,85.2 L277.9,85.7 L278.7,86.0 L279.4,86.3 L280.3,86.5 L281.1,86.8 L281.8,87.1 L282.5,87.6 L283.4,87.6 L284.2,87.5 L285.0,87.0 L285.7,86.4 L286.2,85.6 L287.0,85.2 L287.9,84.9 L288.8,84.6 L289.7,84.6 L290.6,84.6 L291.3,84.9"/>
<path d="M273.5,83.5 L273.9,82.7 L274.3,81.9 L275.1,81.3 L275.9,80.9 L276.7,80.4 L277.6,80.5 L278.5,80.4 L279.3,80.0 L280.1,79.6 L280.9,79.0 L281.4,78.3 L282.2,77.7 L282.6,76.9 L282.1,76.2 L281.9,75.3 L281.2,74.9 L280.5,74.3 L279.7,74.2 L279.2,73.6 L278.4,73.2 L277.6,72.9 L277.1,72.3 L276.8,71.4 L276.9,70.5 L277.3,69.7 L277.6,68.8 L277.9,68.0 L278.8,67.8 L279.7,67.8 L280.6,67.5 L281.5,67.3 L282.0,66.5 L282.9,66.3 L283.8,66.0"/>
<path d="M273.5,83.5 L273.2,84.2 L272.6,84.5 L271.9,84.8 L271.2,85.2 L270.4,84.9 L269.6,84.7 L268.8,84.6 L268.1,84.7 L267.6,83.9 L267.0,83.3 L266.6,82.5 L266.4,81.6 L265.9,80.9 L265.1,80.6 L264.3,80.5 L263.5,80.2 L262.8,80.5 L262.0,80.4 L261.2,80.3 L260.4,80.0 L259.8,79.4 L259.1,78.9 L258.4,79.0 L257.7,79.3 L257.0,79.7 L256.4,80.1 L256.1,80.8 L255.9,81.4 L255.4,81.9 L255.0,82.5 L255.0,83.2 L255.0,83.9 L255.5,84.5 L255.9,85.1 L256.8,85.2 L257.7,85.1 L258.6,84.8 L259.4,84.5 L260.2,84.0 L261.0,83.6 L261.9,83.7 L262.8,83.7 L263.5,84.1 L264.4,84.0"/>
<path d="M273.5,83.5 L273.4,82.6 L274.2,82.1 L274.5,81.2 L275.0,80.4 L275.3,79.6 L274.7,78.9 L274.6,78.0 L274.7,77.1 L274.6,76.2 L274.4,75.3 L274.8,74.5 L275.5,73.9 L275.7,73.0 L276.2,72.2 L276.4,71.3 L277.1,70.6 L277.9,70.3 L278.7,70.5 L279.5,70.7 L280.4,70.5 L281.3,70.2 L282.2,70.0 L283.1,69.8 L283.9,69.3 L284.7,69.0 L285.5,68.5 L285.7,67.6"/>
<path d="M273.5,83.5 L274.0,84.1 L274.9,84.1 L275.7,83.7 L276.3,83.0 L276.7,82.2 L277.2,81.4 L277.3,80.4 L277.0,79.6 L276.3,79.1 L275.9,78.2 L275.3,77.7 L274.7,77.0 L274.3,76.3 L273.7,75.6 L273.2,74.9 L272.4,74.9 L271.7,75.1 L271.0,75.4 L270.2,75.6 L269.6,75.9 L268.8,76.2 L268.2,76.6 L267.9,77.3 L267.9,78.0 L267.4,78.5 L266.9,79.0 L266.4,79.5 L265.6,79.6 L264.9,79.9 L264.1,80.1 L263.4,80.3 L262.7,80.7 L262.0,80.9 L261.6,81.4 L261.6,82.2 L261.4,82.8 L261.3,83.5 L261.6,84.2 L261.6,84.9 L261.4,85.6 L261.5,86.3 L260.8,86.6 L260.0,86.4 L259.2,86.3 L258.4,86.5 L257.6,86.3 L256.8,86.5 L256.7,87.1"/>
<path d="M273.5,83.5 L274.4,83.2 L275.2,83.4 L276.1,83.3 L277.0,83.1 L277.8,82.7 L278.3,81.9 L278.7,81.0 L279.1,80.2 L279.3,79.3 L278.9,78.5 L279.1,77.6 L279.2,76.7 L279.6,75.8 L279.9,75.0 L279.9,74.1 L279.8,73.2 L279.5,72.3 L279.1,71.5 L279.0,70.6 L279.1,69.7 L279.7,69.0 L280.2,68.2 L280.8,67.5 L281.2,66.7 L281.2,65.8 L281.5,64.9 L282.2,64.3 L282.7,63.5 L283.4,62.9 L284.1,62.2 L284.6,61.5 L285.2,60.7 L285.1,59.8 L285.4,59.0 L285.5,58.0 L285.7,57.2 L286.6,57.0 L287.5,57.0 L288.4,56.9 L289.3,56.7 L290.2,56.5 L291.0,56.6 L291.9,56.9 L292.6,57.2 L293.5,57.3 L294.3,57.5 L295.2,57.2 L295.9,56.6 L296.8,56.3"/>
<path d="M273.5,83.5 L274.4,83.4 L275.2,83.7 L276.0,83.9 L276.9,83.8 L277.8,83.7 L278.7,83.6 L279.4,83.1 L280.3,82.8 L281.2,82.8 L282.0,82.5 L282.8,81.9 L283.7,81.9 L284.6,81.8 L285.4,81.4 L286.3,81.1 L287.2,80.9 L288.0,80.6 L288.9,80.3 L289.8,80.2 L290.6,79.8 L291.5,80.0 L292.3,80.2 L293.1,79.6 L293.9,79.4 L294.8,79.2 L295.4,79.8 L295.7,80.4 L295.5,81.1 L295.4,81.8 L295.1,82.5 L295.5,83.1 L295.6,83.8 L295.6,84.5 L295.7,85.2"/>
<path d="M273.5,83.5 L274.0,84.1 L274.9,83.9 L275.8,83.9 L276.7,84.1 L277.1,84.7 L277.3,85.4 L276.9,86.0 L276.6,86.6 L276.0,87.1 L275.6,87.7 L275.0,88.1 L274.3,88.5 L274.5,89.2 L275.0,89.7 L275.6,90.2 L275.9,90.9 L276.7,91.3 L276.9,92.0 L276.5,92.6 L276.7,93.3 L276.6,94.0 L277.1,94.6 L277.7,95.1 L278.6,94.9 L279.1,94.1 L279.4,93.2 L279.9,92.4 L280.3,91.6 L280.0,90.7 L279.8,89.8 L280.5,89.3 L281.3,88.8 L282.2,88.4 L283.0,88.1 L283.9,87.9 L284.6,87.3 L285.5,87.1 L286.4,86.8 L287.1,87.2 L287.1,87.9 L286.8,88.5 L286.2,89.0 L285.5,89.1 L284.7,89.1 L283.9,89.2"/>
<path d="M273.5,83.5 L273.9,82.7 L274.6,82.0 L275.4,81.6 L276.3,81.7 L277.1,82.0 L277.6,82.6 L278.0,83.2 L278.6,83.7 L279.4,84.0 L280.3,83.9 L281.1,84.1 L281.3,84.8 L281.1,85.4 L281.7,86.0 L282.4,86.4 L283.0,86.9 L283.9,87.0 L284.7,87.2 L285.5,86.8 L286.4,86.6"/>
<path d="M273.5,83.5 L273.8,82.6 L274.2,81.8 L273.9,81.0 L273.4,80.2 L273.3,79.3 L273.3,78.4 L273.3,77.5 L273.6,76.6 L273.7,75.7 L273.4,74.9 L273.0,74.1 L272.4,73.5 L271.7,72.9 L271.0,72.4 L270.5,71.7 L269.7,71.3 L269.0,71.4 L268.2,71.3 L267.4,70.9 L266.6,70.6 L265.8,70.5 L265.1,70.7 L264.4,71.0 L263.7,71.4 L262.9,71.2 L262.1,71.3 L261.4,71.4 L260.6,71.1 L260.2,70.3"/>
<path d="M273.5,83.5 L274.2,82.8 L274.8,83.3 L275.2,83.9 L275.4,84.6 L275.5,85.3 L275.7,86.0 L275.7,86.7 L275.9,87.4 L276.6,87.9 L277.1,88.5 L278.0,88.5 L278.9,88.6 L279.6,89.0 L280.3,89.4 L280.6,90.0 L280.9,90.7 L280.7,91.4 L280.3,92.0 L280.0,92.7 L279.2,92.6 L278.5,92.7 L277.7,92.9 L276.9,93.1 L276.3,93.4 L275.7,93.9 L275.0,94.2 L274.2,94.2 L273.5,94.5 L273.0,95.0 L272.2,95.0 L271.4,94.7 L270.8,94.1 L270.0,93.7 L269.4,93.1 L269.1,92.3 L268.4,91.8 L267.6,91.4 L266.8,91.2 L266.0,91.0 L265.2,90.8 L264.4,90.5 L263.6,90.6 L262.9,90.9 L262.1,91.0 L261.4,91.1 L261.0,91.7 L260.5,92.2"/>
<path d="M273.5,83.5 L272.7,83.4 L272.4,84.1 L272.4,84.8 L272.6,85.5 L273.0,86.1 L273.8,86.3 L274.4,86.8 L275.1,87.3 L275.1,88.0 L275.6,88.6 L276.1,89.2 L276.9,89.3 L277.7,89.5 L278.3,90.0 L278.7,90.6 L279.3,91.1 L279.7,91.8 L280.1,92.4 L280.3,93.1 L280.2,93.8 L279.9,94.4 L280.2,95.1 L280.1,95.8 L280.1,96.5 L280.4,97.2 L280.4,97.9 L279.9,98.4 L279.9,99.1 L280.6,99.6 L281.1,100.2 L281.2,100.9 L281.7,101.5 L282.1,102.1 L282.2,102.8"/>
<path d="M273.5,83.5 L274.2,83.9 L274.5,84.6 L274.3,85.3 L274.4,86.0 L274.5,86.7 L275.2,87.1 L274.9,87.8 L274.4,88.3 L273.7,88.6 L273.4,89.2 L273.5,89.9 L273.6,90.6 L273.7,91.3 L273.5,92.0 L273.2,92.6 L272.6,93.2 L271.9,92.8 L271.2,93.2 L270.7,93.7 L271.0,94.4 L271.6,94.8 L272.4,95.1 L273.3,95.2 L273.9,95.7 L274.0,96.4 L274.5,97.0 L274.9,97.7 L274.6,98.3 L274.4,99.0 L273.7,99.3 L273.0,99.7 L272.8,100.3 L272.3,100.8 L271.6,101.1 L271.0,101.6 L270.5,102.1 L270.0,102.6 L269.3,102.9 L268.5,103.0 L267.9,102.3 L267.4,101.6"/>
<path d="M273.5,83.5 L272.8,83.8 L272.3,84.3 L272.2,85.0 L272.5,85.7 L272.5,86.4 L272.4,87.1 L272.8,87.7 L273.2,88.3 L273.6,89.0 L273.6,89.7 L273.5,90.4 L272.6,90.2 L271.9,89.9 L271.7,89.0 L271.9,88.1 L272.5,87.4 L272.6,86.4 L272.4,85.6 L272.1,84.7 L272.0,83.8 L272.4,83.0 L272.7,82.1 L273.2,81.4 L273.8,80.6 L274.1,79.8 L274.4,78.9 L274.8,78.0 L275.5,77.4 L275.8,76.6 L276.0,75.7 L275.9,74.8 L275.3,74.1 L275.2,73.2 L275.2,72.3 L274.9,71.5"/>
<path d="M273.5,83.5 L274.2,82.9 L275.1,82.7 L276.0,82.6 L276.7,82.1 L277.5,81.7 L278.4,81.3 L279.1,80.6 L279.9,80.6 L280.8,80.4 L281.5,79.7 L282.2,79.2 L283.1,78.8 L283.9,78.4 L284.7,78.0 L285.6,78.0 L286.5,78.0 L287.1,78.4 L287.9,78.7 L288.3,79.4 L288.6,80.1 L289.1,80.6 L289.5,81.2 L290.1,81.8"/>
<path d="M273.5,83.5 L274.3,83.1 L275.2,82.9 L276.0,82.4 L276.9,82.5 L277.7,82.3 L278.4,81.6 L279.3,81.2 L280.0,80.7 L280.6,79.9 L281.2,79.2 L282.0,78.7 L282.3,77.9 L283.0,77.3 L283.7,76.7 L284.2,75.9 L284.5,75.0 L284.3,74.1 L283.6,73.6 L282.9,73.2 L282.1,73.4 L281.6,73.9 L280.8,73.9 L280.0,73.8 L279.2,73.9"/>
<path d="M273.5,83.5 L274.4,83.4 L275.1,83.9 L275.4,84.5 L275.8,85.1 L276.3,85.7 L277.2,85.9 L278.0,85.9 L278.9,85.9 L279.8,85.6 L280.7,85.5 L281.4,86.0 L281.9,86.5 L282.7,86.7 L283.5,87.1 L284.4,87.0 L285.2,87.2 L286.1,87.0 L287.0,86.9 L287.8,86.5 L288.7,86.0 L289.5,85.6 L290.3,85.2 L290.9,84.5 L291.6,83.9 L292.1,83.1 L292.3,82.2 L292.9,81.4 L293.7,81.0 L294.5,80.5 L295.0,79.7"/>
<path d="M273.5,83.5 L272.8,83.8 L272.0,84.0 L271.2,83.7 L270.6,83.2 L269.8,82.8 L269.3,82.1 L268.7,81.4 L268.6,80.5 L268.6,79.6 L268.4,78.7 L268.9,78.0 L269.4,77.2 L269.9,76.4 L270.4,75.6 L270.8,74.8 L271.0,73.9 L271.7,73.2 L272.4,72.6 L273.0,71.9 L273.0,71.0 L273.6,70.2 L274.4,69.7 L275.3,69.6 L276.1,69.5 L276.9,69.8 L277.4,70.4 L278.2,70.8 L279.0,70.4 L279.7,70.7 L280.6,70.5 L281.5,70.6 L282.4,70.5 L283.3,70.2 L283.9,69.6 L284.6,69.0 L285.5,68.7 L286.4,68.4 L287.1,67.8"/>
<path d="M273.5,83.5 L274.4,83.3 L275.3,83.1 L276.2,82.9 L277.0,82.5 L277.6,81.9 L278.4,81.3 L279.2,80.8 L280.0,81.1 L280.5,81.7 L280.5,82.4 L280.7,83.1 L280.5,83.8 L280.1,84.3 L279.9,85.0 L280.0,85.7 L280.5,86.3 L280.8,86.9 L281.1,87.6 L281.7,88.1 L282.1,88.7 L282.4,89.4 L282.3,90.1 L281.9,90.6 L281.7,91.3 L281.6,92.0 L281.3,92.7 L280.9,93.2 L281.0,93.9 L281.3,94.6 L281.2,95.3 L281.9,95.7 L282.4,96.3 L282.9,96.9 L283.2,97.6 L283.2,98.3 L283.6,99.0 L283.3,99.6 L283.1,100.3 L282.7,100.9 L283.0,101.6 L283.4,102.2 L284.0,102.7 L284.7,103.1 L285.5,103.4 L286.4,103.5 L286.5,104.2 L286.8,104.9 L286.9,105.6 L287.3,106.3"/>
<path d="M273.5,83.5 L274.2,82.8 L275.0,82.5 L275.8,82.1 L276.7,81.7 L277.6,81.7 L278.5,81.7 L279.3,81.7 L280.2,81.9 L281.0,82.2 L281.7,82.6 L281.4,83.3 L281.2,83.9 L281.0,84.6 L281.1,85.3 L281.7,85.8 L282.0,86.5 L282.6,87.1 L283.2,87.6 L283.8,88.1 L284.6,88.3 L285.5,88.3 L286.2,88.6 L287.1,88.5 L288.0,88.5 L288.8,88.7 L289.5,89.1 L290.2,89.5 L290.4,90.2 L291.1,90.7 L291.8,91.1 L292.3,91.7 L293.0,92.1 L293.7,92.4 L294.5,92.7 L295.4,92.7 L296.3,92.7 L297.1,92.9 L298.0,92.8 L298.6,93.3 L298.8,94.0 L299.1,94.7 L299.8,95.1 L299.9,95.8 L300.0,96.5"/>
<path d="M273.5,83.5 L273.4,82.6 L272.8,82.0 L272.0,82.0 L271.3,82.3 L270.7,82.7 L270.2,83.2 L269.4,83.2 L268.6,83.2 L267.9,82.8 L267.3,82.1 L266.8,81.4 L266.8,80.5 L266.2,79.9 L265.5,79.4 L264.7,79.0 L263.9,78.9 L263.1,78.8 L262.3,78.7 L261.6,78.9 L260.8,78.8 L260.0,78.8 L259.2,78.9 L258.5,79.3 L257.7,79.2 L256.9,79.3 L256.1,79.3 L255.4,79.5 L254.7,79.9 L254.1,80.3 L253.7,80.9 L253.4,81.5 L253.5,82.2 L253.8,82.9 L254.3,83.5 L254.5,84.2 L254.5,84.9"/>
<path d="M273.5,83.5 L272.7,83.4 L271.9,83.3 L271.1,83.0 L270.3,82.8 L269.5,82.4 L268.9,81.9 L268.2,81.3 L267.5,80.8 L266.7,80.6 L266.0,80.2 L265.5,79.4 L264.8,78.9 L264.1,78.5 L263.3,78.1 L262.9,77.3 L262.2,76.9 L261.7,76.1 L261.0,75.6 L260.3,75.2 L259.5,74.8 L258.8,74.3 L258.0,74.1 L257.2,73.9 L256.8,73.2"/>
<path d="M273.5,83.5 L274.4,83.6 L275.2,83.4 L276.0,82.9 L276.9,82.8 L277.4,82.1 L277.3,81.2 L277.3,80.3 L277.9,79.6 L278.8,79.2 L279.4,78.5 L279.2,77.6 L279.3,76.7 L280.0,76.0 L280.9,75.7 L281.3,74.9 L281.7,74.1 L282.5,73.6 L283.3,73.9 L284.2,73.9 L285.0,73.7 L285.9,73.6 L286.8,73.6 L287.7,73.6 L288.6,73.7 L289.3,74.0 L290.0,74.5 L290.5,75.1 L291.2,75.4 L292.1,75.5 L293.0,75.3 L293.5,74.6 L294.4,74.5 L295.3,74.5 L296.1,74.2 L297.0,73.9 L297.9,73.9 L298.8,73.7 L299.7,73.7 L300.5,74.0 L301.2,74.3"/>
<path d="M273.5,83.5 L274.3,83.1 L275.1,82.7 L276.0,82.4 L276.1,81.5 L276.2,80.6 L276.5,79.7 L276.8,78.8 L277.3,78.1 L278.2,77.8 L279.0,77.4 L279.6,76.7 L280.4,76.5 L281.3,76.5 L282.2,76.4 L283.1,76.6 L283.9,76.6 L284.8,76.6 L285.6,76.9 L286.2,77.4 L286.8,77.9"/>
<path d="M273.5,83.5 L274.4,83.4 L275.2,82.9 L275.9,82.3 L276.6,81.7 L277.3,81.2 L278.1,80.6 L278.8,80.1 L279.7,80.0 L280.5,80.3 L280.5,81.0 L280.7,81.7 L280.9,82.4 L281.5,82.9 L282.2,83.4 L283.0,83.6 L283.5,84.2 L283.2,84.9 L282.8,85.4 L282.3,85.9 L281.9,86.5 L281.4,87.1 L280.9,87.6 L280.4,88.1 L279.9,88.6 L279.6,89.3 L279.3,89.9 L278.9,90.5 L278.4,91.0 L277.6,91.1 L276.8,90.8 L276.1,90.4 L275.3,90.1 L274.6,89.6 L274.3,88.8 L273.7,88.1 L273.4,87.3 L273.7,86.4 L274.4,85.8 L275.2,85.5 L275.9,86.0 L276.3,86.6 L277.2,86.7 L277.9,87.0"/>
<path d="M273.5,83.5 L272.8,83.0 L272.1,82.5 L271.3,82.4 L270.6,81.9 L269.9,81.4 L269.2,81.0 L268.4,80.7 L267.8,80.1 L267.5,79.2 L266.8,78.8 L266.1,78.4 L265.4,77.9 L264.6,77.7 L264.1,77.0 L263.6,76.2 L263.8,75.3 L263.4,74.5 L263.4,73.6 L263.4,72.7 L263.7,71.8"/>
<path d="M273.5,83.5 L274.3,83.1 L275.2,82.9 L276.1,82.5 L277.0,82.3 L277.8,82.2 L278.7,81.9 L279.4,81.3 L280.3,81.2 L281.1,81.5 L281.8,81.9 L282.5,82.4 L282.8,83.0 L283.5,83.4 L284.2,83.8 L285.0,84.1 L285.9,84.1 L286.7,84.4 L287.5,84.5 L288.4,84.5 L289.2,84.1 L290.1,84.0 L290.9,83.4 L291.5,82.7 L292.0,82.0 L292.2,81.1 L292.4,80.2 L292.8,79.3 L292.8,78.4 L292.9,77.5 L292.7,76.6 L292.0,76.1 L291.3,75.6 L290.6,75.2 L290.0,74.5 L289.6,73.7 L288.9,73.2 L288.5,72.5 L288.0,71.7 L287.4,71.1 L287.2,70.2 L287.1,69.3 L287.4,68.4 L286.9,67.7 L286.2,67.1 L285.4,66.9 L284.9,67.4 L284.7,68.1 L285.0,68.8 L285.2,69.5"/>
<path d="M273.5,83.5 L274.0,84.4 L274.1,85.4 L274.7,86.2 L275.4,86.9 L276.4,87.3 L277.4,87.2 L277.9,86.3 L278.6,85.6 L279.4,84.9 L279.6,83.9 L279.9,83.0 L279.9,82.0 L280.0,81.0 L280.8,80.3 L281.7,80.0 L282.4,79.2 L283.3,78.7 L284.3,78.9 L285.2,79.3 L286.1,79.7 L287.1,79.8 L288.1,79.8 L289.1,79.5 L290.1,79.7 L291.0,80.2 L291.6,80.9 L292.1,81.8 L292.7,82.6 L293.7,82.8 L294.7,83.1 L295.7,82.9 L296.4,82.1 L297.4,81.9 L298.4,82.0 L299.4,82.1 L300.1,82.8 L301.1,82.6 L301.9,83.3 L302.1,84.3 L302.7,85.1"/>
<path d="M273.5,83.5 L273.0,82.6 L272.1,82.1 L271.4,81.4 L270.5,81.0 L269.5,81.1 L268.6,80.5 L268.1,79.6 L268.5,78.7 L269.3,78.0 L269.7,77.1 L270.1,76.2 L270.1,75.2 L269.5,74.4 L268.5,74.1 L267.5,74.2 L266.5,74.0 L265.5,73.7 L264.5,73.6 L263.6,73.9 L262.9,74.6 L262.4,75.5 L261.7,76.3 L261.1,77.0 L261.2,78.0 L261.5,79.0 L262.4,79.3 L263.3,79.9 L264.3,80.0 L265.3,80.1 L266.2,79.7 L267.2,79.7 L268.2,79.5 L269.2,79.3 L270.2,79.3 L271.1,79.8 L271.5,80.8 L271.7,81.8 L272.1,82.7 L272.7,83.5 L273.4,84.2 L274.3,84.8 L274.6,85.8"/>
<path d="M273.5,83.5 L272.7,82.9 L272.1,82.1 L271.1,81.7 L270.2,81.4 L269.7,80.5 L268.7,80.5 L267.9,79.8 L266.9,79.9 L266.1,80.5 L265.1,80.6 L264.3,81.2 L264.1,82.2 L264.4,83.2 L265.1,84.0 L265.9,84.6 L266.7,85.2 L267.4,85.9 L268.2,86.6 L269.2,86.6 L270.2,86.6 L270.8,85.8 L271.8,85.6 L272.8,85.4 L273.7,85.9 L273.9,86.9 L274.3,87.8 L274.5,88.8 L274.5,89.8 L273.9,90.7 L273.3,91.5 L272.3,91.6 L271.3,91.7"/>
<path d="M273.5,83.5 L272.7,84.1 L271.7,83.9 L270.7,83.9 L269.7,84.0 L268.8,84.4 L267.9,84.9 L267.3,85.7 L266.6,86.5 L265.6,86.8 L264.8,87.3 L263.8,87.4 L262.7,87.4 L261.7,87.5 L260.8,87.1 L259.8,87.2 L259.0,86.6 L257.9,86.6 L256.9,86.7 L256.3,87.5 L256.2,88.5 L256.4,89.4 L256.8,90.4 L257.3,91.3 L257.1,92.3 L256.7,93.2 L255.9,93.8 L255.0,94.2 L254.0,94.5 L253.0,94.4 L252.0,94.5 L251.0,94.4 L250.0,94.1 L249.0,94.0 L248.0,94.2 L247.1,93.7 L246.3,93.2 L245.6,93.9 L245.0,94.7 L244.6,95.6 L243.8,96.3 L243.5,97.3 L243.9,98.2 L244.6,98.9 L245.3,99.7 L246.0,100.4 L245.8,101.4 L245.9,102.4 L245.9,103.4 L246.2,104.4 L246.6,105.3 L247.1,106.2"/>
<path d="M273.5,83.5 L272.9,84.3 L272.5,85.2 L272.5,86.3 L272.5,87.3 L273.2,88.0 L273.8,88.9 L273.5,89.8 L272.8,90.6 L272.3,91.4 L271.4,91.9 L270.6,92.5 L269.6,92.5 L268.6,92.6 L267.6,92.6 L266.7,92.2 L265.9,91.5 L265.2,90.8 L264.2,90.5 L263.2,90.3 L262.2,90.1 L261.2,89.9 L260.3,90.2 L259.4,90.8 L259.3,91.8 L258.8,92.7 L258.8,93.7 L258.8,94.7 L258.6,95.7 L258.7,96.7 L259.2,97.6 L260.0,98.1 L261.0,98.4 L261.8,99.1 L262.6,99.6 L263.5,100.0 L264.5,99.6 L265.3,99.1 L266.1,98.5 L266.3,97.5 L266.4,96.4 L266.7,95.5 L266.8,94.5 L266.5,93.5 L266.1,92.6 L266.6,91.6 L267.2,90.8 L267.3,89.8 L267.7,88.9 L267.7,87.9 L267.6,86.9 L267.9,85.9 L267.7,84.9 L268.5,84.3 L269.5,84.6 L269.9,85.5 L270.6,86.2 L271.2,87.0"/>
<path d="M273.5,83.5 L273.7,82.5 L274.2,81.6 L274.8,80.8 L274.9,79.8 L274.6,78.8 L275.0,77.9 L275.1,76.9 L274.2,76.3 L273.2,76.1 L272.4,75.4 L271.5,75.2 L270.5,75.0 L269.5,74.8 L268.5,75.0 L267.8,75.7 L267.0,76.3 L266.2,77.0 L265.4,77.5 L264.5,78.0 L264.3,79.0 L263.9,79.9 L263.8,80.9 L263.8,81.9 L263.9,82.9 L263.5,83.9 L263.4,84.9 L262.8,85.7 L262.6,86.7 L262.3,87.7 L262.1,88.6 L261.7,89.6 L261.0,90.3 L260.0,90.6 L259.1,90.9 L258.1,91.2 L257.2,91.7 L256.3,92.0 L255.5,92.7 L254.8,93.5 L254.2,94.3 L253.5,95.0 L252.9,95.7 L252.5,96.7 L251.8,97.4 L250.8,97.7 L249.9,98.2 L249.2,98.9 L248.4,99.5 L247.8,100.3 L246.8,100.6 L245.8,100.4 L244.8,100.2 L243.8,100.1 L243.1,99.4 L242.2,98.9 L242.0,97.9 L241.3,97.2 L241.1,96.2 L241.0,95.2"/>
<path d="M273.5,83.5 L272.5,83.5 L271.9,82.7 L271.4,81.8 L270.8,81.0 L270.3,80.1 L269.8,79.2 L270.0,78.2 L270.9,77.7 L271.9,77.9 L272.8,77.5 L273.7,77.0 L274.7,77.3 L275.5,76.7 L276.2,75.9 L276.3,74.9 L275.9,74.0 L275.0,73.5 L274.8,72.5 L274.5,71.5 L274.6,70.5 L273.8,69.9 L272.8,69.6 L271.8,69.3 L270.9,68.9 L270.8,67.9 L270.6,66.9 L270.7,65.9 L270.3,65.0 L269.5,64.4 L268.7,63.7 L268.1,62.9 L267.1,62.6 L266.2,62.1 L265.2,62.1 L264.2,62.2 L263.2,62.2 L262.2,62.4 L261.7,63.2 L260.8,63.5 L260.0,64.2 L259.5,65.1 L258.9,65.9 L259.0,66.9 L259.5,67.8 L260.2,68.5 L260.5,69.5"/>
<path d="M273.5,83.5 L272.9,84.3 L273.3,85.2 L273.3,86.2 L274.0,87.0 L274.2,87.9 L274.5,88.9 L275.2,89.7 L275.2,90.7 L275.3,91.7 L275.1,92.7 L274.6,93.6 L274.6,94.6 L274.5,95.6 L274.6,96.6 L274.8,97.6 L275.2,98.6 L276.1,99.0 L277.0,99.3 L277.9,99.8 L278.9,100.2 L279.9,100.3 L280.9,100.1 L281.5,100.8 L282.2,101.6 L283.0,102.2 L283.8,101.6 L284.7,101.2 L285.7,101.0 L286.7,101.2 L287.6,101.6 L288.0,102.5 L288.1,103.5 L288.1,104.5 L287.4,105.3 L286.6,105.9 L285.7,106.3 L285.2,107.2 L285.4,108.2 L286.4,108.4 L287.4,108.6 L288.4,108.4 L288.6,107.4 L289.1,106.5 L288.7,105.5"/>
</g><g fill="#111">
<circle cx="269.0" cy="85.7" r="1.1"/>
<circle cx="279.2" cy="87.2" r="1.1"/>
<circle cx="268.9" cy="92.0" r="1.1"/>
<circle cx="272.7" cy="86.9" r="1.1"/>
<circle cx="271.0" cy="85.2" r="1.1"/>
<circle cx="265.4" cy="86.0" r="1.1"/>
<circle cx="271.8" cy="86.9" r="1.1"/>
<circle cx="262.4" cy="71.5" r="1.1"/>
<circle cx="277.3" cy="82.2" r="1.1"/>
<circle cx="264.2" cy="85.9" r="1.1"/>
<circle cx="276.9" cy="75.0" r="1.1"/>
<circle cx="280.6" cy="71.4" r="1.1"/>
<circle cx="268.8" cy="87.5" r="1.1"/>
<circle cx="281.2" cy="79.5" r="1.1"/>
<circle cx="270.0" cy="78.4" r="1.1"/>
<circle cx="275.8" cy="91.4" r="1.1"/>
<circle cx="281.7" cy="81.3" r="1.1"/>
<circle cx="264.8" cy="90.1" r="1.1"/>
<circle cx="273.9" cy="72.6" r="1.1"/>
<circle cx="281.9" cy="87.5" r="1.1"/>
<circle cx="277.2" cy="74.2" r="1.1"/>
<circle cx="265.5" cy="86.2" r="1.1"/>
<circle cx="271.5" cy="88.7" r="1.1"/>
<circle cx="271.1" cy="77.1" r="1.1"/>
<circle cx="261.3" cy="79.5" r="1.1"/>
<circle cx="278.4" cy="85.1" r="1.1"/>
<circle cx="284.7" cy="82.9" r="1.1"/>
<circle cx="275.5" cy="82.6" r="1.1"/>
<circle cx="282.9" cy="89.8" r="1.1"/>
<circle cx="265.4" cy="81.3" r="1.1"/>
<circle cx="270.2" cy="76.3" r="1.1"/>
<circle cx="268.4" cy="89.8" r="1.1"/>
<circle cx="267.6" cy="83.5" r="1.1"/>
<circle cx="264.8" cy="86.2" r="1.1"/>
<circle cx="276.8" cy="74.4" r="1.1"/>
<circle cx="272.0" cy="83.8" r="1.1"/>
<circle cx="272.3" cy="76.1" r="1.1"/>
<circle cx="278.4" cy="86.8" r="1.1"/>
<circle cx="278.3" cy="86.0" r="1.1"/>
<circle cx="271.0" cy="87.2" r="1.1"/>
<circle cx="283.4" cy="93.4" r="1.1"/>
<circle cx="271.6" cy="92.6" r="1.1"/>
<circle cx="269.4" cy="68.5" r="1.1"/>
<circle cx="264.0" cy="81.6" r="1.1"/>
<circle cx="280.7" cy="74.0" r="1.1"/>
<circle cx="274.8" cy="74.7" r="1.1"/>
<circle cx="273.5" cy="74.9" r="1.1"/>
<circle cx="275.4" cy="74.2" r="1.1"/>
<circle cx="268.6" cy="89.4" r="1.1"/>
<circle cx="271.5" cy="82.5" r="1.1"/>
<circle cx="273.6" cy="71.3" r="1.1"/>
<circle cx="265.1" cy="82.4" r="1.1"/>
<circle cx="274.2" cy="79.6" r="1.1"/>
<circle cx="277.8" cy="92.0" r="1.1"/>
<circle cx="282.7" cy="81.1" r="1.1"/>
<circle cx="270.6" cy="87.4" r="1.1"/>
<circle cx="281.8" cy="83.1" r="1.1"/>
<circle cx="272.3" cy="79.2" r="1.1"/>
<circle cx="271.9" cy="81.7" r="1.1"/>
<circle cx="282.7" cy="90.6" r="1.1"/>
<circle cx="280.5" cy="77.5" r="1.1"/>
<circle cx="268.5" cy="78.3" r="1.1"/>
<circle cx="279.3" cy="75.2" r="1.1"/>
<circle cx="274.7" cy="93.2" r="1.1"/>
<circle cx="271.0" cy="69.1" r="1.1"/>
<circle cx="281.0" cy="80.6" r="1.1"/>
<circle cx="267.8" cy="79.6" r="1.1"/>
<circle cx="269.2" cy="88.8" r="1.1"/>
<circle cx="282.4" cy="79.8" r="1.1"/>
<circle cx="276.2" cy="80.0" r="1.1"/>
<circle cx="284.0" cy="87.2" r="1.1"/>
<circle cx="273.0" cy="82.4" r="1.1"/>
<circle cx="274.2" cy="77.1" r="1.1"/>
<circle cx="270.4" cy="87.6" r="1.1"/>
<circle cx="271.4" cy="89.2" r="1.1"/>
<circle cx="283.2" cy="82.9" r="1.1"/>
<circle cx="271.2" cy="72.6" r="1.1"/>
<circle cx="274.8" cy="93.1" r="1.1"/>
<circle cx="266.3" cy="84.7" r="1.1"/>
<circle cx="271.1" cy="71.1" r="1.1"/>
<circle cx="261.4" cy="77.1" r="1.1"/>
<circle cx="268.0" cy="85.2" r="1.1"/>
<circle cx="296.1" cy="86.5" r="1.1"/>
<circle cx="286.7" cy="100.7" r="1.1"/>
<circle cx="298.8" cy="85.7" r="1.1"/>
<circle cx="282.5" cy="81.2" r="1.1"/>
<circle cx="264.6" cy="100.6" r="1.1"/>
<circle cx="299.7" cy="90.2" r="1.1"/>
<circle cx="290.4" cy="83.1" r="1.1"/>
<circle cx="263.9" cy="72.8" r="1.1"/>
<circle cx="296.0" cy="77.4" r="1.1"/>
<circle cx="253.6" cy="87.4" r="1.1"/>
<circle cx="303.3" cy="85.1" r="1.1"/>
<circle cx="291.3" cy="84.9" r="1.1"/>
<circle cx="283.8" cy="66.0" r="1.1"/>
<circle cx="264.4" cy="84.0" r="1.1"/>
<circle cx="285.7" cy="67.6" r="1.1"/>
<circle cx="256.7" cy="87.1" r="1.1"/>
<circle cx="296.8" cy="56.3" r="1.1"/>
<circle cx="295.7" cy="85.2" r="1.1"/>
<circle cx="283.9" cy="89.2" r="1.1"/>
<circle cx="286.4" cy="86.6" r="1.1"/>
<circle cx="260.2" cy="70.3" r="1.1"/>
<circle cx="260.5" cy="92.2" r="1.1"/>
<circle cx="282.2" cy="102.8" r="1.1"/>
<circle cx="267.4" cy="101.6" r="1.1"/>
<circle cx="274.9" cy="71.5" r="1.1"/>
<circle cx="290.1" cy="81.8" r="1.1"/>
<circle cx="279.2" cy="73.9" r="1.1"/>
<circle cx="295.0" cy="79.7" r="1.1"/>
<circle cx="287.1" cy="67.8" r="1.1"/>
<circle cx="287.3" cy="106.3" r="1.1"/>
<circle cx="300.0" cy="96.5" r="1.1"/>
<circle cx="254.5" cy="84.9" r="1.1"/>
<circle cx="256.8" cy="73.2" r="1.1"/>
<circle cx="301.2" cy="74.3" r="1.1"/>
<circle cx="286.8" cy="77.9" r="1.1"/>
<circle cx="277.9" cy="87.0" r="1.1"/>
<circle cx="263.7" cy="71.8" r="1.1"/>
<circle cx="285.2" cy="69.5" r="1.1"/>
<circle cx="302.7" cy="85.1" r="1.1"/>
<circle cx="274.6" cy="85.8" r="1.1"/>
<circle cx="271.3" cy="91.7" r="1.1"/>
<circle cx="247.1" cy="106.2" r="1.1"/>
<circle cx="271.2" cy="87.0" r="1.1"/>
<circle cx="241.0" cy="95.2" r="1.1"/>
<circle cx="260.5" cy="69.5" r="1.1"/>
<circle cx="288.7" cy="105.5" r="1.1"/>
<circle cx="316.5" cy="54.0" r="1.1"/>
<circle cx="316.0" cy="61.9" r="1.1"/>
<circle cx="292.0" cy="62.5" r="1.1"/>
<circle cx="288.5" cy="87.5" r="1.1"/>
<circle cx="221.5" cy="97.1" r="1.1"/>
<circle cx="225.5" cy="117.2" r="1.1"/>
<circle cx="233.5" cy="80.5" r="1.1"/>
<circle cx="277.5" cy="95.5" r="1.1"/>
<circle cx="269.5" cy="110.5" r="1.1"/>
<circle cx="293.5" cy="81.5" r="1.1"/>
<circle cx="274.0" cy="53.5" r="1.1"/>
<circle cx="302.5" cy="67.5" r="1.1"/>
</g></g>
<rect x="216.00" y="26.00" width="113.50" height="113.20" fill="none" stroke="#666" stroke-width="1.25"/>
<text x="232.00" y="149.80" font-size="8.6" text-anchor="middle" font-weight="normal" fill="#111">-100</text>
<text x="272.50" y="149.80" font-size="8.6" text-anchor="middle" font-weight="normal" fill="#111">0</text>
<text x="313.00" y="149.80" font-size="8.6" text-anchor="middle" font-weight="normal" fill="#111">100</text>
<text x="211.70" y="126.30" font-size="8.6" text-anchor="end" font-weight="normal" fill="#111">-100</text>
<text x="211.70" y="85.80" font-size="8.6" text-anchor="end" font-weight="normal" fill="#111">0</text>
<text x="211.70" y="45.30" font-size="8.6" text-anchor="end" font-weight="normal" fill="#111">100</text>
<g stroke="#f0f0f0" stroke-width="0.6"><line x1="384.75" y1="26" x2="384.75" y2="139.2"/><line x1="425.25" y1="26" x2="425.25" y2="139.2"/><line x1="348.7" y1="62.45" x2="462" y2="62.45"/><line x1="348.7" y1="102.95" x2="462" y2="102.95"/><line x1="364.50" y1="26" x2="364.50" y2="139.2"/><line x1="445.50" y1="26" x2="445.50" y2="139.2"/><line x1="348.7" y1="42.20" x2="462" y2="42.20"/><line x1="348.7" y1="123.20" x2="462" y2="123.20"/></g>
<line x1="405.00" y1="26.00" x2="405.00" y2="139.20" stroke="#acacac" stroke-width="1.2"/>
<line x1="348.70" y1="82.70" x2="462.00" y2="82.70" stroke="#acacac" stroke-width="1.2"/>
<g clip-path="url(#cdk1)"><g fill="none" stroke="#333" stroke-width="0.55" stroke-linejoin="round">
<path d="M405.5,82.0 L405.0,81.5 L404.3,81.5 L404.3,80.1 L403.6,80.4 L402.7,79.6 L403.1,79.8 L403.3,78.4 L403.0,78.6 L403.0,78.3 L402.7,77.0 L402.7,76.6 L402.2,76.7 L401.7,75.7 L401.9,76.3 L400.8,75.7 L400.0,75.9 L400.1,75.5 L400.9,75.3 L400.0,75.4 L399.7,75.8"/>
<path d="M405.5,82.0 L405.3,81.3 L404.7,81.5 L404.5,80.5 L404.7,80.6 L404.4,79.9 L403.7,79.6 L401.9,79.7 L401.6,79.7 L400.8,79.6 L400.2,79.2"/>
<path d="M405.5,82.0 L404.5,82.0 L404.6,82.4 L403.7,81.9 L403.2,82.6 L402.5,82.7 L402.2,82.4 L401.4,82.7 L401.1,81.8 L400.8,82.0 L400.4,82.2 L399.6,82.3 L399.4,82.1 L399.3,82.7 L399.1,82.5 L398.8,82.6"/>
<path d="M405.5,82.0 L405.8,82.1 L406.0,82.3 L405.6,81.5 L406.4,81.6 L405.9,80.8 L406.7,80.6 L407.3,79.0 L407.3,78.9 L407.6,77.4 L407.9,76.8"/>
<path d="M405.5,82.0 L406.3,81.7 L406.3,81.4 L406.8,81.1 L407.0,81.2 L407.6,81.2 L408.1,81.3 L408.3,80.9 L408.7,80.5 L409.3,80.5 L408.8,81.0 L410.3,80.4 L411.2,80.8 L411.9,80.1 L412.5,80.0 L413.1,80.1 L413.1,80.3 L413.2,80.3 L413.6,79.8 L413.7,80.0 L413.7,79.7"/>
<path d="M405.5,82.0 L406.8,82.2 L407.5,81.6 L407.5,82.3 L408.6,82.1 L409.8,81.5 L409.6,82.9 L409.7,82.8 L409.7,83.3 L409.8,84.1 L409.5,84.3 L410.0,83.9 L410.5,83.0 L410.9,83.1 L410.6,82.3 L410.8,81.9 L412.1,82.0 L412.6,82.6 L413.4,83.0 L414.1,83.9 L415.2,83.9 L415.9,83.6 L416.2,83.1 L416.7,83.0 L416.4,82.9 L417.0,82.4"/>
<path d="M405.5,82.0 L406.0,82.0 L406.6,82.3 L407.0,82.4 L407.6,82.5 L408.1,82.9 L407.4,82.4 L408.6,83.2 L408.4,83.6 L408.6,84.7 L408.5,84.4 L409.2,84.2 L409.3,84.6 L410.0,84.9 L409.8,84.4 L410.8,85.0"/>
<path d="M405.5,82.0 L406.1,82.3 L406.0,83.5 L406.2,83.0 L407.1,83.8 L406.7,84.2 L408.2,83.8 L408.5,84.5 L410.0,83.6 L409.9,84.3 L410.5,84.1 L410.8,84.8 L410.7,85.3 L411.4,85.6 L411.7,85.5 L411.3,86.3 L412.2,86.4 L412.1,86.1 L412.3,86.3 L413.0,86.4 L413.7,86.6"/>
<path d="M405.5,82.0 L405.5,81.8 L404.6,81.5 L404.8,81.6 L404.5,81.3 L403.9,81.0 L404.2,80.2 L403.7,80.1 L403.5,79.4 L403.6,78.5 L403.5,78.0"/>
<path d="M405.5,82.0 L405.8,82.2 L406.6,81.4 L406.7,81.4 L406.7,81.3 L407.2,80.7 L407.2,79.9 L407.4,79.7 L408.3,79.5 L408.5,79.2 L408.5,79.0"/>
<path d="M405.5,82.0 L406.1,81.6 L406.9,82.6 L407.5,81.9 L408.0,82.0 L408.8,82.2 L408.9,82.7 L409.3,82.5 L408.2,83.6 L409.0,83.2 L409.0,83.2 L409.2,83.6 L409.8,83.3 L410.6,83.2 L410.9,83.3 L411.5,83.0"/>
<path d="M405.5,82.0 L405.1,82.8 L404.7,82.7 L405.2,83.9 L405.4,83.7 L405.2,84.7 L404.2,84.8 L404.3,84.2 L402.9,84.2 L402.9,84.5 L402.5,84.0"/>
<path d="M405.5,82.0 L405.8,82.1 L406.7,82.0 L406.6,82.5 L407.6,83.0 L407.5,83.4 L408.1,84.1 L406.9,84.3 L407.3,84.3 L406.4,85.3 L406.5,86.0"/>
<path d="M405.5,82.0 L405.7,81.8 L405.9,81.4 L405.2,80.9 L406.1,81.7 L406.3,80.8 L406.3,81.2 L407.2,80.6 L408.0,80.9 L408.8,81.2 L409.5,81.0"/>
<path d="M405.5,82.0 L405.7,81.5 L405.4,80.9 L405.8,80.4 L405.7,80.5 L406.0,78.8 L405.3,79.9 L404.9,79.5 L404.5,79.6 L404.7,79.3 L404.5,80.0"/>
<path d="M405.5,82.0 L406.1,81.9 L406.7,82.4 L407.0,82.3 L408.1,82.9 L408.1,83.0 L408.1,82.5 L407.6,82.3 L408.7,82.1 L408.8,81.9 L408.7,81.8 L408.9,83.1 L409.4,82.7 L410.3,83.9 L410.9,84.4 L411.4,85.3 L412.1,84.4 L413.1,84.6 L412.6,84.7 L413.8,84.3 L414.5,84.0"/>
<path d="M405.5,82.0 L405.6,81.6 L406.2,82.0 L406.5,81.7 L406.1,81.6 L407.4,81.3 L407.4,80.9 L408.1,80.5 L409.0,80.7 L408.8,80.1 L409.6,80.5 L409.3,79.5 L409.6,79.0 L409.8,78.4 L409.3,78.0 L409.6,76.2 L410.0,76.9 L411.1,77.8 L411.8,77.2 L411.8,77.6 L412.5,78.0"/>
<path d="M405.5,82.0 L405.1,82.2 L405.2,82.0 L404.8,81.3 L404.8,81.4 L405.1,81.8 L403.5,81.0 L403.1,81.2 L403.0,81.1 L402.2,81.0 L401.5,81.0"/>
<path d="M405.5,82.0 L405.5,82.6 L405.4,82.2 L405.5,82.3 L405.9,81.9 L405.1,81.9 L406.3,82.7 L406.3,83.0 L406.1,83.5 L407.1,83.7 L407.5,84.0"/>
<path d="M405.5,82.0 L406.2,82.1 L406.9,82.7 L407.1,83.0 L408.6,82.7 L409.3,83.4 L409.3,83.9 L409.7,83.4 L409.5,84.1 L410.2,83.6 L410.4,84.2 L410.6,84.1 L411.3,83.9 L411.4,84.0 L411.4,83.1 L410.9,84.1 L411.4,84.0 L413.3,82.8 L412.8,83.4 L412.8,82.4 L413.3,83.4 L413.7,83.4 L414.2,83.9 L414.7,85.1 L414.8,84.4 L415.5,85.5"/>
</g><g fill="none" stroke="#2a2a2a" stroke-width="0.45" stroke-linejoin="round">
<path d="M405.5,82.0 L405.0,82.3 L404.4,82.4 L404.2,82.9 L404.0,83.3 L403.6,83.8 L404.2,83.9"/>
<path d="M405.5,82.0 L405.0,81.7 L404.8,81.2 L404.3,80.9 L403.7,81.1 L403.6,81.5 L404.2,81.5 L404.1,81.0"/>
<path d="M405.5,82.0 L405.7,82.5 L405.5,82.9 L405.9,83.3"/>
<path d="M405.5,82.0 L405.1,81.6 L404.5,81.5 L404.0,81.3 L403.5,81.0 L403.6,81.5 L403.6,82.0 L404.1,82.3 L404.8,82.3"/>
<path d="M405.5,82.0 L405.5,81.5 L405.8,81.1 L406.1,80.7"/>
<path d="M405.5,82.0 L405.6,82.5 L405.1,82.8 L405.1,83.3"/>
<path d="M405.5,82.0 L404.9,81.8 L404.3,81.8 L403.7,81.5 L404.4,81.5 L404.4,81.0 L404.7,80.6"/>
<path d="M405.5,82.0 L405.4,81.5 L406.0,81.4 L406.4,81.0 L406.5,80.5 L407.0,80.2"/>
<path d="M405.5,82.0 L405.1,82.4 L405.7,82.6 L406.3,82.6 L406.6,83.1 L407.1,83.4 L407.6,83.6 L408.2,83.3 L408.6,83.7"/>
<path d="M405.5,82.0 L405.4,82.5 L405.7,82.9 L406.3,82.7"/>
<path d="M405.5,82.0 L405.9,81.6 L405.5,81.2"/>
<path d="M405.5,82.0 L404.9,82.0 L404.4,82.3"/>
<path d="M405.5,82.0 L404.9,82.2 L404.4,82.5 L404.6,83.0 L405.1,82.7 L405.7,82.6 L406.2,82.2"/>
<path d="M405.5,82.0 L406.1,81.9 L406.7,81.8 L407.3,81.6 L407.9,81.8 L408.4,82.1 L409.0,82.2 L409.4,81.8 L409.5,81.4"/>
</g><g fill="#111">
<circle cx="404.2" cy="83.9" r="1.1"/>
<circle cx="404.1" cy="81.0" r="1.1"/>
<circle cx="405.9" cy="83.3" r="1.1"/>
<circle cx="404.8" cy="82.3" r="1.1"/>
<circle cx="406.1" cy="80.7" r="1.1"/>
<circle cx="405.1" cy="83.3" r="1.1"/>
<circle cx="404.7" cy="80.6" r="1.1"/>
<circle cx="407.0" cy="80.2" r="1.1"/>
<circle cx="408.6" cy="83.7" r="1.1"/>
<circle cx="406.3" cy="82.7" r="1.1"/>
<circle cx="405.5" cy="81.2" r="1.1"/>
<circle cx="404.4" cy="82.3" r="1.1"/>
<circle cx="406.2" cy="82.2" r="1.1"/>
<circle cx="409.5" cy="81.4" r="1.1"/>
<circle cx="399.7" cy="75.8" r="1.1"/>
<circle cx="400.2" cy="79.2" r="1.1"/>
<circle cx="398.8" cy="82.6" r="1.1"/>
<circle cx="407.9" cy="76.8" r="1.1"/>
<circle cx="413.7" cy="79.7" r="1.1"/>
<circle cx="417.0" cy="82.4" r="1.1"/>
<circle cx="410.8" cy="85.0" r="1.1"/>
<circle cx="413.7" cy="86.6" r="1.1"/>
<circle cx="403.5" cy="78.0" r="1.1"/>
<circle cx="408.5" cy="79.0" r="1.1"/>
<circle cx="411.5" cy="83.0" r="1.1"/>
<circle cx="402.5" cy="84.0" r="1.1"/>
<circle cx="406.5" cy="86.0" r="1.1"/>
<circle cx="409.5" cy="81.0" r="1.1"/>
<circle cx="404.5" cy="80.0" r="1.1"/>
<circle cx="414.5" cy="84.0" r="1.1"/>
<circle cx="412.5" cy="78.0" r="1.1"/>
<circle cx="401.5" cy="81.0" r="1.1"/>
<circle cx="407.5" cy="84.0" r="1.1"/>
<circle cx="415.5" cy="85.5" r="1.1"/>
</g><path d="M401,84.5 L397,86 L393,86.6 L389.5,86.8 L388,87.5 L387.3,89" fill="none" stroke="#aaa" stroke-width="0.7"/><circle cx="387.2" cy="90.2" r="1.1" fill="#111"/></g>
<rect x="348.70" y="26.00" width="113.30" height="113.20" fill="none" stroke="#666" stroke-width="1.25"/>
<text x="364.50" y="149.80" font-size="8.6" text-anchor="middle" font-weight="normal" fill="#111">-100</text>
<text x="405.00" y="149.80" font-size="8.6" text-anchor="middle" font-weight="normal" fill="#111">0</text>
<text x="445.50" y="149.80" font-size="8.6" text-anchor="middle" font-weight="normal" fill="#111">100</text>
<g stroke="#f0f0f0" stroke-width="0.6"><line x1="257.35" y1="160.5" x2="257.35" y2="274"/><line x1="287.65" y1="160.5" x2="287.65" y2="274"/><line x1="216" y1="202.45" x2="329.5" y2="202.45"/><line x1="216" y1="232.75" x2="329.5" y2="232.75"/><line x1="242.20" y1="160.5" x2="242.20" y2="274"/><line x1="302.80" y1="160.5" x2="302.80" y2="274"/><line x1="216" y1="187.30" x2="329.5" y2="187.30"/><line x1="216" y1="247.90" x2="329.5" y2="247.90"/><line x1="227.05" y1="160.5" x2="227.05" y2="274"/><line x1="317.95" y1="160.5" x2="317.95" y2="274"/><line x1="216" y1="172.15" x2="329.5" y2="172.15"/><line x1="216" y1="263.05" x2="329.5" y2="263.05"/></g>
<line x1="272.50" y1="160.50" x2="272.50" y2="274.00" stroke="#acacac" stroke-width="1.2"/>
<line x1="216.00" y1="217.60" x2="329.50" y2="217.60" stroke="#acacac" stroke-width="1.2"/>
<g clip-path="url(#cwt2)"><g fill="none" stroke="#777" stroke-width="0.5" stroke-linejoin="round">
<path d="M272.5,217.6 L274.6,216.5 L276.6,213.4 L278.4,213.2 L280.9,210.3 L283.2,209.2 L283.5,207.8 L286.6,207.1 L288.9,206.5 L291.0,203.7 L292.5,202.7 L294.1,201.5 L294.7,201.2 L295.4,200.4 L296.2,198.9 L296.4,197.0 L298.2,196.5 L299.0,194.8 L299.0,193.8 L300.4,193.6 L299.5,191.2 L302.2,190.9 L303.8,189.9 L304.0,189.6 L304.9,188.6 L306.9,188.3 L305.8,185.8 L306.9,184.6 L305.3,182.7 L305.4,182.4 L305.1,180.1 L304.9,179.2 L303.5,178.5 L302.9,178.1 L303.1,175.7 L302.7,175.5 L301.0,174.7 L301.9,172.7 L303.4,172.2 L303.4,171.3 L303.7,169.3 L304.7,168.8 L303.8,166.9 L303.6,165.6 L303.4,165.2 L302.5,163.4"/>
<path d="M272.5,217.6 L273.6,217.9 L277.4,220.0 L279.3,221.3 L281.1,222.0 L283.9,224.7 L285.3,225.6 L287.4,226.6 L290.7,228.8 L291.6,230.2 L294.2,231.9 L293.7,232.9 L293.5,234.1 L293.4,235.3 L293.6,238.5 L293.2,240.4 L290.3,240.8 L290.5,242.8 L289.0,243.4 L287.8,244.6 L286.4,246.1 L285.0,247.2 L284.2,248.2 L282.1,249.8 L281.9,249.8 L280.4,251.8 L279.7,253.6 L277.8,253.7 L276.5,254.5 L276.0,256.8 L274.6,257.5 L276.5,258.8 L275.0,259.3 L275.7,261.9 L274.8,262.5 L275.0,264.7 L276.5,262.9 L277.6,264.1 L279.0,262.9 L281.4,263.9 L282.7,262.8 L284.2,264.7 L286.4,264.9 L287.7,264.0 L289.4,265.3 L292.0,266.0 L294.3,266.5 L297.0,265.7 L299.0,267.3 L301.4,268.5 L302.5,269.0"/>
<path d="M282.5,221.6 L284.0,221.1 L286.8,220.8 L288.4,220.6 L289.4,220.4 L292.7,219.6 L293.9,221.5 L297.2,221.8 L298.4,222.1 L300.6,222.3 L301.3,224.3 L303.7,224.9 L305.3,227.7 L306.8,227.4 L307.3,230.5 L308.4,232.5 L309.2,233.9 L309.1,234.9 L311.0,237.5 L311.2,238.7 L313.4,242.0 L311.5,242.1 L309.6,243.4 L307.4,243.9 L305.5,244.8 L305.1,246.0 L303.3,244.7 L301.8,244.5 L299.3,243.6 L298.9,241.7 L296.5,241.6"/>
<path d="M277.5,212.6 L279.2,211.4 L280.4,211.1 L282.7,210.0 L285.4,210.1 L287.4,210.0 L287.8,209.8 L291.7,208.7 L292.7,206.9 L295.4,209.0 L296.3,208.3 L297.9,208.5 L300.8,210.2 L301.6,210.4 L303.1,210.6 L304.0,210.9 L305.2,211.0 L307.0,213.7 L308.7,214.2 L310.1,214.7 L310.9,215.7 L309.7,217.5 L310.3,218.8 L309.4,220.3 L308.8,221.5 L308.5,223.6"/>
<path d="M266.5,223.6 L265.4,224.9 L263.4,226.1 L262.2,227.4 L259.5,227.3 L259.4,229.6 L256.4,230.3 L255.3,231.5 L252.8,233.2 L252.9,234.6 L250.5,234.7 L249.7,236.6 L248.4,238.4 L245.8,239.8 L246.4,242.0 L242.9,242.4 L243.1,243.5 L242.7,245.5 L241.0,246.6 L239.5,246.1 L238.5,248.8"/>
<path d="M262.5,217.6 L261.5,218.9 L259.1,219.0 L256.5,220.3 L254.9,220.5 L252.3,221.8 L251.4,221.6 L249.2,223.8 L248.5,224.7 L245.4,224.5 L244.9,225.6 L243.3,225.8 L243.2,226.8 L241.1,227.7 L240.1,228.0 L239.0,228.7 L238.3,230.5 L236.1,230.8 L235.2,232.2 L233.3,233.2 L232.3,233.4 L233.0,234.1 L234.1,233.9 L235.3,234.7 L236.2,235.0 L237.5,235.6"/>
<path d="M264.5,213.6 L262.3,213.3 L261.1,212.8 L260.0,212.7 L257.8,211.6 L256.9,211.9 L254.2,210.2 L254.0,209.7 L251.9,209.0 L250.4,207.8 L248.4,209.0 L246.2,206.5 L245.7,206.1 L245.8,205.3 L243.4,203.5 L242.6,203.8 L242.8,204.6 L241.7,206.7 L241.2,206.4 L241.7,209.4 L240.2,209.0 L241.7,209.5 L241.8,210.7 L242.2,210.9 L243.3,211.8 L244.5,213.6"/>
<path d="M268.5,227.6 L267.5,229.3 L265.1,229.8 L264.2,231.7 L261.3,232.7 L260.4,233.1 L259.2,233.9 L257.4,235.4 L255.5,234.9 L253.2,237.3 L251.3,236.9 L252.2,238.5 L251.2,238.5 L248.3,237.7 L248.1,239.2 L246.5,238.6"/>
<path d="M276.5,227.6 L277.8,229.3 L278.7,231.1 L278.3,232.2 L280.2,233.7 L280.2,235.7 L281.3,236.4 L282.2,238.0 L282.6,240.4 L284.2,240.5 L283.9,241.3 L285.6,243.2 L286.0,242.5 L286.3,244.6 L287.5,246.7 L288.5,247.6"/>
<path d="M272.5,207.6 L273.5,206.9 L272.8,204.5 L272.5,202.8 L272.7,200.9 L273.3,200.8 L272.5,198.9 L272.1,196.7 L271.5,194.9 L272.6,192.1 L271.5,191.6"/>
</g><g fill="none" stroke="#2a2a2a" stroke-width="0.45" stroke-linejoin="round">
<path d="M272.5,217.6 L271.9,218.1 L271.2,218.2 L270.5,218.6 L270.5,219.3 L270.7,220.0 L270.3,220.7 L269.7,221.1 L269.1,221.5 L268.8,222.2 L268.6,222.9 L268.2,223.6 L267.7,224.1 L267.3,224.8 L266.7,225.2 L266.0,225.6"/>
<path d="M272.5,217.6 L272.6,218.3 L273.2,218.9 L273.4,219.6 L273.9,220.2 L274.5,220.8 L274.9,221.5 L275.3,222.1 L276.1,222.5 L276.7,223.0 L277.6,223.1 L278.3,222.5 L278.1,221.8 L277.4,221.5 L277.1,220.8 L276.7,220.2 L276.5,219.4 L275.9,218.9 L275.3,218.4 L274.6,218.1 L273.8,217.9 L273.2,217.5 L272.5,217.1 L272.0,216.5 L271.2,216.8 L270.5,216.9 L269.7,217.0 L269.2,216.4 L269.3,215.7 L269.9,215.0 L270.0,214.3 L269.8,213.5 L269.4,212.9 L269.2,212.1 L268.5,211.9 L268.0,211.3"/>
<path d="M272.5,217.6 L272.4,216.8 L272.2,216.1 L271.6,215.6 L271.0,215.2 L270.2,214.9 L269.5,214.6 L268.9,214.1 L269.7,213.6 L270.6,213.7 L271.5,213.8 L271.9,214.4 L272.1,215.2 L272.5,215.9 L273.3,216.2 L273.6,216.8 L273.7,217.6 L274.0,218.3 L274.5,218.9 L274.3,219.7 L275.0,220.1 L275.4,220.8"/>
<path d="M272.5,217.6 L272.8,216.9 L272.2,216.3 L271.5,216.0 L270.8,215.8 L270.3,215.2 L270.0,214.4 L270.5,213.8 L270.0,213.2 L270.1,212.4 L271.0,212.5 L271.6,211.9 L271.5,211.1 L271.6,210.3 L271.3,209.6 L271.4,208.9 L271.8,208.1 L271.8,207.4 L271.7,206.6 L271.8,205.8"/>
<path d="M272.5,217.6 L272.9,218.3 L272.8,219.0 L272.7,219.7 L272.5,220.4 L272.3,221.1 L272.5,221.9 L272.4,222.6 L272.5,223.3 L273.0,224.0 L273.6,224.5 L274.3,224.1 L275.1,224.4 L275.9,224.7"/>
<path d="M272.5,217.6 L273.0,218.2 L272.8,218.9 L272.5,219.6 L272.5,220.3 L272.5,221.0 L273.0,221.7 L272.8,222.4 L273.0,223.1 L272.8,223.8 L272.2,224.2 L271.7,224.8 L271.5,225.5 L270.9,226.0 L270.2,226.2 L269.4,226.4 L268.7,226.5 L267.9,226.6 L267.2,226.3"/>
<path d="M272.5,217.6 L272.0,217.1 L272.0,216.3 L272.6,215.8 L273.5,215.5 L274.4,215.4 L274.7,216.1 L275.6,216.3 L276.4,216.4 L277.3,216.5 L278.2,216.5 L279.1,216.4 L279.7,215.9"/>
<path d="M272.5,217.6 L273.2,218.1 L273.7,218.7 L274.1,219.4 L274.1,220.1 L273.9,220.8 L273.5,221.4 L273.0,222.0 L272.7,222.7 L272.7,223.4 L272.1,223.9 L272.0,224.6 L271.8,225.3 L271.6,226.0 L271.1,226.6 L270.4,226.4"/>
<path d="M272.5,217.6 L273.2,218.0 L273.9,218.5 L274.8,218.2 L275.5,217.7 L275.9,217.0 L275.6,216.3 L275.3,215.6 L274.5,215.4 L273.8,215.1 L273.0,215.0 L272.3,214.6 L271.6,214.4 L270.8,214.6 L270.0,214.5 L269.5,213.9 L269.0,213.3 L268.4,212.9 L267.8,212.4 L267.6,211.6 L267.8,210.8 L268.0,210.1 L268.9,210.3 L269.6,210.7 L270.5,210.5 L271.3,210.8 L272.0,211.3 L272.8,211.0 L273.4,210.4 L273.6,209.6 L273.9,208.9"/>
<path d="M272.5,217.6 L273.4,217.5 L274.2,217.2 L274.5,216.5 L274.4,215.7 L274.3,215.0 L274.6,214.3 L275.1,213.6 L275.6,213.0 L276.3,212.5 L277.2,212.4 L278.0,212.8 L278.7,213.2 L279.3,213.8 L280.0,214.3 L280.9,214.3 L281.7,214.2 L282.6,214.1 L283.1,213.4 L283.2,212.6"/>
<path d="M272.5,217.6 L273.2,217.2 L274.1,217.1 L274.9,216.7 L275.7,217.0 L275.7,217.8 L276.1,218.4 L276.8,218.9 L276.8,219.6 L276.8,220.3 L277.5,220.9 L277.6,221.6 L277.2,222.2 L276.4,222.4 L275.7,222.1 L275.6,221.4 L275.7,220.6 L276.4,220.1 L277.1,219.7 L276.8,219.0 L277.0,218.2 L276.8,217.5 L276.1,217.1"/>
<path d="M272.5,217.6 L272.7,218.3 L272.8,219.1 L273.3,219.7 L273.5,220.4 L274.0,221.1 L274.2,221.8 L274.4,222.5 L274.2,223.2 L275.0,223.6 L275.7,224.0 L276.0,224.7 L276.9,224.7 L277.5,224.1 L278.1,223.6 L279.0,223.3 L279.9,223.3 L280.6,222.8 L281.3,222.4 L282.2,222.4 L283.0,222.0 L283.8,221.7 L284.6,221.4 L284.7,220.6 L284.4,219.9 L283.6,219.6 L282.8,219.5 L282.2,220.0 L281.6,220.4 L281.3,221.1 L281.5,221.8 L281.6,222.5 L281.0,223.1 L280.7,223.7 L280.3,224.3 L280.2,225.1"/>
<path d="M272.5,217.6 L272.0,217.0 L271.3,217.4 L271.4,218.1 L271.7,218.9 L272.5,219.1 L273.2,219.7 L274.1,219.7 L274.9,219.7 L275.6,219.2 L276.1,218.5 L276.7,217.9 L277.5,217.6 L277.9,216.9 L278.2,216.1 L278.2,215.4 L277.9,214.7 L278.6,214.1 L279.1,213.5 L279.7,212.9 L280.1,212.2 L280.3,211.4"/>
<path d="M272.5,217.6 L273.1,218.1 L273.9,218.5 L274.8,218.4 L275.6,218.7 L276.4,219.1 L277.3,219.2 L277.6,219.9 L278.5,219.9 L279.2,220.4 L280.0,220.3 L280.9,220.2 L281.2,219.4 L280.9,218.7 L280.7,218.0 L281.3,217.4 L281.8,216.7 L282.2,216.0 L282.3,215.2 L282.9,214.7 L283.8,214.5 L284.6,214.6 L285.5,214.6 L286.3,215.0 L287.0,215.5"/>
<path d="M272.5,217.6 L272.4,218.3 L272.4,219.1 L272.3,219.8 L272.7,220.5 L273.3,221.0 L273.9,221.6 L274.1,222.3 L274.3,223.0 L274.7,223.7 L275.5,224.0 L276.4,224.2 L277.1,224.7 L277.2,225.4 L277.5,226.2 L277.9,226.8 L278.8,227.1 L279.4,227.6 L279.6,228.3 L280.1,228.9"/>
<path d="M272.5,217.6 L272.2,218.3 L272.3,219.0 L272.5,219.7 L272.8,220.5 L272.8,221.2 L273.2,221.9 L273.4,222.6 L273.4,223.3 L273.3,224.0 L272.6,224.5 L272.4,225.2 L273.0,225.8 L273.8,226.1 L273.8,226.8 L273.7,227.5 L273.2,228.1 L272.9,228.8 L272.2,228.7 L272.1,227.9 L272.2,227.2 L271.9,226.5 L271.6,225.8 L270.8,225.8 L270.1,225.5 L269.4,225.3 L268.7,224.9 L268.2,224.3 L267.5,224.1 L267.1,223.4"/>
<path d="M272.5,217.6 L273.3,217.3 L273.8,216.6 L274.4,216.1 L274.9,215.4 L275.6,214.9 L275.6,214.1 L275.7,213.3 L275.7,212.6 L276.4,212.1 L276.8,211.4 L277.4,210.8 L277.7,210.1 L277.7,209.3 L277.5,208.6 L276.9,208.2 L276.1,207.9 L275.6,207.3 L275.1,206.8 L274.5,206.3 L274.3,205.5 L273.9,204.9 L273.1,204.8 L272.4,204.8 L271.6,204.9 L270.9,205.1 L270.5,205.8 L269.9,206.3"/>
<path d="M272.5,217.6 L271.8,217.9 L271.2,218.4 L270.4,218.3 L269.7,218.6 L269.0,218.9 L268.3,218.5 L267.8,218.0 L267.5,217.2 L267.6,216.5 L267.6,215.7 L267.9,215.0 L268.2,214.2 L268.9,213.8 L269.7,213.4 L269.8,212.7 L269.7,211.9 L270.2,211.3 L271.1,211.1 L271.9,210.9 L272.6,211.4 L273.5,211.5 L274.4,211.6 L275.2,211.7 L276.1,211.9 L276.8,212.3 L277.1,213.0 L276.3,213.0 L275.9,212.3 L275.4,211.8 L274.7,211.5 L274.0,211.1 L274.0,210.3 L274.3,209.6"/>
<path d="M272.5,217.6 L273.0,218.2 L272.9,219.0 L272.8,219.7 L272.2,220.2 L272.0,220.9 L271.4,221.3 L270.6,221.3 L270.0,221.8 L269.2,221.7 L268.5,221.4 L267.7,221.3 L266.9,221.4 L266.5,220.8 L265.8,220.4 L265.2,219.9 L264.5,219.9 L264.1,219.2 L263.4,218.8 L262.7,218.5 L262.0,218.1"/>
<path d="M272.5,217.6 L272.7,216.8 L273.0,216.1 L273.7,215.6 L274.3,215.0 L274.6,214.3 L275.5,214.1 L276.3,213.8 L277.1,213.5 L277.3,212.7 L277.9,212.1 L277.8,211.3 L278.0,210.5 L278.0,209.8 L277.8,209.0 L277.5,208.3 L277.4,207.6 L277.7,206.8 L277.4,206.2 L276.6,206.0 L275.8,205.8 L275.1,205.5 L274.4,205.2 L274.2,204.4 L274.6,203.7 L274.7,202.9 L274.4,202.2 L274.3,201.5 L274.5,200.7 L275.2,200.3 L276.1,200.0 L276.8,199.5"/>
<path d="M272.5,217.6 L271.7,217.7 L271.0,218.0 L270.3,218.3 L270.4,219.1 L271.1,219.5 L271.8,220.0 L272.3,220.6 L272.8,221.2 L272.9,221.9 L272.6,222.6 L272.8,223.3 L273.3,223.9 L274.1,224.3 L274.9,223.9 L275.7,223.8 L276.4,223.3 L277.1,222.8 L277.7,222.2 L278.2,221.5 L278.4,220.8 L279.2,220.4 L280.0,220.6 L280.9,220.8 L281.8,220.7 L282.6,220.9 L283.5,221.1 L283.9,221.8 L284.6,222.2 L285.5,222.4 L286.2,222.0"/>
<path d="M272.5,217.6 L273.3,217.2 L273.5,216.4 L273.4,215.7 L273.1,214.9 L273.7,214.3 L274.5,213.9 L275.3,214.2 L276.0,214.6 L276.9,214.6 L277.8,214.6 L278.6,215.0 L279.3,214.5 L280.1,214.5 L280.8,213.9 L280.9,213.2 L280.9,212.4 L280.3,211.9 L280.1,211.2 L280.2,210.4 L280.5,209.6 L280.6,208.9 L280.8,208.1 L280.2,207.6 L279.8,207.0"/>
<path d="M272.5,217.6 L271.8,217.9 L271.4,218.5 L270.7,218.9 L269.9,218.7 L269.6,218.0 L268.9,217.7 L268.1,217.7 L267.3,217.9 L266.7,218.3 L266.3,218.9 L266.1,219.6 L265.3,219.8 L264.7,220.2 L264.3,220.8 L264.4,221.6 L265.0,222.2 L265.2,222.9 L265.6,223.6 L265.3,224.2 L265.7,224.9 L265.4,225.6 L265.5,226.3 L265.2,227.0 L264.5,227.4 L263.8,227.5 L263.0,227.4 L262.2,227.4 L261.7,228.0 L261.0,228.4"/>
<path d="M272.5,217.6 L273.4,217.6 L274.2,217.9 L275.1,218.0 L275.9,217.9 L276.8,217.7 L277.5,217.2 L278.4,217.0 L279.2,217.0 L280.1,217.2 L280.7,217.7 L281.0,218.4 L281.3,219.1 L281.0,219.8 L280.4,220.3 L280.0,220.9 L279.3,221.0"/>
<path d="M272.5,217.6 L271.9,217.1 L271.8,216.3 L271.1,216.1 L270.3,216.1 L269.5,215.8 L269.0,215.3 L269.2,214.5 L269.8,214.0 L270.5,214.4 L271.4,214.6 L272.1,215.1 L273.0,215.1 L273.9,215.2 L274.1,215.9 L275.0,216.0 L275.9,215.9 L276.6,215.4 L277.4,215.2 L278.3,215.2 L279.2,215.3 L279.8,214.6 L280.6,214.5 L281.4,214.8 L282.3,215.0 L282.5,215.7 L283.3,216.0 L283.7,216.7 L284.5,217.0"/>
<path d="M272.5,217.6 L271.7,217.6 L271.2,218.1 L270.6,218.6 L269.8,218.5 L269.1,218.7 L268.3,218.8 L267.6,219.1 L266.9,219.3 L266.2,219.6 L265.6,220.0 L265.0,220.5 L264.2,220.3 L263.4,220.3 L262.9,220.8 L262.6,221.5 L262.7,222.2 L263.2,222.9 L263.5,223.6 L264.3,224.0 L264.9,224.5 L265.1,225.2 L264.8,225.9 L264.9,226.6 L265.3,227.2 L266.0,227.7 L266.5,228.4 L266.1,229.0 L266.0,229.7"/>
<path d="M272.5,217.6 L272.3,216.9 L272.3,216.1 L273.1,215.8 L273.8,215.2 L274.1,214.5 L274.0,213.7 L274.1,212.9 L274.7,212.4 L275.6,212.4 L276.5,212.5 L277.1,212.0 L277.3,211.2 L277.5,210.5 L277.5,209.7 L277.2,209.0 L276.7,208.4 L276.3,207.8 L275.7,207.3 L275.4,206.6 L275.6,205.8 L276.0,205.2 L276.0,204.4 L276.6,203.9 L277.4,203.5 L278.3,203.3 L279.1,203.1 L280.0,203.0"/>
<path d="M272.5,217.6 L272.3,216.9 L271.7,216.3 L271.8,215.6 L271.4,214.9 L270.7,214.6 L270.4,213.9 L270.2,213.2 L270.3,212.4 L270.6,211.7 L270.6,210.9 L271.3,210.5 L271.7,209.8 L272.0,209.0 L272.2,208.3 L271.5,207.9 L271.0,207.3 L271.2,206.6 L271.1,205.8 L271.0,205.0 L271.2,204.3 L272.1,204.2 L272.6,204.8 L273.5,204.8 L274.0,205.4 L274.9,205.5 L275.7,205.2 L276.2,205.8 L276.8,206.4 L277.6,206.7 L278.5,206.6 L279.0,205.9 L279.0,205.2 L278.9,204.4 L279.0,203.6"/>
<path d="M272.5,217.6 L273.3,217.3 L274.2,217.5 L274.6,216.9 L274.7,216.1 L274.2,215.5 L273.8,214.8 L273.8,214.1 L274.1,213.3 L274.6,212.7 L275.4,212.3 L276.2,212.6 L277.1,212.7 L278.0,212.6 L278.7,212.1 L279.5,211.7 L280.3,211.5 L280.5,210.7 L280.2,210.0 L279.7,209.4"/>
<path d="M272.5,217.6 L272.1,217.0 L272.0,216.2 L271.5,215.6 L270.7,215.4 L270.0,215.5 L269.3,215.9 L268.6,216.2 L268.0,216.7 L267.7,217.3 L267.1,217.9 L266.9,218.6 L267.1,219.3 L266.6,219.9 L265.8,219.8 L265.0,219.9 L264.3,219.8 L263.6,219.3 L263.5,218.6 L263.9,217.9"/>
<path d="M272.5,217.6 L271.9,218.1 L271.2,217.8 L270.5,217.4 L269.8,217.8 L269.5,218.4 L269.1,219.1 L269.0,219.8 L268.7,220.5 L268.3,221.1 L267.7,221.5 L267.1,222.0 L266.3,221.9 L265.6,221.6 L264.9,221.2 L264.3,220.7 L263.7,221.1 L262.9,221.1 L262.2,220.7 L261.5,220.5 L260.7,220.6 L260.0,220.9 L259.3,221.2 L258.6,220.8 L258.0,220.3"/>
<path d="M272.5,217.6 L272.4,218.3 L272.1,219.0 L271.9,219.7 L272.2,220.4 L271.8,221.1 L271.8,221.8 L271.6,222.5 L271.1,223.1 L270.5,223.5 L269.7,223.6 L269.1,223.9 L268.4,224.3 L267.7,224.6 L267.1,225.0 L266.3,224.7 L266.7,224.0 L266.4,223.3 L266.4,222.5 L266.1,221.8 L266.2,221.1 L267.0,220.7 L267.9,220.9 L268.7,220.7 L269.5,220.3"/>
<path d="M272.5,217.6 L272.2,216.9 L271.9,216.2 L272.1,215.4 L273.0,215.4 L273.9,215.3 L274.7,215.0 L275.5,215.0 L276.1,214.4 L276.6,213.8 L276.3,213.1 L275.8,212.5 L275.0,212.5 L274.2,212.3 L273.9,211.6 L273.1,211.8 L272.7,212.4 L272.6,213.1 L272.1,213.7 L271.9,214.4 L271.3,214.9"/>
<path d="M272.5,217.6 L271.8,217.3 L271.3,216.7 L270.7,216.2 L270.0,215.8 L269.3,215.7 L268.6,216.0 L267.8,216.1 L267.1,215.8 L267.2,215.0 L266.7,214.5 L266.5,213.7 L265.8,213.3 L265.1,213.1 L264.4,213.3 L263.7,213.7 L263.1,214.2"/>
<path d="M272.5,217.6 L273.4,217.5 L274.1,217.0 L274.9,217.3 L275.6,217.7 L276.2,218.3 L276.8,218.9 L277.3,219.5 L277.3,220.2 L277.4,221.0 L276.6,220.9 L275.9,220.6 L275.3,220.1 L274.9,219.5 L274.2,219.1 L273.5,218.7 L272.8,218.4 L272.4,217.8 L271.7,217.4 L271.0,217.3 L270.6,216.6"/>
<path d="M272.5,217.6 L272.2,218.3 L272.3,219.0 L273.1,219.4 L274.0,219.5 L274.8,219.7 L275.5,220.2 L275.8,220.9 L276.2,221.5 L276.7,222.2 L276.8,222.9 L277.1,223.6 L276.4,224.0 L275.8,224.4 L275.0,224.4 L274.4,223.9 L273.7,224.2 L273.2,224.7 L272.5,225.1 L271.8,224.9 L271.1,225.4 L270.6,225.9 L269.8,226.0 L269.6,225.3 L269.0,224.7 L268.3,224.5 L267.5,224.4 L266.9,223.9 L267.2,223.1 L267.0,222.4 L266.9,221.6 L266.6,221.0 L267.3,220.6 L268.2,220.3"/>
<path d="M272.5,217.6 L273.0,218.2 L273.8,218.6 L274.7,218.5 L275.5,218.2 L276.3,217.9 L277.2,218.1 L277.8,218.6 L278.7,218.7 L279.6,218.8 L279.7,219.6 L279.8,220.3 L280.0,221.0 L279.9,221.8 L279.9,222.5 L279.5,223.1 L280.2,223.6 L280.8,224.2 L280.8,224.9"/>
<path d="M272.5,217.6 L272.4,216.8 L272.2,216.1 L271.8,215.5 L271.3,214.8 L271.0,214.1 L271.3,213.4 L271.9,212.8 L272.5,212.2 L273.4,212.2 L274.2,211.9 L275.0,211.7 L275.6,211.1 L275.8,210.3 L276.3,209.6 L275.5,209.4 L274.8,209.8 L274.1,209.9"/>
<path d="M272.5,217.6 L273.0,217.0 L273.5,216.3 L274.2,215.8 L274.6,215.1 L275.5,214.9 L276.3,214.6 L276.7,213.9 L277.0,213.1 L276.4,212.6 L275.7,212.8 L275.0,212.5 L274.4,212.0 L274.0,211.4 L273.2,211.2 L272.5,210.9 L272.7,210.1 L273.3,209.5 L273.9,209.0 L274.7,208.5 L275.5,208.2 L276.3,207.8 L277.2,207.9 L278.0,208.0 L278.8,208.3 L279.5,208.8 L280.0,209.4 L280.8,209.7 L281.6,210.0 L282.5,210.0 L283.3,210.4 L283.3,211.2 L283.2,211.9"/>
<path d="M272.5,217.6 L272.8,216.9 L273.6,216.6 L274.5,216.3 L275.3,216.4 L275.7,217.0 L276.3,217.6 L276.8,218.2 L277.6,218.4 L278.1,219.1 L277.8,219.8 L277.6,220.5 L278.1,221.1 L278.7,221.7 L279.4,222.1 L279.6,222.8 L279.8,223.6 L279.3,224.1 L278.6,223.9 L277.8,224.0 L277.2,224.5 L276.5,224.8 L275.8,225.0 L275.2,225.5 L274.5,225.8 L273.8,226.1 L273.2,226.6 L272.4,226.7 L271.8,226.2 L271.0,225.9 L270.6,226.6 L270.0,227.0 L269.3,227.3 L269.3,228.1 L269.0,228.7 L268.3,229.1"/>
<path d="M272.5,217.6 L271.7,217.7 L271.4,217.0 L270.7,216.7 L270.1,216.2 L269.3,216.2 L268.6,216.3 L268.4,217.1 L268.6,217.8 L269.5,218.0 L270.2,218.5 L271.1,218.5 L271.9,218.2 L272.8,218.3 L273.4,218.8 L273.9,219.5"/>
<path d="M272.5,217.6 L272.0,217.0 L271.9,216.2 L271.7,215.5 L271.4,214.8 L271.7,214.0 L272.3,213.5 L272.8,212.8 L273.5,212.4 L274.4,212.1 L275.2,212.3 L275.4,213.1 L275.5,213.8 L275.0,214.4 L274.5,214.9 L273.9,215.4 L273.2,215.7 L272.7,216.2 L272.0,216.5 L271.6,217.1 L271.4,217.8 L272.2,218.1 L272.8,218.6 L273.0,219.4 L273.4,220.0 L274.1,220.5"/>
<path d="M272.5,217.6 L272.7,216.8 L273.5,216.5 L274.2,216.0 L274.6,215.3 L274.9,214.6 L275.1,213.8 L275.8,213.3 L276.2,212.6 L275.9,211.9 L276.3,211.2 L276.4,210.4 L277.2,210.1"/>
<path d="M272.5,217.6 L273.4,217.6 L274.2,217.4 L275.0,217.8 L275.2,218.5 L275.4,219.2 L275.5,219.9 L275.8,220.7 L276.5,221.0 L276.9,221.7 L277.3,222.4 L276.8,223.0 L276.4,222.3 L276.4,221.5 L277.3,221.6 L278.2,221.5 L278.9,221.0 L279.4,220.4 L280.3,220.4 L281.1,220.7 L281.1,221.5 L281.1,222.2 L280.5,222.7 L280.5,223.5 L280.6,224.2"/>
<path d="M272.5,217.6 L271.7,217.7 L271.2,218.2 L270.6,218.7 L270.6,219.4 L271.1,220.1 L271.8,220.4 L272.7,220.2 L273.4,219.7 L274.0,219.1 L274.8,218.8 L275.4,219.3 L276.2,219.4"/>
<path d="M272.5,217.6 L272.2,218.3 L272.0,219.0 L271.8,219.7 L272.4,220.2 L273.3,220.3 L273.8,220.9 L274.4,221.5 L275.2,221.7 L276.0,221.4 L276.7,220.9 L277.5,220.6 L278.2,220.1 L279.0,220.4 L279.9,220.2 L280.7,220.0 L281.6,220.0 L282.4,220.4 L283.2,220.7 L283.7,221.2 L283.8,222.0 L283.5,222.6"/>
<path d="M272.5,217.6 L273.0,218.2 L273.6,218.8 L274.0,219.5 L274.6,219.9 L275.3,220.5 L275.6,221.2 L275.3,221.9 L275.0,222.5 L274.4,223.0 L274.4,223.8 L273.6,223.7 L273.0,224.2 L273.1,224.9 L273.8,225.4 L274.2,226.0 L274.2,226.8 L274.9,227.3 L275.7,227.6 L276.5,227.8 L277.2,228.3 L277.7,228.9 L277.7,229.6 L278.4,230.1 L279.3,230.0 L280.2,230.2 L281.0,229.9 L281.8,229.6 L282.4,230.1 L283.3,230.4 L283.8,231.0 L284.5,231.4 L285.1,232.0 L285.1,232.8 L285.0,233.5 L285.4,234.2"/>
<path d="M272.5,217.6 L272.3,218.3 L271.8,218.9 L271.7,219.6 L272.0,220.3 L272.5,220.9 L273.2,221.4 L274.0,221.2 L274.4,220.4 L274.0,219.8 L274.0,219.0 L274.3,218.3 L274.3,217.5 L273.9,216.9 L273.7,216.1 L273.6,215.4 L273.1,214.8 L272.7,214.1 L272.6,213.4 L272.4,212.7 L272.4,211.9 L272.1,211.2 L271.8,210.5 L271.5,209.8 L271.7,209.0 L271.5,208.3 L271.6,207.5 L271.7,206.8"/>
<path d="M272.5,217.6 L273.4,217.5 L274.0,216.9 L274.6,216.3 L275.5,216.2 L276.3,216.6 L277.1,216.6 L278.0,216.8 L278.8,216.4 L279.4,215.8 L279.4,215.1 L280.1,214.6 L280.9,214.2 L281.2,213.4 L282.0,213.0 L282.5,212.4 L283.1,211.8 L283.1,211.0 L283.4,210.3 L283.9,209.6 L284.1,208.9 L283.4,208.6 L283.1,207.9 L282.7,207.2"/>
<path d="M272.5,217.6 L273.1,217.0 L274.0,216.8 L274.8,217.1 L275.6,217.4 L276.4,217.6 L277.3,217.5 L278.1,217.4 L278.8,216.8 L279.3,216.2 L279.1,215.5 L278.5,215.0 L278.5,214.2 L278.6,213.5 L278.4,212.7"/>
<path d="M272.5,217.6 L272.6,218.3 L272.3,219.0 L271.8,219.5 L271.0,219.7 L270.6,220.3 L271.2,220.8 L271.4,221.6 L272.3,221.5 L272.9,222.0 L273.6,222.4 L274.4,222.8 L275.2,223.0 L275.9,223.5 L276.1,224.3 L276.2,225.0 L276.8,225.5 L277.4,226.1"/>
<path d="M272.5,217.6 L272.1,217.0 L272.1,216.2 L271.5,215.8 L270.8,216.2 L270.1,216.1 L269.4,216.5 L268.7,216.2 L268.3,215.5 L268.0,214.9 L267.6,214.2 L268.1,213.5 L268.9,213.1 L269.7,213.4 L270.6,213.2 L271.4,213.5"/>
<path d="M272.5,217.6 L272.5,216.8 L273.4,216.7 L274.3,216.6 L274.9,217.2 L275.2,217.9 L275.6,218.5 L276.4,218.9 L276.8,219.6 L277.1,220.3 L277.9,220.4 L278.8,220.4 L279.6,220.0 L280.0,219.3 L280.0,218.5 L280.0,217.8 L280.1,217.0 L279.7,216.3 L280.5,216.0 L281.4,216.0 L282.3,215.7"/>
<path d="M272.5,217.6 L272.1,216.9 L272.1,216.2 L272.8,215.6 L273.3,215.0 L273.9,214.4 L274.4,213.7 L275.2,213.9 L276.0,214.3 L276.3,215.0 L277.1,215.5 L277.9,215.6 L278.8,215.4 L279.5,214.9 L279.8,214.2 L280.0,213.4 L280.5,212.8 L281.0,212.1 L281.4,211.4 L281.7,210.7 L281.7,209.9 L281.6,209.2 L281.5,208.4 L281.3,207.7 L281.3,206.9 L281.8,206.2 L282.5,205.8 L283.4,205.5 L283.5,204.8 L283.8,204.0 L284.5,203.5 L284.9,202.8 L285.1,202.0 L285.4,201.3"/>
<path d="M272.5,217.6 L271.7,217.6 L271.0,217.5 L270.3,217.1 L269.6,216.7 L269.0,216.2 L268.2,216.2 L267.4,216.2 L266.7,216.4 L265.9,216.5 L265.2,216.1 L264.5,215.7 L264.2,215.0 L263.6,214.5 L263.1,213.9 L263.1,213.1 L263.1,212.4 L263.1,211.6 L263.3,210.8 L264.0,210.3 L264.7,209.9 L265.6,209.7 L266.5,209.7 L266.4,210.5 L265.9,211.0 L266.5,211.6 L267.4,211.6 L268.1,211.1 L268.8,210.7 L269.2,210.0 L269.3,209.2 L269.4,208.4 L269.5,207.7"/>
<path d="M272.5,217.6 L273.1,218.1 L274.0,218.3 L274.9,218.3 L275.8,218.2 L276.6,218.4 L277.4,218.7 L278.0,219.2 L278.2,220.0 L278.5,220.7 L279.4,220.6 L279.8,219.9 L280.1,219.2 L280.7,218.5 L280.2,217.9 L280.2,217.2 L280.5,216.4 L280.6,215.6 L279.9,215.3 L279.2,215.6 L278.6,215.1 L278.9,214.4 L279.6,214.0 L279.9,213.2 L280.6,212.7 L281.5,212.5 L282.0,211.8 L282.8,211.6 L283.1,210.8 L284.0,210.7 L284.8,210.9"/>
<path d="M272.5,217.6 L272.7,218.3 L273.3,218.9 L274.1,219.2 L275.0,219.2 L275.9,219.1 L276.6,218.7 L277.3,218.2 L278.1,217.9 L278.2,217.1 L278.8,216.5 L279.3,215.9 L280.1,215.5 L281.0,215.3 L281.5,214.6 L282.4,214.7 L282.9,215.3 L283.6,215.7 L284.3,216.2 L285.0,216.6 L285.7,217.1 L286.5,217.4 L287.2,217.9 L288.1,217.9 L288.9,217.9 L289.5,218.5 L289.4,219.3 L289.6,220.0 L289.3,220.7 L288.6,220.8 L287.9,221.1 L287.1,221.4 L286.7,222.0 L286.9,222.7"/>
<path d="M272.5,217.6 L272.8,216.9 L273.2,216.2 L273.5,215.4 L273.6,214.7 L273.9,213.9 L274.2,213.2 L274.3,212.4 L275.1,212.7 L276.0,212.7 L276.8,212.3 L277.5,211.8 L278.3,211.4 L278.4,210.6 L278.7,209.9 L278.7,209.1 L279.2,208.4 L280.0,208.5 L280.9,208.5 L281.8,208.3 L282.3,208.9 L283.2,209.1 L284.1,209.0 L284.9,208.8 L285.7,209.1 L286.1,209.8 L286.3,210.5 L286.5,211.3 L286.5,212.0 L286.5,212.7 L286.6,213.5 L286.8,214.2"/>
<path d="M272.5,217.6 L273.3,217.9 L274.1,218.1 L275.0,218.2 L275.8,217.8 L276.5,217.3 L277.4,217.4 L278.3,217.2 L278.8,216.6 L278.6,215.9 L278.3,215.2 L277.9,214.5 L277.6,213.8 L276.9,213.5 L276.1,213.4 L276.0,214.1 L276.0,214.8 L275.8,215.5 L276.2,216.2 L276.9,216.7 L277.3,217.3 L277.8,218.0 L277.9,218.7 L277.4,219.2 L277.1,219.9 L276.6,220.4 L276.0,221.0 L275.8,221.7 L275.2,222.2 L275.0,222.8 L274.5,223.4 L274.2,224.1 L273.7,224.6 L272.9,224.7 L272.6,224.0"/>
<path d="M272.5,217.6 L272.1,218.2 L271.6,218.8 L271.2,219.4 L270.6,219.8 L270.4,220.5 L270.6,221.3 L271.0,222.0 L271.4,222.6 L270.8,223.1 L270.1,223.2 L269.3,223.3 L269.0,224.0 L269.8,224.4 L270.3,225.0 L271.0,225.4 L271.8,225.7 L272.3,225.1 L273.1,224.7 L273.7,224.1 L274.1,223.4 L274.6,222.8 L275.3,222.2 L275.8,221.6 L276.1,220.8 L276.7,220.3 L277.5,219.9 L278.2,219.5"/>
<path d="M272.5,217.6 L272.5,218.3 L272.1,218.9 L272.1,219.7 L272.0,220.4 L271.6,221.1 L271.8,221.8 L271.7,222.5 L271.0,222.7 L270.2,222.8 L269.6,223.3 L269.0,223.7 L269.1,224.5 L269.4,225.2 L269.8,225.8 L270.6,226.0 L271.4,226.4 L270.8,226.8 L270.3,227.4 L270.2,228.1 L270.3,228.8 L269.9,229.4 L269.8,230.2 L270.3,230.8 L270.9,231.3 L271.1,232.0 L271.1,232.8 L271.2,233.5 L270.7,234.0 L270.6,234.7 L269.9,235.1 L270.0,235.8 L269.8,236.5 L270.0,237.2"/>
<path d="M272.5,217.6 L273.4,217.7 L274.0,218.2 L274.5,218.9 L275.1,219.4 L274.8,220.1 L274.3,220.7 L273.9,221.3 L274.0,222.1 L274.5,222.7 L275.1,223.2 L274.5,223.6 L274.0,224.1 L273.2,224.3 L272.8,223.6 L272.3,223.1 L271.5,222.9 L270.8,222.7 L270.1,222.3 L269.8,221.6 L269.9,220.8 L269.7,220.1 L269.4,219.4 L269.0,218.7 L268.9,218.0 L269.2,217.2 L269.8,216.6 L270.6,216.7 L271.3,216.2 L272.2,216.4 L273.0,216.0"/>
<path d="M272.5,217.6 L272.0,218.1 L271.6,218.8 L271.7,219.5 L271.6,220.3 L271.2,220.9 L270.7,221.5 L270.2,222.0 L269.4,221.8 L268.7,222.2 L267.9,222.1 L267.4,222.6 L267.4,223.4 L266.6,223.5 L265.9,223.2 L265.5,222.5 L265.2,221.8 L265.4,221.1 L265.4,220.3 L265.6,219.5 L266.4,219.1 L266.9,218.5 L267.7,218.1 L268.3,217.6 L268.0,216.8 L267.9,216.1 L268.0,215.3 L268.8,215.0 L269.5,214.5 L270.3,214.2 L271.2,214.0 L271.7,213.4"/>
<path d="M272.5,217.6 L271.8,217.9 L271.4,218.6 L270.7,218.9 L270.4,219.5 L269.9,220.1 L270.1,220.8 L270.4,221.5 L271.1,222.0 L270.9,222.7 L270.8,223.4 L270.0,223.4 L269.2,223.5 L268.6,223.1 L267.8,222.9 L267.0,222.9 L266.8,223.6"/>
<path d="M272.5,217.6 L273.4,217.7 L274.3,217.7 L274.9,218.2 L275.5,218.8 L276.1,219.3 L276.9,219.7 L277.8,219.8 L278.6,219.4 L279.3,219.0 L280.1,218.8 L281.0,218.6 L281.8,218.3 L282.6,217.9 L283.4,218.3 L284.2,218.4 L284.6,219.1 L285.2,219.6 L285.7,220.3 L285.3,220.9 L285.1,221.6 L284.5,222.0 L284.0,222.6 L283.6,223.2 L283.1,223.8 L283.1,224.5 L282.6,225.1 L281.9,225.4 L281.2,225.7 L280.6,226.2 L280.0,226.6 L279.9,225.8"/>
<path d="M272.5,217.6 L273.3,217.2 L274.1,217.6 L274.3,218.3 L274.4,219.0 L274.9,219.7 L274.9,220.4 L274.8,221.1 L274.5,221.8 L274.5,222.5 L274.0,223.1 L273.7,223.8 L274.0,224.4 L274.5,225.0 L274.6,225.8 L274.4,226.5 L274.9,227.1 L275.7,226.7 L276.5,226.3 L277.4,226.2 L278.0,225.6 L278.7,225.1 L279.3,224.5 L280.1,224.2 L280.9,224.0 L281.5,224.6 L282.2,225.0 L281.6,225.5 L280.9,225.6"/>
<path d="M272.5,217.6 L272.2,216.9 L271.6,216.4 L271.1,215.8 L270.4,215.5 L270.5,214.7 L271.3,214.5 L272.2,214.4 L272.5,215.1 L273.2,215.5 L273.8,216.1 L274.4,216.6 L275.3,216.4 L276.1,216.1 L276.9,215.7 L277.8,215.8 L278.5,215.4"/>
<path d="M272.5,217.6 L271.8,217.4 L271.0,217.3 L270.3,216.9 L270.0,216.2 L270.3,215.5 L270.9,214.9 L271.8,215.0 L272.4,215.5 L273.3,215.5 L274.1,215.8 L274.7,216.4 L275.6,216.6 L276.4,216.9 L277.3,216.8 L278.2,216.9 L278.8,217.3 L279.7,217.4 L280.6,217.4 L281.5,217.5 L282.3,217.5 L282.9,216.9 L283.4,216.2 L283.6,215.4 L284.5,215.2 L285.4,215.2 L286.2,215.4 L286.9,215.8"/>
<path d="M272.5,217.6 L272.4,216.8 L272.2,216.1 L271.8,215.4 L271.3,214.9 L270.8,214.3 L270.0,214.4 L269.2,214.3 L268.4,214.3 L267.7,214.0 L267.0,213.6 L266.6,213.0 L266.6,212.2 L266.7,211.4 L266.5,210.7 L266.6,209.9 L266.0,209.4 L265.4,208.9"/>
<path d="M272.5,217.6 L272.4,218.3 L272.6,219.1 L272.6,219.8 L272.1,220.3 L271.5,220.8 L271.0,221.3 L271.4,222.0 L272.0,222.5 L272.7,223.1 L273.4,223.5 L274.1,223.9 L274.9,224.1 L275.7,224.5 L276.5,224.8 L276.7,225.6 L276.8,226.3 L276.2,226.8 L275.6,227.2 L274.9,227.6 L274.7,228.3 L274.5,229.0 L273.9,229.5 L273.4,230.1 L272.8,230.5"/>
<path d="M272.5,217.6 L273.1,218.2 L273.3,218.9 L273.3,219.6 L273.6,220.3 L273.9,221.0 L273.8,221.8 L274.0,222.5 L273.6,223.1 L273.5,223.8 L272.9,224.3 L272.2,224.7 L272.2,225.4 L271.9,226.1 L271.8,226.8 L271.4,227.4 L271.0,228.1 L271.0,228.8 L271.2,229.6 L271.9,230.0 L272.5,230.5 L272.6,231.3 L272.9,232.0 L272.8,232.7"/>
<path d="M272.5,217.6 L273.3,217.9 L274.2,218.0 L274.8,218.6 L275.0,219.3 L275.0,220.1 L275.1,220.8 L274.5,221.2 L274.0,221.7 L273.4,222.2 L273.0,222.8 L272.5,223.4 L272.3,224.1 L272.4,224.8 L272.4,225.6 L272.2,226.3 L271.5,226.5 L271.0,225.8 L270.5,225.3"/>
<path d="M272.5,217.6 L273.0,216.9 L273.5,216.3 L273.5,215.5 L272.7,215.5 L272.6,214.7 L272.6,213.9 L272.0,213.4 L272.3,212.7 L273.2,212.5 L274.1,212.6 L274.9,212.6 L275.8,212.3 L276.6,212.0 L277.4,211.8 L278.3,211.6"/>
<path d="M272.5,217.6 L272.1,216.9 L271.5,216.4 L271.7,215.7 L271.7,214.9 L272.1,214.2 L272.7,213.6 L272.5,212.9 L271.9,212.4 L271.5,211.7 L271.3,211.0 L270.7,210.5 L269.9,210.4 L269.3,210.8 L268.6,211.0 L269.0,211.7 L268.6,212.4 L268.5,213.1 L268.6,213.8 L268.4,214.6 L268.3,215.3 L267.6,215.5 L266.8,215.8 L266.1,216.0 L266.0,216.7 L266.0,217.5 L266.7,217.9 L267.5,218.2 L268.4,218.3"/>
<path d="M272.5,217.6 L272.4,218.3 L272.5,219.1 L271.7,219.4 L271.4,220.0 L270.6,220.1 L270.2,220.8 L269.8,221.4 L269.0,221.6 L268.4,222.0 L267.6,221.8 L267.1,221.2 L266.8,220.5 L266.2,220.0"/>
<path d="M272.5,217.6 L271.7,217.7 L271.1,218.1 L270.4,218.4 L270.1,219.1 L269.5,219.6 L269.4,220.3 L269.7,221.1 L270.1,221.7 L271.0,222.0 L271.1,222.7 L271.4,223.4 L271.8,224.1 L272.2,224.8 L273.0,224.9 L273.4,225.6 L273.8,226.3 L274.4,226.8 L274.9,227.5 L275.4,228.1 L276.2,228.4 L277.1,228.4 L278.0,228.2 L278.4,227.5 L278.7,226.7"/>
<path d="M272.5,217.6 L272.7,216.8 L273.4,216.3 L274.2,216.6 L275.0,216.8 L275.9,217.0 L276.7,217.3 L277.2,217.9 L277.3,218.7 L277.6,219.4 L278.4,219.7 L279.3,219.8 L280.0,219.3 L280.1,218.5 L279.7,217.9 L279.0,217.5 L278.3,217.1 L277.7,216.6 L276.9,216.5 L276.2,216.8 L275.4,216.8 L274.7,217.0 L274.1,217.4 L273.6,218.0 L273.2,218.7 L272.6,219.1 L272.1,219.6"/>
<path d="M272.5,217.6 L272.4,218.3 L272.7,219.0 L272.6,219.8 L273.1,220.4 L273.4,221.1 L273.2,221.8 L272.5,222.1 L271.8,222.4 L271.1,222.8 L270.4,223.2 L269.7,223.2 L268.9,223.3 L268.4,223.9 L268.1,224.6 L268.1,225.3 L268.2,226.0 L268.5,226.8 L269.1,227.3 L268.9,228.0 L268.7,228.7 L268.0,229.1 L267.8,229.8 L267.3,230.3 L266.7,230.8 L266.1,231.3 L265.4,231.6 L264.9,232.1 L264.1,232.1 L264.0,231.3 L264.1,230.5 L264.6,229.9"/>
<path d="M272.5,217.6 L273.3,217.2 L274.1,216.9 L274.3,216.1 L274.7,215.4 L274.5,214.7 L274.4,213.9 L274.5,213.1 L275.1,212.5 L275.6,211.9 L276.5,211.7 L277.1,212.3 L277.8,212.7 L278.7,212.7 L279.6,212.9 L280.4,213.2 L280.5,212.4 L280.8,211.7 L280.7,210.9 L281.0,210.2 L281.4,209.5 L282.1,209.0 L282.8,208.4 L283.6,208.6 L284.5,208.4 L285.3,208.2 L285.8,208.9 L286.5,209.3 L287.1,209.9 L287.8,210.3 L287.8,211.1 L287.4,211.7"/>
<path d="M272.5,217.6 L271.7,217.5 L270.9,217.6 L270.2,217.7 L269.4,217.5 L268.6,217.6 L267.8,217.6 L267.2,217.1 L266.8,216.5 L266.0,216.2 L265.6,215.5 L265.1,215.0 L265.3,214.2 L265.4,213.4 L265.2,212.7 L264.9,212.0 L265.4,211.3 L265.9,210.7 L266.8,210.6 L267.6,210.8 L267.6,211.6 L268.1,212.2 L268.5,212.9 L268.5,213.6 L267.8,213.9 L267.0,213.9 L266.2,213.8 L265.5,214.0 L264.8,213.8 L264.0,213.5 L263.3,213.7 L262.6,214.1 L262.7,214.8 L262.3,215.5 L261.5,215.5"/>
<path d="M272.5,217.6 L273.4,217.4 L274.1,217.0 L275.0,217.1 L275.7,217.6 L275.9,218.3 L276.6,218.8 L277.2,219.4 L277.1,220.1 L276.7,220.7 L276.0,221.1 L275.4,220.5 L274.7,220.7 L274.0,221.1 L273.7,221.8 L273.4,222.4 L272.7,222.8 L272.6,223.6 L273.0,224.2 L273.0,225.0 L272.4,225.4"/>
<path d="M272.5,217.6 L272.2,216.9 L272.0,216.2 L271.8,215.4 L271.7,214.7 L271.3,214.0 L270.7,213.5 L270.0,213.2 L269.6,212.6 L268.8,212.3 L268.1,212.2 L267.4,211.8 L266.6,211.6"/>
<path d="M272.5,217.6 L273.3,217.3 L274.1,216.9 L274.9,216.6 L275.8,216.8 L276.4,217.3 L277.2,217.6 L277.4,218.3 L277.7,219.0 L277.8,219.8 L277.7,220.5 L276.9,220.6 L276.3,220.1 L276.7,219.4 L276.5,218.6"/>
<path d="M272.5,217.6 L272.0,217.0 L271.8,216.3 L271.2,215.7 L271.0,215.0 L270.5,214.5 L270.2,213.7 L270.0,213.0 L270.8,212.6 L271.6,212.2 L272.4,212.0 L273.2,211.6 L273.3,210.8 L273.9,210.2 L274.1,209.4 L275.0,209.4 L275.8,209.0 L276.6,208.6 L276.7,207.9 L276.9,207.1 L277.3,206.4 L278.0,205.9 L278.1,205.2 L278.6,204.5 L279.5,204.4 L280.4,204.5 L281.1,204.9 L282.0,205.1 L282.7,205.5 L283.5,205.2 L284.4,205.5 L285.2,205.8 L285.6,206.4 L285.1,207.0 L284.7,207.6 L284.4,208.3"/>
<path d="M272.5,217.6 L273.2,217.1 L274.0,216.8 L274.9,216.7 L275.5,217.2 L275.7,218.0 L276.3,218.6 L277.2,218.5 L278.0,218.7 L278.3,219.4 L278.8,220.0 L279.0,220.7 L279.9,220.7 L280.6,220.2 L281.2,219.7 L281.8,219.1 L282.6,219.3 L283.0,220.0 L283.3,220.7 L282.9,221.4 L282.2,221.7 L281.5,221.5 L280.8,221.8 L280.1,222.1 L279.5,222.6 L279.1,223.2 L278.8,223.9 L278.4,224.5 L278.1,225.2 L277.9,225.9 L277.1,226.2"/>
<path d="M272.5,217.6 L273.4,217.5 L274.1,217.0 L274.5,216.3 L275.3,216.0 L276.1,216.4 L276.9,216.1 L277.8,216.3 L278.6,216.5 L279.4,216.2 L280.3,216.2 L281.2,216.1 L282.0,216.0 L282.7,216.5 L283.4,217.0 L283.6,217.7 L284.1,218.3 L284.8,218.7 L285.7,218.6 L286.5,218.9 L287.4,218.9 L288.3,218.8"/>
<path d="M272.5,217.6 L272.1,218.2 L271.4,218.5 L270.6,218.4 L269.8,218.1 L269.6,217.4 L268.9,217.7 L268.2,218.0 L267.4,218.1 L266.7,218.3 L265.9,218.4 L265.4,217.7 L265.4,217.0 L264.9,216.4 L264.1,216.5 L263.4,216.7 L262.6,216.6 L262.3,215.9 L263.0,215.4 L263.5,214.8 L264.1,214.2 L264.7,213.6 L264.9,212.8 L265.0,212.0 L264.9,211.3 L264.5,210.6 L263.8,210.4 L263.0,210.5 L262.8,211.2 L262.0,211.4 L261.3,211.3 L260.6,211.7"/>
<path d="M272.5,217.6 L271.8,218.0 L271.1,217.9 L270.4,218.2 L269.7,218.6 L269.6,219.3 L269.6,220.0 L270.1,220.6 L270.6,221.3 L270.8,222.0 L270.5,222.6 L270.4,223.4 L270.3,224.1 L269.8,224.7 L269.2,225.1 L268.5,225.3 L267.7,225.5 L267.1,225.9 L266.3,225.8 L265.5,225.6 L265.1,226.2 L265.0,227.0 L264.9,227.7 L265.4,228.3 L265.7,229.0"/>
<path d="M272.5,217.6 L273.3,217.4 L274.0,217.8 L274.7,217.3 L275.4,216.8 L276.1,216.3 L276.9,215.9 L277.6,215.5 L278.5,215.5 L279.4,215.6 L280.2,215.7 L281.0,215.3 L281.7,214.8 L282.6,214.6 L283.4,214.6 L284.3,214.4 L285.2,214.3"/>
<path d="M272.5,217.6 L273.3,217.2 L273.7,216.5 L274.4,216.0 L275.3,215.9 L276.0,216.2 L276.9,216.3 L277.6,215.8 L278.4,215.6 L279.3,215.8 L280.1,216.0 L281.0,216.0 L281.7,215.4 L282.0,214.7 L282.7,214.2 L283.6,214.1 L284.4,214.3 L285.0,213.7 L285.6,213.2 L286.5,213.3 L287.4,213.4 L288.3,213.4 L289.0,213.8 L289.7,214.3 L290.0,215.0 L290.4,215.7 L290.4,216.4 L291.1,216.9 L291.6,217.5 L291.5,218.3 L291.3,219.0 L290.9,219.5 L290.2,220.0"/>
<path d="M272.5,217.6 L271.6,217.2 L270.6,217.2 L269.7,217.3 L268.8,217.6 L268.0,218.1 L267.3,218.7 L266.6,219.3 L265.7,219.6 L265.2,220.4 L265.0,221.2 L264.2,221.8 L263.6,222.5 L263.5,223.4 L263.4,224.2 L263.1,225.1 L262.7,225.9 L262.2,226.6"/>
<path d="M272.5,217.6 L273.4,217.0 L273.9,216.2 L274.3,215.3 L274.7,214.4 L275.3,213.6 L276.0,212.8 L276.3,211.9 L276.5,211.0 L275.9,210.3 L275.2,209.7 L274.7,208.9 L274.6,208.0 L275.2,207.2 L275.5,206.3 L275.7,205.4 L275.6,204.5 L275.4,203.6 L274.9,202.8 L274.2,202.2"/>
<path d="M272.5,217.6 L272.3,218.5 L272.3,219.4 L271.8,220.1 L271.3,220.8 L270.6,221.5 L269.7,221.7 L268.7,221.8 L267.9,222.3 L267.0,222.7 L266.3,222.1 L265.9,221.3 L265.7,220.4 L265.8,219.4 L265.4,218.6 L265.3,217.7 L264.7,216.9 L264.2,216.2 L263.5,215.6 L262.6,215.1 L261.8,214.7 L260.8,214.5 L260.0,214.0"/>
<path d="M272.5,217.6 L273.1,216.8 L273.2,215.9 L273.7,215.1 L274.1,214.2 L274.4,213.3 L275.1,212.6 L275.8,211.8 L276.4,211.0 L276.7,210.1 L277.4,209.4 L277.9,208.5 L279.0,208.4 L280.0,208.0 L281.1,208.0 L282.1,207.6 L282.9,206.9 L283.9,206.4 L284.8,205.8 L285.4,205.0 L286.0,204.2 L287.0,203.8 L287.6,203.0 L287.3,202.2 L287.0,201.3 L287.1,200.4 L286.5,199.7 L286.1,198.8 L285.5,198.1 L285.0,197.3 L284.5,196.5 L284.1,195.7 L283.9,194.8 L284.2,193.9 L284.8,193.2 L284.9,192.2 L284.8,191.3 L285.1,190.4 L285.4,189.5 L285.6,188.6 L286.1,187.8 L286.5,186.9 L286.6,186.0"/>
<path d="M272.5,217.6 L273.1,218.4 L274.0,218.9 L275.0,219.3 L275.6,220.1 L276.2,220.9 L276.9,221.6 L277.3,222.4 L278.1,223.1 L279.1,223.5 L278.8,224.4 L278.1,225.0 L277.3,225.5 L276.6,226.1 L275.6,226.3 L274.7,226.4 L274.0,227.1 L273.5,227.8 L272.8,228.4 L272.1,229.1 L271.4,229.6 L270.8,230.3 L270.5,231.1 L270.6,232.0 L270.4,232.9 L270.0,233.7 L269.9,234.6"/>
<path d="M272.5,217.6 L271.6,217.3 L270.9,216.6 L270.0,216.3 L269.0,216.4 L268.3,216.9 L267.4,217.3 L266.5,217.6 L265.6,217.2 L264.6,217.1 L263.7,216.8 L263.3,216.0 L262.7,215.3 L261.9,214.7 L260.9,214.5 L260.0,214.6 L259.0,214.6 L258.1,214.3 L257.1,214.1 L256.5,213.5 L255.8,212.8 L254.9,212.4 L254.0,212.3 L253.5,211.5 L252.7,211.0 L251.8,210.6 L251.0,210.1 L250.7,209.2 L249.7,209.2 L248.9,209.6"/>
<path d="M272.5,217.6 L272.2,216.7 L272.4,215.8 L273.0,215.0 L273.7,214.3 L274.6,213.7 L275.8,213.7 L276.8,213.3 L277.8,213.0 L278.6,212.3 L279.7,212.1 L280.8,212.3 L281.9,212.2 L282.8,212.7 L283.5,213.4 L284.6,213.7 L285.6,213.9 L286.7,214.2"/>
<path d="M272.5,217.6 L271.7,217.0 L270.8,216.8 L269.8,216.8 L269.2,216.1 L268.3,215.7 L268.2,214.7 L267.8,213.9 L267.7,213.0 L268.0,212.1 L269.0,211.6 L270.0,211.2 L271.1,210.9 L272.2,211.0 L273.3,210.8 L274.3,210.5 L275.3,210.1 L276.1,209.4 L277.2,209.2 L277.9,208.5 L278.5,207.7 L279.4,207.1 L280.4,206.6 L281.4,206.3 L282.5,206.1 L283.5,205.5 L284.0,204.7 L284.8,204.0 L285.8,203.7 L286.9,203.6 L288.0,203.4 L288.8,202.7 L288.9,201.8 L289.1,200.9 L288.9,200.0 L288.8,199.1 L288.6,198.2"/>
<path d="M272.5,217.6 L272.2,216.7 L271.4,216.2 L270.5,215.8 L269.5,215.6 L268.6,215.4 L267.7,215.8 L267.1,216.5 L266.2,216.8 L265.2,216.8 L264.3,216.5 L263.4,216.7 L262.5,217.0 L262.1,217.8 L261.5,218.5 L261.1,219.3 L260.5,220.0 L259.8,220.6 L259.0,220.1 L258.1,219.6 L257.2,219.4 L256.2,219.5 L255.2,219.6 L254.3,219.9 L253.8,220.6 L253.0,221.1"/>
<path d="M272.5,217.6 L272.2,216.7 L272.3,215.8 L272.6,214.9 L273.1,214.1 L274.0,213.5 L274.9,212.9 L275.6,212.2 L276.1,211.4 L276.6,210.5 L277.2,209.7 L278.0,209.1 L278.8,208.4 L279.6,207.7 L280.1,206.9 L280.9,206.2 L281.6,205.5 L281.7,204.6 L281.6,203.7 L281.7,202.8 L281.5,201.9 L280.8,201.2 L280.0,200.6 L279.6,199.8"/>
<path d="M272.5,217.6 L272.6,216.7 L272.2,215.9 L272.3,214.9 L272.6,214.0 L272.3,213.2 L272.4,212.3 L272.5,211.4 L272.8,210.5 L273.7,209.9 L273.9,209.0 L274.2,208.1 L274.5,207.2 L275.0,206.3 L275.9,205.7 L276.8,205.2 L277.9,205.1 L279.0,205.1 L280.1,204.7 L281.0,204.1 L281.6,203.4 L282.4,202.7 L283.3,202.1 L283.6,201.2 L283.8,200.3 L284.4,199.5 L285.4,199.0 L286.4,198.7 L287.5,198.4 L288.6,198.3"/>
<path d="M272.5,217.6 L272.8,216.7 L272.9,215.8 L273.6,215.0 L274.4,214.3 L274.6,213.4 L274.6,212.5 L274.5,211.6 L274.4,210.7 L274.4,209.8 L275.2,209.1 L276.1,208.6 L276.6,207.7 L277.2,207.0 L277.7,206.1 L278.4,205.4 L279.3,204.8 L280.0,204.1 L280.6,203.2 L281.1,202.4 L281.3,201.5 L281.5,200.6 L281.8,199.7 L281.8,198.8 L282.5,198.0 L283.2,197.3 L284.0,196.7 L284.7,195.9 L285.1,195.0 L286.0,194.4 L286.9,193.9 L287.9,194.3 L289.0,194.5 L290.0,194.8 L291.2,194.7 L292.0,195.3 L292.9,195.8 L293.9,196.2 L294.9,196.6 L295.5,197.4 L296.3,198.0"/>
<path d="M272.5,217.6 L273.2,216.8 L274.2,216.5 L275.3,216.2 L276.1,215.6 L276.4,214.7 L276.9,213.8 L277.4,213.0 L278.3,212.4 L279.0,211.7 L279.2,210.7 L279.8,210.0 L279.9,209.0 L280.3,208.2 L280.8,207.3 L281.2,206.5 L281.3,205.5 L281.5,204.6 L281.2,203.8 L281.0,202.9 L280.7,202.0 L281.0,201.1 L281.1,200.2 L280.7,199.3 L280.4,198.5 L280.3,197.5 L280.8,196.7 L280.6,195.8 L280.5,194.9 L280.3,194.0"/>
<path d="M272.5,217.6 L271.7,217.1 L270.7,217.1 L269.7,217.0 L268.8,217.3 L268.3,218.1 L267.5,218.6 L266.8,219.1 L265.8,219.3 L264.9,218.9 L264.2,218.3 L263.4,217.8 L262.5,217.5 L261.5,217.6 L260.6,217.9 L259.6,218.0 L258.9,218.6 L258.0,218.9 L257.3,219.5 L256.4,219.8 L255.4,219.9 L254.5,219.6 L253.5,219.4"/>
<path d="M272.5,217.6 L271.8,218.2 L271.4,219.0 L271.3,219.9 L270.9,220.7 L271.0,221.6 L271.5,222.4 L271.6,223.3 L272.0,224.2 L271.9,225.1 L271.6,225.9 L271.6,226.8 L271.3,227.6 L271.4,228.5 L270.7,229.2 L270.1,229.9 L269.5,230.6 L269.2,231.4 L269.3,232.3 L269.7,233.1 L269.8,234.0"/>
<path d="M272.5,217.6 L271.8,218.2 L270.9,218.1 L269.9,217.8 L269.1,217.4 L268.5,216.7 L268.0,215.9 L267.5,215.1 L266.9,214.4 L266.1,213.9 L265.4,213.2 L264.5,212.8 L263.9,212.1 L262.9,212.1 L262.0,212.2 L261.0,212.4 L260.1,212.6 L259.1,212.8 L258.2,212.9 L257.2,213.2 L256.3,213.3 L255.4,213.0 L254.7,212.3 L254.7,211.4"/>
<path d="M272.5,217.6 L273.4,218.1 L274.3,218.7 L275.0,219.4 L275.9,219.9 L276.9,220.3 L278.0,220.6 L279.1,220.5 L280.2,220.3 L281.2,219.9 L281.9,219.1 L283.0,218.8 L284.0,218.5 L285.0,218.0 L285.8,217.4 L286.4,216.6 L286.9,215.7 L287.3,214.8 L287.3,213.9 L287.3,213.0 L287.2,212.1 L287.3,211.2"/>
<path d="M272.5,217.6 L273.5,218.0 L274.4,218.5 L275.4,218.9 L276.3,219.5 L277.2,220.0 L277.8,220.7 L278.2,221.6 L278.5,222.5 L278.5,223.4 L279.0,224.2 L279.3,225.0 L279.7,225.9 L280.2,226.7 L280.7,227.5 L280.5,228.4 L281.0,229.2 L281.2,230.1 L281.3,231.0 L280.9,231.8 L280.6,232.6"/>
<path d="M272.5,217.6 L271.6,217.8 L270.7,218.2 L269.8,218.6 L269.2,219.3 L268.6,219.9 L267.8,220.5 L266.9,220.6 L265.9,220.8 L265.0,221.1 L264.1,221.3 L263.1,221.5 L262.2,221.4 L261.2,221.6 L260.5,222.2 L259.7,222.6 L259.0,222.0 L258.3,221.3 L257.4,221.1 L256.4,221.3 L255.5,221.4"/>
<path d="M272.5,217.6 L273.4,217.0 L274.0,216.2 L274.5,215.4 L274.8,214.5 L275.5,213.7 L275.8,212.8 L276.5,212.1 L277.3,211.4 L278.3,211.2 L279.5,211.1 L280.6,211.0 L281.6,211.2 L282.8,211.2 L283.9,211.2 L285.0,211.3 L286.1,211.2 L287.2,211.2 L288.3,211.2 L289.4,211.2 L290.3,210.6 L291.0,209.9 L292.0,209.4 L293.1,209.2 L294.2,209.2 L295.3,209.3 L296.3,208.9 L296.7,208.0 L296.7,207.1 L296.7,206.2 L295.9,205.6 L295.0,205.3 L294.1,204.9 L293.2,204.5 L292.3,204.4 L291.3,204.4"/>
<path d="M272.5,217.6 L272.5,216.7 L273.3,216.0 L273.1,215.0 L273.8,214.3 L274.1,213.4 L274.5,212.5 L275.0,211.7 L275.6,210.9 L276.0,210.0 L276.2,209.1 L276.2,208.2 L276.0,207.3 L275.2,206.8 L274.6,206.1 L274.2,205.3 L273.9,204.4 L273.1,203.8 L272.4,203.2 L271.7,202.6 L270.7,202.3 L269.8,202.6 L268.9,202.7 L268.0,202.3"/>
<path d="M272.5,217.6 L272.3,218.5 L272.2,219.3 L272.3,220.2 L272.0,221.1 L271.2,221.5 L270.4,222.0 L269.6,222.4 L268.6,222.6 L267.8,223.1 L267.3,223.8 L266.4,224.2 L265.5,223.9 L264.6,224.0 L263.6,224.2 L262.7,224.5 L261.8,224.7 L260.8,224.8 L259.9,224.3 L259.0,224.1 L258.3,223.5 L257.8,222.7 L257.9,221.8 L258.0,220.9 L258.1,219.9 L258.2,219.0 L258.5,218.1 L258.8,217.2 L258.8,216.3"/>
<path d="M272.5,217.6 L272.8,218.5 L273.2,219.3 L273.5,220.2 L274.0,221.0 L274.3,221.9 L274.4,222.8 L275.0,223.5 L275.8,224.1 L276.9,224.3 L278.0,224.4 L279.2,224.4 L280.2,224.2 L281.3,224.3 L282.4,224.0 L283.5,223.7 L284.6,223.6 L285.7,223.7 L286.7,223.3 L287.5,222.7 L288.4,222.1 L289.1,221.3 L290.2,221.1 L291.3,220.8 L292.4,220.8 L293.4,220.4 L294.1,219.7 L294.6,218.8 L294.8,217.9 L295.4,217.1 L295.7,216.2 L295.8,215.3 L296.0,214.4 L295.6,213.6 L294.9,213.0 L294.1,212.4 L293.2,212.2 L292.2,211.9 L291.4,212.4 L290.4,212.4 L289.6,211.9"/>
<path d="M272.5,217.6 L273.0,216.8 L273.7,216.0 L273.3,215.2 L272.6,214.6 L271.8,214.1 L271.0,213.5 L270.4,212.8 L269.7,212.2 L268.8,211.9 L267.8,211.9 L266.8,212.1 L266.2,211.4 L265.3,211.1 L264.5,210.5 L263.5,210.4 L262.6,210.4 L261.6,210.3 L260.6,210.1 L259.7,210.0 L258.7,210.1 L257.8,210.5 L256.9,210.7 L256.2,211.4 L255.5,212.0 L254.7,212.5 L253.8,212.4"/>
<path d="M272.5,217.6 L273.3,218.2 L274.0,218.9 L274.7,219.7 L275.5,220.3 L275.9,221.1 L275.8,222.0 L276.1,222.9 L276.0,223.8 L276.5,224.6 L277.0,225.4 L277.4,226.2 L277.3,227.1 L276.9,227.9 L276.2,228.5 L275.6,229.2 L274.7,229.5 L273.8,229.8 L272.9,230.2 L272.0,230.5 L271.2,231.0 L270.4,230.5 L269.8,229.8"/>
<path d="M272.5,217.6 L272.9,216.7 L273.1,215.8 L273.3,214.9 L273.4,214.0 L273.3,213.1 L272.5,212.5 L271.8,211.9 L271.1,211.3 L270.6,210.5 L270.2,209.7 L269.4,209.2 L268.9,208.4 L268.1,207.8 L267.3,207.3 L266.4,207.0 L265.4,206.9 L264.5,206.9 L263.7,206.4 L262.8,206.1 L261.9,205.6 L261.5,204.8 L261.2,203.9 L261.1,203.0 L260.2,202.7 L259.3,202.7 L258.6,203.4 L258.2,204.1 L258.4,205.0 L258.5,205.9 L258.6,206.8 L258.8,207.7 L258.5,208.5 L259.4,209.1 L260.5,208.9 L261.4,208.4 L262.5,208.2 L263.3,207.5 L263.6,206.6 L263.0,205.9 L262.3,205.3 L261.4,204.9 L261.1,204.0 L260.4,203.4"/>
<path d="M272.5,217.6 L271.8,217.0 L271.4,216.1 L270.8,215.4 L270.3,214.6 L270.4,213.7 L271.2,213.0 L271.9,212.3 L271.7,211.4 L271.5,210.5 L271.2,209.6 L270.6,208.9 L270.0,208.1 L269.9,207.2 L270.0,206.3 L269.8,205.4 L269.8,204.5 L270.2,203.6 L270.8,202.8 L271.0,201.9 L272.0,201.4 L273.1,201.4 L274.2,201.6 L275.2,202.0 L276.3,202.2 L277.4,202.2 L278.5,202.1"/>
<path d="M272.5,217.6 L271.7,217.1 L270.9,216.6 L270.0,216.2 L269.1,215.8 L268.9,214.9 L268.8,214.0 L269.0,213.1 L269.4,212.2 L269.8,211.3 L270.2,210.5 L270.4,209.5 L271.1,208.8 L271.9,208.1 L273.0,207.9 L274.1,207.8 L275.1,207.3 L276.2,207.3 L277.1,207.8 L278.2,208.0 L279.1,208.6 L279.6,209.4 L280.2,210.2 L280.0,211.0 L279.3,211.6 L278.7,212.3 L277.7,212.3 L276.8,212.6 L275.9,212.3 L274.9,212.1 L274.1,212.6 L273.8,213.4 L274.7,214.1 L275.7,214.4 L276.8,214.7 L277.7,215.1 L278.6,215.6"/>
<path d="M272.5,217.6 L272.4,216.7 L272.0,215.8 L271.3,215.2 L270.7,214.6 L270.3,213.7 L269.8,212.9 L269.3,212.2 L268.3,212.2 L267.4,212.4 L266.4,212.5 L265.5,212.4 L264.5,212.2 L263.5,212.1 L262.6,212.0 L261.6,211.9 L260.6,211.9 L259.6,212.0 L258.7,212.1 L257.7,211.9 L256.8,211.5 L255.9,211.3 L255.3,210.6 L255.0,209.8 L254.9,208.8 L254.9,207.9 L254.3,207.2 L253.6,206.5 L253.3,205.7"/>
<path d="M272.5,217.6 L272.4,216.7 L271.6,216.2 L271.2,215.4 L270.9,214.5 L270.4,213.8 L269.4,213.4 L268.8,212.8 L268.4,212.0 L267.5,211.5 L266.7,211.0 L265.8,210.6 L264.9,210.6 L263.9,210.3 L263.1,210.8 L262.2,211.1 L261.3,210.6 L260.6,210.0 L260.3,209.1 L259.7,208.4"/>
<path d="M272.5,217.6 L273.6,217.7 L274.7,217.7 L275.8,218.0 L276.9,218.1 L277.9,218.4 L279.0,218.3 L280.1,218.1 L281.2,218.2 L281.5,219.1 L281.5,220.0 L281.1,220.8 L280.6,221.6 L280.2,222.3 L279.6,223.1 L279.1,223.8 L278.7,224.6 L278.3,225.4 L277.9,226.2 L277.6,227.0 L276.7,227.4"/>
<path d="M272.5,217.6 L273.2,218.3 L273.9,219.0 L274.9,219.5 L276.0,219.7 L276.8,220.3 L277.9,220.5 L279.0,220.5 L280.1,220.8 L280.9,221.4 L281.7,222.0 L282.2,222.8 L282.9,223.5 L283.9,224.0 L284.9,224.4 L285.5,225.2 L286.3,225.8 L287.4,226.0 L288.3,226.5 L289.4,226.7 L290.5,227.0 L291.6,227.0 L292.4,227.7 L293.5,227.4 L294.5,227.7 L295.4,228.3 L296.2,228.9 L296.6,229.8 L296.8,230.6"/>
<path d="M272.5,217.6 L272.2,218.4 L271.7,219.2 L271.0,219.8 L270.8,220.6 L271.5,221.4 L272.2,222.1 L272.9,222.8 L273.1,223.7 L272.9,224.6 L272.7,225.4 L272.5,226.3 L272.1,227.1 L271.7,227.8 L271.2,228.6 L271.6,229.5 L272.2,230.2 L273.0,230.9 L273.8,231.6 L274.5,232.2"/>
<path d="M272.5,217.6 L272.8,218.5 L273.5,219.2 L274.3,219.8 L274.9,220.6 L274.8,221.5 L274.5,222.3 L273.9,223.0 L273.4,223.7 L273.1,224.6 L272.4,225.2 L271.7,225.7 L270.7,225.9 L270.6,226.8 L270.5,227.7 L269.6,228.1 L268.9,228.7 L269.0,229.5 L269.6,230.3 L270.0,231.2 L271.1,231.4"/>
<path d="M272.5,217.6 L273.1,216.8 L273.6,216.0 L274.0,215.1 L274.2,214.2 L274.6,213.3 L275.1,212.4 L275.5,211.6 L275.8,210.7 L276.8,210.2 L277.6,209.5 L278.5,208.9 L279.3,208.2 L279.5,207.3 L279.9,206.4 L280.3,205.6 L281.0,204.9 L281.9,204.3 L282.9,203.8 L284.0,204.0 L285.1,204.2 L286.2,204.3 L287.0,203.7 L287.7,202.9 L287.8,202.0 L287.9,201.1 L288.4,200.2 L289.5,200.0 L290.5,200.3 L290.8,201.2 L291.6,201.8 L292.4,202.5 L292.9,203.3 L293.5,204.1 L294.0,204.9 L294.6,205.7 L294.9,206.6 L295.0,207.5 L295.8,208.1 L296.2,208.9 L296.4,209.8 L296.6,210.7"/>
<path d="M272.5,217.6 L273.0,218.4 L273.4,219.3 L274.2,219.8 L275.2,220.3 L276.0,220.9 L277.0,221.3 L277.9,221.9 L279.0,222.0 L280.1,222.0 L281.0,221.4 L282.0,221.0 L283.1,220.9 L284.2,221.2 L285.3,221.3 L286.3,221.7 L287.3,222.0 L288.3,222.5 L289.1,223.1 L289.5,223.9 L290.0,224.7 L290.4,225.6 L290.9,226.4 L291.4,227.2 L291.6,228.1 L291.7,229.0 L292.5,229.7 L293.5,230.1 L294.2,230.8 L294.9,231.5 L295.6,232.2"/>
<path d="M272.5,217.6 L273.4,218.1 L274.1,218.9 L275.2,219.1 L276.2,219.5 L277.3,219.6 L278.3,220.0 L279.3,220.4 L280.2,220.9 L280.5,221.8 L281.3,222.4 L282.2,222.9 L283.1,223.4 L284.0,223.9 L285.1,224.2 L286.2,224.2 L287.3,224.5 L288.3,224.2 L289.4,223.9"/>
<path d="M272.5,217.6 L271.6,217.3 L270.6,217.2 L269.6,217.1 L268.7,217.4 L268.3,218.2 L267.8,219.0 L267.2,219.6 L266.8,220.4 L266.1,221.0 L265.6,221.8 L265.0,222.4 L264.1,222.8 L263.1,223.0 L262.2,223.3 L261.4,223.7 L261.5,224.6 L262.5,225.0 L263.6,225.2 L264.6,225.6 L265.3,226.4"/>
<path d="M272.5,217.6 L272.4,218.5 L272.5,219.4 L273.1,220.1 L273.6,221.0 L274.2,221.7 L274.0,222.6 L273.8,223.4 L273.7,224.3 L274.1,225.2 L274.0,226.1 L273.7,226.9 L273.5,227.8 L273.4,228.6 L273.1,229.5 L273.0,230.4 L272.2,230.8 L271.3,231.1 L270.4,231.5 L269.7,232.0 L268.8,232.4 L267.9,232.7 L267.6,233.6 L267.2,234.4 L267.4,235.3 L267.0,236.1 L266.4,236.7 L265.8,237.4 L265.5,238.3 L264.6,238.7 L264.4,239.5 L264.5,240.4 L265.0,241.2 L265.8,241.9 L265.5,242.7"/>
<path d="M272.5,217.6 L273.6,217.5 L274.7,217.7 L275.6,218.2 L276.2,219.0 L275.9,219.8 L276.0,220.7 L275.5,221.5 L275.0,222.2 L275.0,223.1 L275.2,224.0 L275.6,224.8 L276.1,225.6 L276.9,226.3 L277.6,227.0 L278.7,227.2 L279.5,227.8 L280.5,228.2 L281.6,228.1 L282.7,227.9 L283.8,227.7"/>
<path d="M272.5,217.6 L273.5,217.9 L274.0,218.7 L274.6,219.5 L275.7,219.6 L276.8,219.7 L277.9,219.9 L279.0,220.1 L280.1,220.0 L281.2,219.9 L282.2,219.4 L282.8,218.6 L283.1,217.7 L283.4,216.8 L284.0,216.0 L284.2,215.1 L284.1,214.2 L284.2,213.3 L284.0,212.4 L283.9,211.5 L284.4,210.6 L284.3,209.7 L283.9,208.9 L283.1,208.3 L282.6,207.6 L282.1,206.8 L281.3,206.2 L280.9,205.4 L280.2,204.8 L280.3,203.8 L280.8,203.0 L280.8,202.0 L280.5,201.2 L280.5,200.3 L281.0,199.4"/>
<path d="M272.5,217.6 L273.4,218.1 L274.4,218.6 L275.0,219.3 L275.6,220.1 L276.6,220.5 L277.7,220.5 L278.8,220.6 L279.9,220.7 L280.9,221.1 L281.8,221.7 L282.5,222.4 L283.5,222.6 L284.4,223.2 L285.5,223.2 L286.6,223.1 L287.6,222.6 L288.7,222.5 L289.8,222.4 L290.8,222.7 L291.7,223.3 L292.7,223.7 L293.4,224.4 L294.2,225.1 L294.7,225.9 L295.0,226.8 L295.4,227.6 L295.3,228.5 L295.4,229.4 L295.7,230.2 L295.6,231.1 L296.0,232.0 L296.1,232.9 L295.7,233.7 L295.4,234.5"/>
<path d="M272.5,217.6 L271.9,216.9 L271.0,216.7 L270.0,216.9 L269.4,217.6 L268.5,218.0 L267.6,217.7 L266.7,217.4 L265.9,216.9 L265.3,216.2 L265.1,215.3 L265.3,214.3 L265.9,213.6 L266.9,213.1 L267.9,212.6 L268.8,212.1 L269.6,211.4 L270.0,210.5 L270.3,209.6 L270.6,208.7 L271.5,208.2 L272.6,207.9 L273.7,207.8 L274.5,207.2 L275.1,206.4 L275.2,205.4 L275.4,204.5 L275.6,203.6 L275.9,202.7 L275.9,201.8 L276.3,200.9 L277.2,200.3 L277.6,199.4 L277.2,198.6"/>
<path d="M272.5,217.6 L273.0,218.4 L274.1,218.5 L275.2,218.3 L276.1,217.6 L277.0,217.1 L277.9,216.6 L279.0,216.4 L280.1,216.0 L280.7,215.3 L281.8,214.9 L282.8,214.5 L283.8,214.9 L284.8,215.2 L285.8,215.7 L286.8,216.1 L287.9,216.3 L288.6,216.9"/>
<path d="M272.5,217.6 L273.6,217.3 L274.5,216.8 L274.7,215.9 L275.1,215.0 L275.3,214.1 L275.2,213.2 L275.1,212.3 L274.8,211.4 L274.3,210.7 L274.0,209.8 L273.6,209.0 L273.7,208.0 L274.6,207.4 L275.4,206.7 L276.3,206.2 L277.2,205.6 L278.3,205.4 L278.9,204.6 L279.5,203.8 L279.8,202.9 L280.1,202.0 L280.2,201.1 L280.3,200.1 L280.7,199.3 L281.2,198.4 L281.6,197.5 L282.1,196.7 L282.4,195.8 L282.4,194.9 L282.4,194.0"/>
<path d="M272.5,217.6 L271.6,217.3 L271.0,216.5 L270.3,216.0 L269.5,215.4 L268.5,215.5 L267.7,216.0 L266.7,215.8 L265.8,215.5 L264.9,215.2 L264.0,215.6 L263.4,216.3 L263.0,217.1 L262.4,217.8 L261.4,217.9 L260.5,217.9 L259.5,218.1 L258.6,218.3 L257.9,217.6 L257.2,216.9 L256.5,216.3 L255.7,215.8 L254.8,215.7 L253.9,215.4 L252.9,215.4 L251.9,215.5 L251.0,215.8 L250.1,215.9 L249.1,215.7 L248.1,215.5 L247.2,215.4 L246.4,214.9 L245.4,214.6 L244.6,214.2 L243.6,214.4 L242.6,214.5 L241.7,214.4 L240.8,214.1 L239.8,213.9 L239.4,213.1 L239.6,212.1 L239.8,211.2 L239.9,210.3"/>
<path d="M272.5,217.6 L273.5,218.0 L274.5,218.4 L275.0,219.2 L275.9,219.8 L276.7,220.4 L277.2,221.2 L278.0,221.8 L278.6,222.6 L279.5,223.1 L280.5,223.6 L281.5,224.0 L282.5,224.3 L283.5,224.8 L284.6,225.0 L285.1,225.8 L286.0,226.3 L286.3,227.2 L286.6,228.1 L287.6,228.5 L288.6,228.8 L289.5,229.4 L290.6,229.4 L291.7,229.1 L292.6,228.6 L293.2,227.7 L293.1,226.8 L293.9,226.1 L294.1,225.2 L294.2,224.3 L294.6,223.4 L295.1,222.6"/>
<path d="M272.5,217.6 L272.0,216.9 L271.0,216.7 L270.0,216.6 L269.1,216.4 L268.2,216.0 L267.2,215.9 L266.3,215.7 L265.3,215.4 L264.4,215.6 L263.4,215.7 L262.5,216.0 L261.6,216.3 L261.2,217.1 L261.1,218.0 L261.4,218.9 L261.7,219.7 L261.9,220.6 L261.4,221.4 L260.7,222.0 L260.6,222.9 L261.0,223.7 L261.1,224.6 L260.9,225.5 L261.2,226.4 L261.3,227.2"/>
<path d="M272.5,217.6 L273.0,218.4 L273.8,219.1 L274.7,219.6 L275.6,220.1 L276.7,220.1 L277.8,219.8 L278.8,219.4 L279.4,218.6 L279.8,217.7 L280.1,216.8 L280.3,215.9 L280.3,215.0 L280.7,214.1 L281.2,213.2 L281.3,212.3 L280.6,211.7 L279.9,211.1 L279.2,210.4 L278.8,209.6 L278.7,208.7 L278.6,207.8 L278.9,206.9 L279.1,206.0 L279.2,205.1 L279.6,204.2 L280.2,203.4 L281.2,203.0 L281.9,202.3 L282.5,201.5 L283.2,200.7 L283.5,199.8 L283.4,198.9 L283.5,198.0 L283.4,197.1 L283.7,196.2 L284.5,195.5 L285.5,195.0 L286.0,194.2 L286.1,193.3 L285.5,192.5"/>
<path d="M272.5,217.6 L271.6,217.9 L270.6,217.7 L269.7,217.3 L268.8,217.2 L268.0,216.6 L267.4,215.9 L266.7,215.3 L266.3,214.4 L266.1,213.5 L265.9,212.7 L266.4,211.8 L266.9,211.0 L267.5,210.2 L267.8,209.3 L268.0,208.3 L268.5,207.5 L269.2,206.8 L269.6,205.9 L269.6,205.0 L270.3,204.2 L271.3,203.8 L272.4,204.0 L273.5,203.8 L274.6,203.6 L275.6,203.2 L276.7,203.2 L277.8,203.5 L278.6,202.8 L279.5,202.3 L280.3,201.6 L280.7,200.8 L281.0,199.9"/>
<path d="M272.5,217.6 L273.6,217.4 L274.7,217.5 L275.7,217.8 L276.8,218.0 L277.9,218.3 L278.9,218.5 L280.1,218.6 L281.2,218.7 L282.3,218.8 L283.4,218.6 L284.4,218.3 L285.5,218.2 L286.6,218.3 L287.5,218.8 L288.4,219.4 L289.3,220.0 L290.3,220.2 L291.3,220.7 L292.4,220.7 L293.4,220.3 L294.5,220.1"/>
<path d="M272.5,217.6 L271.7,217.0 L271.3,216.2 L271.0,215.3 L270.5,214.6 L270.7,213.7 L271.5,212.9 L271.5,212.0 L271.3,211.1 L271.7,210.2 L272.2,209.4 L273.0,208.8 L274.1,208.6 L275.2,208.8 L276.3,209.0 L277.2,209.5 L278.3,209.7 L279.4,209.8 L280.5,210.0 L281.6,209.9 L282.7,210.1 L283.8,209.9 L284.7,210.4 L285.6,210.9 L286.5,211.5 L287.1,212.2 L287.9,212.9 L288.5,213.6 L288.7,214.5 L288.5,215.4 L287.7,215.9 L287.2,216.7 L287.3,217.6 L287.0,218.4 L286.6,219.2 L286.3,220.0 L285.8,220.8"/>
<path d="M272.5,217.6 L273.6,217.8 L274.7,217.9 L275.8,217.9 L276.3,217.0 L276.3,216.1 L277.1,215.4 L277.5,214.5 L278.5,214.0 L279.1,213.3 L279.6,212.4 L279.9,211.5 L280.3,210.6 L281.2,210.0 L282.1,209.4 L282.8,208.7 L283.3,207.9 L284.0,207.2 L285.1,206.9 L286.2,206.6 L287.3,206.3 L288.4,206.2 L289.5,206.1 L290.5,205.8 L291.6,205.6 L292.7,205.5 L293.8,205.5 L294.9,205.3 L296.0,205.0 L297.1,204.9 L298.2,204.6"/>
<path d="M272.5,217.6 L273.1,216.8 L274.0,216.2 L274.6,215.4 L275.3,214.7 L276.3,214.3 L277.4,214.0 L278.4,213.7 L278.7,212.8 L278.5,211.9 L279.0,211.0 L279.5,210.2 L279.7,209.3 L279.5,208.4 L279.2,207.6 L279.4,206.6 L278.6,206.1 L278.2,205.3 L277.6,204.5 L276.8,204.0 L276.2,203.3 L275.6,202.6 L275.1,201.8 L274.8,201.0 L274.2,200.2 L273.5,199.6 L272.6,199.2 L271.7,198.8 L271.1,198.1 L270.3,197.6 L269.3,197.8 L268.5,198.1 L267.7,198.7 L266.7,198.7 L265.7,198.5 L264.8,198.4 L263.8,198.4 L262.9,198.7 L262.1,198.2 L262.2,197.3"/>
<path d="M272.5,217.6 L273.6,217.8 L274.5,218.4 L275.3,219.0 L276.4,219.2 L277.5,219.3 L278.2,219.9 L279.3,220.3 L279.4,221.2 L279.6,222.1 L279.4,222.9 L279.1,223.8 L279.1,224.7 L278.5,225.4 L278.5,226.3 L279.1,227.1 L280.2,227.4 L281.2,227.7 L282.2,228.1 L283.3,228.4 L284.0,229.0 L284.8,229.7 L285.8,230.0"/>
<path d="M272.5,217.6 L272.0,216.8 L271.6,216.0 L271.4,215.1 L270.8,214.5 L270.4,213.7 L270.8,212.8 L271.5,212.3 L272.1,211.6 L272.9,211.2 L273.3,210.4 L273.6,209.5 L274.3,209.0 L275.1,208.5 L275.5,207.7 L275.6,206.8 L276.0,206.0 L276.1,205.1 L276.1,204.2 L276.1,203.3 L276.1,202.4 L275.8,201.5 L275.3,200.7 L275.2,199.8 L276.0,199.3 L276.4,198.5 L276.9,197.8 L277.0,196.9 L277.4,196.0 L277.8,195.2 L277.5,194.3 L278.0,193.6 L278.0,192.6 L277.9,191.7 L277.6,190.9 L277.0,190.3 L276.1,190.0 L275.3,189.5 L274.7,188.9 L273.8,188.5 L273.2,187.9 L272.6,187.2 L272.1,186.4 L271.8,185.6 L272.1,184.7 L272.4,183.9 L272.8,183.0 L273.6,182.6 L274.4,182.1 L275.1,181.6 L275.8,181.0 L276.5,180.5 L277.0,179.7"/>
<path d="M272.5,217.6 L273.4,217.6 L274.3,217.5 L275.2,217.5 L276.1,217.5 L277.0,217.5 L277.8,218.1 L278.5,218.7 L279.1,219.3 L279.9,219.7 L280.8,220.0 L281.7,220.1 L282.6,220.0 L283.3,220.5 L283.6,221.4 L284.1,222.2 L284.6,222.9 L284.6,223.8 L284.9,224.7 L285.4,225.5 L286.1,226.0 L286.9,225.8 L287.5,225.1 L288.3,224.7 L289.0,224.1 L289.7,223.5 L290.1,222.7 L290.8,222.1 L291.5,221.5 L292.2,220.9 L292.8,220.2 L293.2,219.4 L293.2,218.5 L293.4,217.6 L293.4,216.7 L293.5,215.8 L293.5,214.9 L293.5,214.0 L292.9,213.3 L292.8,212.4 L292.8,211.5 L292.5,210.7 L291.6,210.5 L290.7,210.6 L289.8,210.7 L288.9,210.4 L288.1,210.8 L287.3,211.3 L286.9,212.1 L286.3,212.8 L285.7,213.5 L284.8,213.5 L283.9,213.5 L283.1,213.0 L282.7,212.2 L282.0,211.6 L281.6,210.8 L280.8,210.4 L279.9,210.4 L279.1,210.9 L278.2,211.1 L277.4,211.5 L276.5,211.3 L275.6,211.0"/>
<path d="M272.5,217.6 L271.8,218.2 L271.1,218.8 L270.2,218.7 L269.5,218.2 L269.1,217.4 L268.8,216.5 L268.3,215.7 L268.2,214.8 L268.0,213.9 L268.0,213.0 L267.5,212.2 L267.3,211.4 L267.0,210.5 L266.4,209.9 L266.0,209.0 L265.6,208.2 L265.4,207.3 L265.9,206.6 L266.7,206.3 L267.1,205.4 L266.8,204.6 L266.2,203.9 L265.3,203.6 L264.4,203.6 L263.8,204.3 L263.0,204.6 L262.4,205.3 L261.8,205.9 L261.2,206.7 L260.6,207.3 L259.9,207.9 L259.2,208.5 L258.7,209.3 L258.5,210.1 L258.5,211.0 L258.7,211.9 L258.5,212.8 L259.2,213.4"/>
<path d="M272.5,217.6 L271.9,218.3 L271.3,219.0 L270.6,219.5 L269.9,220.1 L269.4,220.8 L268.9,221.6 L268.2,222.2 L267.4,222.6 L266.5,222.6 L265.7,223.1 L265.0,223.7 L264.3,224.2 L263.4,224.4 L262.5,224.0 L261.6,224.0 L260.8,223.7 L259.9,223.7 L259.2,224.3 L258.5,224.8 L257.5,224.9 L256.6,225.0 L255.9,225.5 L255.2,226.1 L254.7,226.8 L254.4,227.7 L253.5,228.0 L252.9,228.6 L252.5,229.5 L252.0,230.3 L251.7,231.1 L251.6,232.0 L250.7,232.4 L249.9,232.8 L249.6,233.6"/>
<path d="M272.5,217.6 L272.0,218.4 L271.4,219.0 L270.8,219.7 L269.9,219.7 L269.0,219.5 L268.2,219.2 L267.3,219.1 L266.5,219.5 L265.6,219.9 L264.8,220.2 L263.9,220.0 L263.0,219.9 L262.1,219.7 L261.6,219.0 L260.9,218.4 L260.5,217.5 L260.2,216.7 L259.8,215.9 L259.6,215.0 L259.1,214.2 L259.2,213.3 L259.2,212.4 L259.7,211.7 L260.1,210.9 L260.4,210.0 L261.0,209.3 L260.9,208.4 L260.4,207.6 L260.4,206.7 L260.0,205.9 L259.6,205.1 L259.2,204.3 L258.4,203.8 L257.5,203.5 L256.7,203.1 L256.1,202.4 L255.5,201.7 L254.7,201.5 L253.8,201.5 L253.2,202.2 L253.1,203.1 L252.7,203.9 L252.8,204.8 L252.6,205.7 L252.1,206.4 L251.5,207.2 L251.1,208.0 L250.7,208.8 L250.8,209.7 L250.7,210.6 L250.5,211.5 L250.3,212.4 L249.8,213.1 L249.2,213.7 L248.2,213.8 L247.8,213.0 L247.2,212.3 L246.5,211.7 L245.8,211.2 L244.9,211.1 L244.0,211.4 L243.4,212.1 L242.9,212.9 L243.2,213.7 L243.6,214.6 L243.6,215.5"/>
<path d="M272.5,217.6 L273.2,217.1 L274.0,216.6 L274.3,215.7 L274.5,214.8 L275.0,214.1 L275.7,213.5 L276.2,212.7 L276.4,211.8 L277.2,211.4 L278.1,211.1 L279.0,210.9 L279.9,211.0 L280.8,210.8 L281.7,210.8 L282.5,210.4 L283.4,210.1 L284.2,209.7 L285.1,209.7 L285.8,209.2 L286.1,208.3 L286.1,207.4 L285.9,206.5 L285.3,205.8 L284.4,205.4 L283.5,205.3 L282.8,204.8 L281.9,204.7 L281.0,205.1 L280.4,205.8 L279.7,206.3 L278.8,206.7 L278.6,207.6 L278.5,208.5 L278.2,209.3 L277.9,210.2 L277.6,211.0 L277.1,211.8 L277.1,212.7 L276.9,213.6 L276.8,214.5 L276.6,215.4 L276.2,216.2 L275.9,217.1 L275.2,217.5 L274.5,218.1 L273.6,218.3 L272.7,218.6"/>
<path d="M272.5,217.6 L271.6,217.4 L270.9,216.8 L270.1,216.4 L269.2,216.2 L268.4,215.9 L267.5,215.8 L266.8,215.1 L266.5,214.3 L266.0,213.5 L266.2,212.7 L265.9,211.8 L265.4,211.0 L265.2,210.1 L265.2,209.2 L265.0,208.3 L264.9,207.4 L264.6,206.6 L264.0,205.9 L263.4,205.2 L262.7,204.7 L261.8,204.4 L261.1,203.8 L260.4,203.3 L259.6,202.8 L259.2,202.0 L259.2,201.1 L259.2,200.2 L259.8,199.5 L260.7,199.5 L261.5,199.0 L262.1,198.4 L262.5,197.6 L262.5,196.6"/>
<path d="M272.5,217.6 L273.4,217.5 L274.3,217.3 L275.2,217.3 L276.1,217.5 L276.6,218.2 L277.1,219.0 L277.2,219.9 L277.9,220.5 L278.6,221.0 L279.4,221.5 L280.2,221.8 L281.0,222.2 L281.7,222.9 L282.4,223.4 L283.2,223.8 L284.1,224.1 L284.9,224.5 L285.8,224.7 L286.6,224.4 L287.5,224.1 L288.4,224.0 L289.3,224.0 L290.1,224.4 L290.5,225.2 L291.0,226.0 L291.5,226.8 L292.1,227.4 L292.3,228.3 L292.3,229.2 L292.1,230.1 L291.7,230.9 L291.5,231.8 L291.8,232.7 L291.7,233.6 L291.3,234.4 L291.1,235.3 L290.7,236.1 L290.1,236.8"/>
<path d="M272.5,217.6 L271.6,217.8 L270.7,218.0 L269.8,218.0 L268.9,217.8 L268.0,218.0 L267.1,218.1 L266.3,218.5 L265.4,218.7 L264.5,218.7 L263.9,219.4 L263.7,220.3 L263.3,221.1 L262.4,221.3 L261.7,221.9 L261.0,222.4 L260.1,222.5 L259.2,222.3 L258.4,222.8 L257.7,223.3 L256.8,223.0 L256.2,222.4 L255.6,221.6 L255.2,220.9 L255.1,220.0 L254.7,219.2 L254.7,218.3 L254.6,217.4 L254.9,216.5 L255.4,215.7 L255.8,214.9 L256.1,214.1 L256.1,213.1 L256.6,212.4 L257.2,211.7 L257.7,211.0 L258.2,210.2 L258.9,209.6 L259.4,208.9"/>
<path d="M272.5,217.6 L271.9,216.9 L271.4,216.1 L270.7,215.6 L269.8,215.6 L268.9,215.6 L268.1,215.9 L267.2,216.2 L266.5,216.9 L266.0,217.6 L265.2,218.1 L264.6,218.7 L263.7,219.0 L262.9,218.7 L262.0,218.4 L261.2,218.1 L260.7,217.3 L260.6,216.4 L260.2,215.6 L259.6,214.9 L258.9,214.3 L258.5,213.5 L258.4,212.6 L258.2,211.7 L258.1,210.8 L257.8,209.9 L257.5,209.1 L256.9,208.4 L256.3,207.7 L255.8,207.0 L254.9,206.8 L254.0,206.7 L253.1,206.9 L252.6,207.7 L252.5,208.6 L251.8,209.2 L251.5,210.1 L251.0,210.8 L250.6,211.7 L250.7,212.6 L250.5,213.4 L250.6,214.3 L250.5,215.2 L250.9,216.1 L251.1,216.9"/>
<path d="M272.5,217.6 L273.3,217.2 L273.8,216.4 L274.1,215.5 L274.2,214.6 L274.4,213.7 L275.0,213.0 L275.5,212.3 L276.1,211.7 L275.9,210.8 L275.2,210.3 L274.3,210.1 L273.6,209.5 L273.6,208.6 L274.3,207.9 L274.6,207.1 L274.8,206.2 L274.6,205.3 L274.2,204.5 L274.1,203.6 L274.4,202.7 L274.5,201.8 L275.1,201.2 L276.0,200.9 L276.9,201.1 L277.8,201.3 L278.6,201.5 L279.5,201.8 L280.4,202.0 L281.2,202.4 L282.0,202.9 L282.6,203.5 L283.2,204.2 L283.6,205.1 L283.8,205.9 L284.4,206.7 L284.3,207.6 L284.7,208.4 L285.1,209.2 L285.4,210.1 L285.6,211.0"/>
<path d="M272.5,217.6 L272.8,216.7 L273.2,215.9 L273.5,215.1 L273.9,214.3 L274.1,213.4 L274.2,212.5 L274.2,211.6 L274.4,210.7 L274.4,209.8 L274.0,208.9 L273.9,208.0 L273.7,207.1 L273.7,206.2 L273.5,205.3 L273.0,204.6 L272.9,203.7 L273.1,202.8 L273.2,201.9 L273.2,201.0 L273.7,200.2 L274.1,199.4 L274.9,199.0 L275.8,198.7 L276.7,198.5 L277.5,198.2 L278.3,197.8 L279.3,197.9 L280.1,197.5 L280.8,197.0 L281.7,196.6 L282.5,196.4 L283.4,196.7 L284.3,196.5 L285.1,196.8 L285.7,197.5 L285.9,198.4 L285.7,199.3 L285.8,200.2 L285.3,201.0 L284.5,201.4 L283.7,201.9 L282.9,202.2 L282.0,202.5 L281.2,202.8 L280.4,203.2 L279.7,203.8 L279.4,204.7 L279.2,205.6 L279.2,206.5 L279.1,207.4 L279.0,208.3 L278.7,209.1 L277.8,209.4 L276.9,209.4"/>
<path d="M272.5,217.6 L271.8,217.0 L270.9,216.9 L270.2,216.3 L269.3,216.1 L268.8,215.3 L268.0,214.9 L267.1,214.5 L266.4,214.0 L265.5,213.7 L264.6,213.8 L263.8,213.6 L262.9,213.4 L262.1,213.0 L261.8,212.1 L261.6,211.2 L261.8,210.3 L261.8,209.4 L261.3,208.7 L260.7,208.0 L260.5,207.1 L260.2,206.2 L260.3,205.3 L260.8,204.6 L261.7,204.3 L262.5,203.9 L263.3,203.5 L264.1,203.1 L264.9,202.6 L265.7,202.1 L266.5,201.8 L267.4,201.5 L268.0,200.8 L268.2,199.9 L268.5,199.1 L269.1,198.4 L269.5,197.6"/>
<path d="M272.5,217.6 L272.9,216.8 L273.4,216.0 L274.1,215.5 L274.9,215.0 L275.7,215.4 L276.6,215.3 L277.5,215.2 L278.3,214.8 L278.8,214.0 L279.0,213.1 L279.3,212.3 L279.8,211.5 L279.9,210.6 L280.0,209.7 L279.8,208.8 L279.8,207.9 L279.4,207.1 L279.5,206.2 L279.7,205.3 L280.4,204.7 L281.1,204.2 L281.3,203.3 L281.2,202.4 L280.6,201.8 L279.8,201.3 L279.3,200.5 L279.3,199.6 L279.5,198.7 L279.8,197.9 L280.5,197.4 L281.1,196.7 L281.8,196.1 L282.4,195.4 L283.2,194.9 L283.8,194.2 L284.0,193.3 L284.1,192.4 L284.1,191.5 L284.1,190.6 L283.9,189.7 L283.6,188.9 L283.0,188.2 L282.1,188.0 L281.3,188.3 L280.5,188.7 L279.7,189.2 L279.3,190.0 L279.0,190.9 L279.2,191.8 L279.4,192.7 L279.2,193.6 L279.0,194.5 L278.9,195.4 L278.8,196.3 L278.2,196.9 L277.6,197.6 L277.1,198.4 L277.3,199.3 L277.7,200.1 L277.9,201.0 L277.9,201.9 L277.5,202.7"/>
<path d="M272.5,217.6 L272.2,216.7 L271.7,216.0 L271.1,215.3 L270.4,214.7 L269.8,214.0 L269.5,213.2 L269.6,212.2 L269.7,211.3 L269.4,210.5 L269.2,209.6 L268.9,208.7 L268.7,207.9 L268.3,207.1 L268.1,206.2 L267.6,205.4 L267.1,204.7 L266.2,204.6 L265.3,204.5 L264.4,204.6 L263.7,205.2 L262.9,205.6 L262.5,206.4 L261.7,207.0 L260.8,207.2 L260.1,207.8 L259.8,208.6 L259.3,209.3 L258.9,210.1 L258.5,211.0 L258.0,211.7 L257.3,212.3 L256.6,212.8 L255.8,213.2 L255.0,213.8 L254.3,214.4 L253.4,214.4 L252.7,213.9 L252.0,213.3 L252.0,212.4 L252.5,211.6 L253.0,210.9 L253.7,210.3 L254.4,209.7 L255.1,209.1 L255.3,208.2 L255.1,207.4 L255.1,206.5 L255.2,205.6 L254.9,204.7 L254.4,203.9 L253.9,203.2 L253.0,203.1 L252.2,203.4 L251.4,203.9 L250.9,204.7 L250.8,205.6 L250.6,206.4 L250.6,207.3 L251.0,208.2 L251.3,209.0 L251.6,209.9 L252.0,210.7 L252.2,211.6"/>
<path d="M272.5,217.6 L271.9,216.9 L271.0,216.8 L270.4,216.2 L269.5,215.9 L268.8,215.3 L268.0,214.9 L267.2,214.6 L266.5,214.0 L265.8,213.4 L264.9,213.3 L264.1,213.7 L263.2,213.5 L262.3,213.8 L261.4,214.0 L260.5,214.2 L259.6,214.2 L258.9,214.8 L258.3,215.5 L257.7,216.1 L257.0,216.7 L256.3,217.3 L255.6,217.8 L255.1,218.6 L255.1,219.5 L254.6,220.3 L253.9,220.8 L253.5,221.6 L253.5,222.5 L253.7,223.4 L254.4,224.0 L254.8,224.8 L255.4,225.5 L256.3,225.4 L256.8,224.7 L257.7,224.3"/>
<path d="M272.5,217.6 L271.6,217.5 L270.7,217.6 L269.9,218.1 L269.1,218.5 L268.4,219.1 L267.7,219.6 L267.0,220.2 L266.2,220.6 L265.4,221.1 L264.5,221.2 L263.6,221.2 L262.8,221.6 L261.9,221.6 L261.0,221.5 L260.0,221.4 L259.2,221.0 L258.4,220.6 L258.3,219.7 L258.1,218.8 L258.2,217.9 L258.5,217.1 L258.5,216.2 L258.3,215.3 L258.0,214.4 L257.7,213.6 L257.7,212.7 L258.0,211.8 L258.6,211.1 L259.2,210.4 L259.5,209.6 L259.4,208.7 L259.3,207.8 L259.4,206.9 L259.8,206.0 L260.2,205.2 L260.7,204.5 L260.7,203.5 L260.9,202.6 L261.6,202.1 L262.2,201.4 L263.0,201.1 L263.9,200.8 L264.7,201.2"/>
<path d="M272.5,217.6 L272.4,216.7 L272.9,216.0 L273.6,215.3 L274.4,215.0 L274.9,214.2 L275.2,213.4 L275.5,212.5 L275.4,211.6 L275.8,210.8 L275.6,209.9 L275.9,209.1 L276.7,208.5 L277.4,207.9 L278.3,207.9 L279.1,208.3 L279.9,208.7 L280.7,209.1 L281.6,209.3 L282.5,209.3 L283.4,209.5 L284.0,210.1 L284.9,210.2 L285.8,210.0 L286.7,209.8 L287.1,209.0 L287.6,208.2 L287.7,207.3 L287.7,206.4 L287.3,205.6 L287.2,204.7 L286.6,204.0 L285.9,203.4 L285.0,203.3"/>
<path d="M272.5,217.6 L273.3,217.9 L274.2,217.8 L275.1,218.1 L275.6,218.9 L276.2,219.6 L276.6,220.4 L277.2,221.1 L278.1,221.4 L278.7,222.1 L279.4,222.6 L279.8,223.4 L280.3,224.2 L280.6,225.1 L280.7,226.0 L280.7,226.9 L280.0,227.5 L279.9,228.4 L279.6,229.3 L279.4,230.1 L279.7,231.0 L280.3,231.7 L280.3,232.6 L280.5,233.5 L280.7,234.4 L280.7,235.3 L280.6,236.2 L280.4,237.1 L280.0,237.9 L280.0,238.8 L280.5,239.5 L281.2,240.1 L282.1,240.4 L282.9,240.7 L283.8,240.3 L284.5,239.8 L285.2,239.2 L286.0,238.7 L286.5,238.0 L286.8,237.1 L287.4,236.4"/>
<path d="M272.5,217.6 L273.4,217.5 L274.2,217.0 L274.8,216.4 L275.4,215.7 L276.1,215.1 L276.9,214.8 L277.7,214.3 L278.5,214.0 L279.4,213.7 L280.3,213.6 L281.2,213.7 L282.1,213.8 L283.0,213.7 L283.9,213.7 L284.8,213.4 L285.5,213.9 L286.3,214.4 L287.0,214.9 L287.6,215.6 L287.7,216.5 L287.7,217.4 L288.2,218.2 L288.0,219.1 L287.9,220.0 L287.8,220.9 L288.1,221.8 L288.0,222.7 L288.0,223.6 L288.1,224.5 L287.6,225.2 L287.0,225.9 L286.2,226.3 L285.6,227.0 L284.9,227.6 L284.0,227.9 L283.1,227.9 L282.2,228.0 L281.3,228.0"/>
</g><g fill="#111">
<circle cx="266.0" cy="225.6" r="1.1"/>
<circle cx="268.0" cy="211.3" r="1.1"/>
<circle cx="275.4" cy="220.8" r="1.1"/>
<circle cx="271.8" cy="205.8" r="1.1"/>
<circle cx="275.9" cy="224.7" r="1.1"/>
<circle cx="267.2" cy="226.3" r="1.1"/>
<circle cx="279.7" cy="215.9" r="1.1"/>
<circle cx="270.4" cy="226.4" r="1.1"/>
<circle cx="273.9" cy="208.9" r="1.1"/>
<circle cx="283.2" cy="212.6" r="1.1"/>
<circle cx="276.1" cy="217.1" r="1.1"/>
<circle cx="280.2" cy="225.1" r="1.1"/>
<circle cx="280.3" cy="211.4" r="1.1"/>
<circle cx="287.0" cy="215.5" r="1.1"/>
<circle cx="280.1" cy="228.9" r="1.1"/>
<circle cx="267.1" cy="223.4" r="1.1"/>
<circle cx="269.9" cy="206.3" r="1.1"/>
<circle cx="274.3" cy="209.6" r="1.1"/>
<circle cx="262.0" cy="218.1" r="1.1"/>
<circle cx="276.8" cy="199.5" r="1.1"/>
<circle cx="286.2" cy="222.0" r="1.1"/>
<circle cx="279.8" cy="207.0" r="1.1"/>
<circle cx="261.0" cy="228.4" r="1.1"/>
<circle cx="279.3" cy="221.0" r="1.1"/>
<circle cx="284.5" cy="217.0" r="1.1"/>
<circle cx="266.0" cy="229.7" r="1.1"/>
<circle cx="280.0" cy="203.0" r="1.1"/>
<circle cx="279.0" cy="203.6" r="1.1"/>
<circle cx="279.7" cy="209.4" r="1.1"/>
<circle cx="263.9" cy="217.9" r="1.1"/>
<circle cx="258.0" cy="220.3" r="1.1"/>
<circle cx="269.5" cy="220.3" r="1.1"/>
<circle cx="271.3" cy="214.9" r="1.1"/>
<circle cx="263.1" cy="214.2" r="1.1"/>
<circle cx="270.6" cy="216.6" r="1.1"/>
<circle cx="268.2" cy="220.3" r="1.1"/>
<circle cx="280.8" cy="224.9" r="1.1"/>
<circle cx="274.1" cy="209.9" r="1.1"/>
<circle cx="283.2" cy="211.9" r="1.1"/>
<circle cx="268.3" cy="229.1" r="1.1"/>
<circle cx="273.9" cy="219.5" r="1.1"/>
<circle cx="274.1" cy="220.5" r="1.1"/>
<circle cx="277.2" cy="210.1" r="1.1"/>
<circle cx="280.6" cy="224.2" r="1.1"/>
<circle cx="276.2" cy="219.4" r="1.1"/>
<circle cx="283.5" cy="222.6" r="1.1"/>
<circle cx="285.4" cy="234.2" r="1.1"/>
<circle cx="271.7" cy="206.8" r="1.1"/>
<circle cx="282.7" cy="207.2" r="1.1"/>
<circle cx="278.4" cy="212.7" r="1.1"/>
<circle cx="277.4" cy="226.1" r="1.1"/>
<circle cx="271.4" cy="213.5" r="1.1"/>
<circle cx="282.3" cy="215.7" r="1.1"/>
<circle cx="285.4" cy="201.3" r="1.1"/>
<circle cx="269.5" cy="207.7" r="1.1"/>
<circle cx="284.8" cy="210.9" r="1.1"/>
<circle cx="286.9" cy="222.7" r="1.1"/>
<circle cx="286.8" cy="214.2" r="1.1"/>
<circle cx="272.6" cy="224.0" r="1.1"/>
<circle cx="278.2" cy="219.5" r="1.1"/>
<circle cx="270.0" cy="237.2" r="1.1"/>
<circle cx="273.0" cy="216.0" r="1.1"/>
<circle cx="271.7" cy="213.4" r="1.1"/>
<circle cx="266.8" cy="223.6" r="1.1"/>
<circle cx="279.9" cy="225.8" r="1.1"/>
<circle cx="280.9" cy="225.6" r="1.1"/>
<circle cx="278.5" cy="215.4" r="1.1"/>
<circle cx="286.9" cy="215.8" r="1.1"/>
<circle cx="265.4" cy="208.9" r="1.1"/>
<circle cx="272.8" cy="230.5" r="1.1"/>
<circle cx="272.8" cy="232.7" r="1.1"/>
<circle cx="270.5" cy="225.3" r="1.1"/>
<circle cx="278.3" cy="211.6" r="1.1"/>
<circle cx="268.4" cy="218.3" r="1.1"/>
<circle cx="266.2" cy="220.0" r="1.1"/>
<circle cx="278.7" cy="226.7" r="1.1"/>
<circle cx="272.1" cy="219.6" r="1.1"/>
<circle cx="264.6" cy="229.9" r="1.1"/>
<circle cx="287.4" cy="211.7" r="1.1"/>
<circle cx="261.5" cy="215.5" r="1.1"/>
<circle cx="272.4" cy="225.4" r="1.1"/>
<circle cx="266.6" cy="211.6" r="1.1"/>
<circle cx="276.5" cy="218.6" r="1.1"/>
<circle cx="284.4" cy="208.3" r="1.1"/>
<circle cx="277.1" cy="226.2" r="1.1"/>
<circle cx="288.3" cy="218.8" r="1.1"/>
<circle cx="260.6" cy="211.7" r="1.1"/>
<circle cx="265.7" cy="229.0" r="1.1"/>
<circle cx="285.2" cy="214.3" r="1.1"/>
<circle cx="290.2" cy="220.0" r="1.1"/>
<circle cx="262.2" cy="226.6" r="1.1"/>
<circle cx="274.2" cy="202.2" r="1.1"/>
<circle cx="260.0" cy="214.0" r="1.1"/>
<circle cx="286.6" cy="186.0" r="1.1"/>
<circle cx="269.9" cy="234.6" r="1.1"/>
<circle cx="248.9" cy="209.6" r="1.1"/>
<circle cx="286.7" cy="214.2" r="1.1"/>
<circle cx="288.6" cy="198.2" r="1.1"/>
<circle cx="253.0" cy="221.1" r="1.1"/>
<circle cx="279.6" cy="199.8" r="1.1"/>
<circle cx="288.6" cy="198.3" r="1.1"/>
<circle cx="296.3" cy="198.0" r="1.1"/>
<circle cx="280.3" cy="194.0" r="1.1"/>
<circle cx="253.5" cy="219.4" r="1.1"/>
<circle cx="269.8" cy="234.0" r="1.1"/>
<circle cx="254.7" cy="211.4" r="1.1"/>
<circle cx="287.3" cy="211.2" r="1.1"/>
<circle cx="280.6" cy="232.6" r="1.1"/>
<circle cx="255.5" cy="221.4" r="1.1"/>
<circle cx="291.3" cy="204.4" r="1.1"/>
<circle cx="268.0" cy="202.3" r="1.1"/>
<circle cx="258.8" cy="216.3" r="1.1"/>
<circle cx="289.6" cy="211.9" r="1.1"/>
<circle cx="253.8" cy="212.4" r="1.1"/>
<circle cx="269.8" cy="229.8" r="1.1"/>
<circle cx="260.4" cy="203.4" r="1.1"/>
<circle cx="278.5" cy="202.1" r="1.1"/>
<circle cx="278.6" cy="215.6" r="1.1"/>
<circle cx="253.3" cy="205.7" r="1.1"/>
<circle cx="259.7" cy="208.4" r="1.1"/>
<circle cx="276.7" cy="227.4" r="1.1"/>
<circle cx="296.8" cy="230.6" r="1.1"/>
<circle cx="274.5" cy="232.2" r="1.1"/>
<circle cx="271.1" cy="231.4" r="1.1"/>
<circle cx="296.6" cy="210.7" r="1.1"/>
<circle cx="295.6" cy="232.2" r="1.1"/>
<circle cx="289.4" cy="223.9" r="1.1"/>
<circle cx="265.3" cy="226.4" r="1.1"/>
<circle cx="265.5" cy="242.7" r="1.1"/>
<circle cx="283.8" cy="227.7" r="1.1"/>
<circle cx="281.0" cy="199.4" r="1.1"/>
<circle cx="295.4" cy="234.5" r="1.1"/>
<circle cx="277.2" cy="198.6" r="1.1"/>
<circle cx="288.6" cy="216.9" r="1.1"/>
<circle cx="282.4" cy="194.0" r="1.1"/>
<circle cx="239.9" cy="210.3" r="1.1"/>
<circle cx="295.1" cy="222.6" r="1.1"/>
<circle cx="261.3" cy="227.2" r="1.1"/>
<circle cx="285.5" cy="192.5" r="1.1"/>
<circle cx="281.0" cy="199.9" r="1.1"/>
<circle cx="294.5" cy="220.1" r="1.1"/>
<circle cx="285.8" cy="220.8" r="1.1"/>
<circle cx="298.2" cy="204.6" r="1.1"/>
<circle cx="262.2" cy="197.3" r="1.1"/>
<circle cx="285.8" cy="230.0" r="1.1"/>
<circle cx="277.0" cy="179.7" r="1.1"/>
<circle cx="275.6" cy="211.0" r="1.1"/>
<circle cx="259.2" cy="213.4" r="1.1"/>
<circle cx="249.6" cy="233.6" r="1.1"/>
<circle cx="243.6" cy="215.5" r="1.1"/>
<circle cx="272.7" cy="218.6" r="1.1"/>
<circle cx="262.5" cy="196.6" r="1.1"/>
<circle cx="290.1" cy="236.8" r="1.1"/>
<circle cx="259.4" cy="208.9" r="1.1"/>
<circle cx="251.1" cy="216.9" r="1.1"/>
<circle cx="285.6" cy="211.0" r="1.1"/>
<circle cx="276.9" cy="209.4" r="1.1"/>
<circle cx="269.5" cy="197.6" r="1.1"/>
<circle cx="277.5" cy="202.7" r="1.1"/>
<circle cx="252.2" cy="211.6" r="1.1"/>
<circle cx="257.7" cy="224.3" r="1.1"/>
<circle cx="264.7" cy="201.2" r="1.1"/>
<circle cx="285.0" cy="203.3" r="1.1"/>
<circle cx="287.4" cy="236.4" r="1.1"/>
<circle cx="281.3" cy="228.0" r="1.1"/>
<circle cx="302.5" cy="163.4" r="1.1"/>
<circle cx="302.5" cy="269.0" r="1.1"/>
<circle cx="296.5" cy="241.6" r="1.1"/>
<circle cx="308.5" cy="223.6" r="1.1"/>
<circle cx="238.5" cy="248.8" r="1.1"/>
<circle cx="237.5" cy="235.6" r="1.1"/>
<circle cx="244.5" cy="213.6" r="1.1"/>
<circle cx="246.5" cy="238.6" r="1.1"/>
<circle cx="288.5" cy="247.6" r="1.1"/>
<circle cx="271.5" cy="191.6" r="1.1"/>
</g></g>
<rect x="216.00" y="160.50" width="113.50" height="113.50" fill="none" stroke="#666" stroke-width="1.25"/>
<text x="242.20" y="284.60" font-size="8.6" text-anchor="middle" font-weight="normal" fill="#111">-100</text>
<text x="272.50" y="284.60" font-size="8.6" text-anchor="middle" font-weight="normal" fill="#111">0</text>
<text x="302.80" y="284.60" font-size="8.6" text-anchor="middle" font-weight="normal" fill="#111">100</text>
<text x="211.70" y="251.00" font-size="8.6" text-anchor="end" font-weight="normal" fill="#111">-100</text>
<text x="211.70" y="220.70" font-size="8.6" text-anchor="end" font-weight="normal" fill="#111">0</text>
<text x="211.70" y="190.40" font-size="8.6" text-anchor="end" font-weight="normal" fill="#111">100</text>
<g stroke="#f0f0f0" stroke-width="0.6"><line x1="389.95" y1="161" x2="389.95" y2="274.4"/><line x1="420.25" y1="161" x2="420.25" y2="274.4"/><line x1="348.5" y1="202.55" x2="462" y2="202.55"/><line x1="348.5" y1="232.85" x2="462" y2="232.85"/><line x1="374.80" y1="161" x2="374.80" y2="274.4"/><line x1="435.40" y1="161" x2="435.40" y2="274.4"/><line x1="348.5" y1="187.40" x2="462" y2="187.40"/><line x1="348.5" y1="248.00" x2="462" y2="248.00"/><line x1="359.65" y1="161" x2="359.65" y2="274.4"/><line x1="450.55" y1="161" x2="450.55" y2="274.4"/><line x1="348.5" y1="172.25" x2="462" y2="172.25"/><line x1="348.5" y1="263.15" x2="462" y2="263.15"/></g>
<line x1="405.10" y1="161.00" x2="405.10" y2="274.40" stroke="#acacac" stroke-width="1.2"/>
<line x1="348.50" y1="217.70" x2="462.00" y2="217.70" stroke="#acacac" stroke-width="1.2"/>
<g clip-path="url(#cdk2)"><g fill="none" stroke="#444" stroke-width="0.55" stroke-linejoin="round">
<path d="M404.5,217.0 L404.9,216.4 L405.1,216.6 L405.6,215.9 L405.8,215.9 L405.6,214.9 L405.9,215.5 L406.2,215.7 L406.7,214.5 L406.7,214.6 L407.1,214.1 L407.0,214.6 L407.1,213.3 L406.6,212.2 L406.8,212.2 L406.7,211.7 L407.4,211.7 L407.4,210.4 L408.2,210.7 L408.7,209.9 L408.7,209.0 L409.1,208.9 L408.8,208.6 L409.0,208.0 L408.4,207.2 L408.5,207.2"/>
<path d="M404.5,217.0 L403.8,217.4 L402.9,217.0 L402.7,216.8 L401.1,216.9 L401.4,216.9 L400.7,216.5 L400.8,216.6 L399.9,217.0 L400.3,217.1 L399.2,216.6 L398.9,216.7 L398.4,217.2 L398.5,216.8 L398.2,216.6 L398.0,217.0 L396.9,217.0 L396.6,217.1 L396.1,216.9 L395.6,217.1 L395.4,217.0"/>
<path d="M404.5,217.0 L404.2,217.4 L405.0,217.5 L405.3,218.2 L405.2,218.2 L405.5,219.5 L405.5,219.4 L404.6,220.3 L404.4,220.4 L403.9,221.4 L403.7,221.6 L404.0,221.7 L404.0,222.5 L404.0,223.5 L404.8,223.9 L404.5,224.8 L404.6,223.7 L404.1,224.3 L404.0,224.2 L404.3,224.8 L404.6,224.8 L404.0,225.4 L404.2,226.8 L404.3,227.4 L403.5,228.2 L403.6,228.6"/>
<path d="M404.5,217.0 L404.7,217.8 L404.7,217.0 L405.2,217.9 L405.5,217.8 L405.3,217.7 L405.9,218.2 L405.4,218.5 L406.0,219.5 L405.7,219.1 L406.1,219.6 L405.8,220.6 L405.9,221.2 L406.6,222.1 L405.8,222.6 L406.8,223.4 L406.4,224.1 L407.1,224.2 L407.4,224.5 L407.6,225.1 L407.6,225.7 L407.7,225.9 L408.3,225.4 L408.1,225.6 L408.5,225.5 L409.0,225.1 L409.5,226.3 L408.9,227.1 L409.2,228.1 L409.4,228.8 L409.3,229.8 L409.2,230.0 L409.3,229.2 L409.9,229.4 L410.0,229.7 L410.2,229.4 L410.8,229.6 L410.9,230.4 L411.0,230.9 L411.4,231.6 L411.4,232.0"/>
<path d="M404.5,217.0 L405.1,217.2 L406.2,217.6 L405.8,218.0 L406.5,217.7 L406.8,217.6 L407.3,218.4 L407.3,217.5 L407.0,217.3 L407.8,217.3 L408.0,217.1 L408.7,217.2 L409.5,217.2 L410.2,216.9 L410.8,216.7 L411.6,217.0"/>
<path d="M404.5,217.0 L404.9,217.1 L404.7,217.9 L404.8,218.5 L405.3,218.9 L406.0,219.5 L406.0,219.0 L406.6,219.5 L406.9,218.7 L407.2,219.1 L407.7,219.2 L407.8,219.7 L408.7,220.7 L408.1,220.9 L409.2,221.5 L409.3,222.2"/>
<path d="M404.5,217.0 L404.9,216.6 L404.2,216.1 L404.3,215.6 L403.8,214.0 L404.0,213.8 L402.8,212.3 L402.9,213.1 L402.2,212.6 L402.0,212.0 L401.5,212.0"/>
<path d="M404.5,217.0 L404.2,216.7 L403.6,216.2 L403.7,215.6 L403.0,216.2 L402.4,215.0 L402.5,214.3 L402.4,214.5 L402.3,214.3 L402.7,214.3 L402.5,214.0"/>
<path d="M404.5,217.0 L404.6,217.0 L405.1,215.8 L405.4,216.1 L405.9,215.2 L405.8,214.7 L406.2,214.3 L406.1,213.6 L406.8,213.4 L406.6,213.5 L406.5,213.0"/>
<path d="M404.5,217.0 L404.3,217.0 L403.7,217.3 L403.3,217.3 L402.1,217.5 L402.1,217.9 L402.4,217.9 L401.8,217.5 L401.2,218.2 L401.4,218.3 L400.5,219.0"/>
<path d="M404.5,217.0 L403.5,217.8 L403.7,217.7 L403.7,217.4 L402.9,218.1 L403.0,218.3 L402.6,218.4 L402.3,219.2 L401.9,220.0 L402.0,220.3 L401.5,221.0"/>
<path d="M404.5,217.0 L404.7,217.0 L404.8,217.0 L404.1,217.8 L404.1,217.7 L404.5,217.2 L404.4,218.0 L404.7,218.2 L405.1,219.1 L404.9,219.5 L405.5,220.0"/>
<path d="M404.5,217.0 L404.6,217.3 L405.0,216.6 L404.6,216.9 L405.1,217.1 L405.1,217.1 L405.4,217.3 L406.0,216.2 L406.4,215.8 L406.8,216.1 L407.5,216.0"/>
<path d="M404.5,217.0 L404.2,216.4 L404.5,216.5 L404.4,215.8 L403.8,215.1 L403.6,214.6 L404.3,215.0 L403.7,214.3 L404.0,213.5 L403.1,213.2 L402.7,213.3 L403.3,212.6 L403.4,212.4 L403.4,211.5 L403.7,211.3 L403.5,211.0"/>
<path d="M404.5,217.0 L404.5,217.1 L404.5,218.1 L404.7,218.5 L404.1,219.5 L403.7,220.1 L404.3,220.2 L404.4,220.6 L404.1,221.4 L404.2,221.6 L404.5,222.0"/>
<path d="M404.5,217.0 L403.8,217.0 L403.3,217.2 L403.1,216.6 L402.6,216.0 L402.3,216.2 L401.2,216.8 L400.8,216.2 L401.1,215.6 L400.7,216.4 L400.5,216.0"/>
<path d="M404.5,217.0 L404.4,217.8 L405.1,217.8 L405.1,217.9 L405.7,218.2 L405.6,219.2 L405.9,219.0 L405.8,218.2 L406.2,218.3 L406.6,217.6 L406.5,218.0"/>
<path d="M404.5,217.0 L404.8,216.4 L405.4,217.2 L405.7,216.5 L406.1,216.5 L406.3,217.6 L407.3,216.7 L408.3,215.8 L408.6,216.2 L409.4,215.6 L409.5,215.0"/>
</g><g fill="none" stroke="#2a2a2a" stroke-width="0.45" stroke-linejoin="round">
<path d="M404.5,217.0 L404.4,217.6 L404.5,218.1 L404.7,218.7 L405.1,219.0 L405.3,219.5 L405.2,220.1 L405.3,220.7 L405.2,221.2 L405.4,221.7 L405.6,222.3"/>
<path d="M404.5,217.0 L404.6,217.6 L404.2,217.4 L403.7,217.2 L403.4,216.9 L403.0,217.0 L402.6,216.7 L402.3,216.3"/>
<path d="M404.5,217.0 L404.3,217.5 L404.7,217.8 L404.9,218.3 L405.4,218.2 L405.8,218.3 L406.2,218.6 L406.1,219.2 L405.9,219.7 L406.3,219.4"/>
<path d="M404.5,217.0 L405.0,217.0 L405.4,217.2 L405.7,216.8 L405.4,216.3 L405.3,215.8"/>
<path d="M404.5,217.0 L404.1,216.8 L404.2,217.4 L404.5,217.8"/>
<path d="M404.5,217.0 L404.3,216.5 L403.9,216.3 L403.5,216.5 L403.0,216.5 L402.7,216.0 L402.3,216.0"/>
<path d="M404.5,217.0 L404.1,216.8 L403.7,216.4 L403.6,215.8 L403.9,215.4 L403.5,215.7"/>
<path d="M404.5,217.0 L404.4,217.6 L404.0,217.3 L403.7,217.7 L403.8,218.2 L403.8,218.8"/>
<path d="M404.5,217.0 L404.7,216.5 L405.1,216.1 L405.5,216.2 L405.9,216.4 L406.2,216.9"/>
<path d="M404.5,217.0 L404.7,216.5 L405.1,216.9 L405.3,217.4 L405.3,218.0"/>
<path d="M404.5,217.0 L404.9,217.1 L404.8,217.7 L405.2,218.1 L405.6,218.0 L406.0,218.2 L406.5,218.0 L406.8,218.4 L406.7,218.9"/>
<path d="M404.5,217.0 L404.4,217.6 L404.0,217.4 L403.5,217.4 L403.1,217.1 L403.0,216.5 L402.7,216.1 L403.1,215.8 L403.2,216.4 L402.7,216.5 L402.7,217.1"/>
<path d="M404.5,217.0 L404.2,216.5 L403.8,216.5 L403.6,217.0 L403.2,217.3 L402.9,217.7 L403.3,217.6 L403.6,217.2"/>
<path d="M404.5,217.0 L404.8,216.5 L404.7,215.9 L404.5,215.4 L404.5,214.8 L404.5,214.2"/>
<path d="M404.5,217.0 L404.4,216.4 L404.7,216.0 L404.5,215.5 L404.1,215.9 L403.7,215.8 L403.4,216.3"/>
<path d="M404.5,217.0 L404.9,216.7 L405.2,216.3 L405.1,215.8 L405.5,215.4 L405.4,214.8 L405.4,214.2 L405.8,214.0 L406.2,213.7 L406.4,213.2"/>
<path d="M404.5,217.0 L405.0,216.9 L405.4,217.2 L405.7,216.8 L406.2,216.9"/>
<path d="M404.5,217.0 L404.1,216.9 L403.6,216.6 L403.3,216.3"/>
<path d="M404.5,217.0 L405.0,217.0 L404.8,217.5 L404.5,217.1 L404.1,216.8 L403.9,216.2 L404.0,215.6 L404.0,215.1 L404.5,214.9"/>
<path d="M404.5,217.0 L404.4,216.4 L404.8,216.0 L404.7,215.5 L404.4,215.1 L404.1,215.6 L404.3,216.1 L404.1,216.7 L403.6,216.6 L403.5,217.2"/>
<path d="M404.5,217.0 L404.7,216.5 L404.7,215.9 L404.4,215.4 L404.5,214.9 L404.9,214.5 L405.1,215.0"/>
<path d="M404.5,217.0 L404.9,217.3 L405.3,216.9 L405.6,216.5 L406.0,216.7 L406.4,217.0 L406.6,217.6 L406.8,218.1 L407.2,218.5 L407.3,219.1 L407.6,219.5"/>
<path d="M404.5,217.0 L404.9,216.7 L404.9,216.1 L404.5,215.7 L404.6,215.2 L405.0,215.3 L405.4,215.6"/>
<path d="M404.5,217.0 L404.7,217.5 L404.3,217.8"/>
<path d="M404.5,217.0 L404.7,216.5 L404.7,215.9 L405.0,216.3 L405.3,216.8 L405.7,216.9 L406.1,217.3 L405.9,217.8 L405.5,217.9 L405.3,217.4"/>
<path d="M404.5,217.0 L404.9,216.7 L404.7,216.1 L404.9,215.6 L405.3,215.4 L405.7,215.5 L406.2,215.7 L406.6,215.5 L406.2,215.1 L405.8,215.2 L405.3,215.3"/>
</g><g fill="#111">
<circle cx="405.6" cy="222.3" r="1.1"/>
<circle cx="402.3" cy="216.3" r="1.1"/>
<circle cx="406.3" cy="219.4" r="1.1"/>
<circle cx="405.3" cy="215.8" r="1.1"/>
<circle cx="404.5" cy="217.8" r="1.1"/>
<circle cx="402.3" cy="216.0" r="1.1"/>
<circle cx="403.5" cy="215.7" r="1.1"/>
<circle cx="403.8" cy="218.8" r="1.1"/>
<circle cx="406.2" cy="216.9" r="1.1"/>
<circle cx="405.3" cy="218.0" r="1.1"/>
<circle cx="406.7" cy="218.9" r="1.1"/>
<circle cx="402.7" cy="217.1" r="1.1"/>
<circle cx="403.6" cy="217.2" r="1.1"/>
<circle cx="404.5" cy="214.2" r="1.1"/>
<circle cx="403.4" cy="216.3" r="1.1"/>
<circle cx="406.4" cy="213.2" r="1.1"/>
<circle cx="406.2" cy="216.9" r="1.1"/>
<circle cx="403.3" cy="216.3" r="1.1"/>
<circle cx="404.5" cy="214.9" r="1.1"/>
<circle cx="403.5" cy="217.2" r="1.1"/>
<circle cx="405.1" cy="215.0" r="1.1"/>
<circle cx="407.6" cy="219.5" r="1.1"/>
<circle cx="405.4" cy="215.6" r="1.1"/>
<circle cx="404.3" cy="217.8" r="1.1"/>
<circle cx="405.3" cy="217.4" r="1.1"/>
<circle cx="405.3" cy="215.3" r="1.1"/>
<circle cx="408.5" cy="207.2" r="1.1"/>
<circle cx="395.4" cy="217.0" r="1.1"/>
<circle cx="403.6" cy="228.6" r="1.1"/>
<circle cx="411.4" cy="232.0" r="1.1"/>
<circle cx="411.6" cy="217.0" r="1.1"/>
<circle cx="409.3" cy="222.2" r="1.1"/>
<circle cx="401.5" cy="212.0" r="1.1"/>
<circle cx="402.5" cy="214.0" r="1.1"/>
<circle cx="406.5" cy="213.0" r="1.1"/>
<circle cx="400.5" cy="219.0" r="1.1"/>
<circle cx="401.5" cy="221.0" r="1.1"/>
<circle cx="405.5" cy="220.0" r="1.1"/>
<circle cx="407.5" cy="216.0" r="1.1"/>
<circle cx="403.5" cy="211.0" r="1.1"/>
<circle cx="404.5" cy="222.0" r="1.1"/>
<circle cx="400.5" cy="216.0" r="1.1"/>
<circle cx="406.5" cy="218.0" r="1.1"/>
<circle cx="409.5" cy="215.0" r="1.1"/>
</g></g>
<rect x="349.10" y="160.00" width="112.30" height="6.2" fill="#fff"/>
<path d="M385.60,161.00 H348.50 V274.40 H462.00 V161.00 H457.40" fill="none" stroke="#666" stroke-width="1.25"/>
<text x="374.80" y="285.00" font-size="8.6" text-anchor="middle" font-weight="normal" fill="#111">-100</text>
<text x="405.10" y="285.00" font-size="8.6" text-anchor="middle" font-weight="normal" fill="#111">0</text>
<text x="435.40" y="285.00" font-size="8.6" text-anchor="middle" font-weight="normal" fill="#111">100</text>
</svg>
</body></html>
